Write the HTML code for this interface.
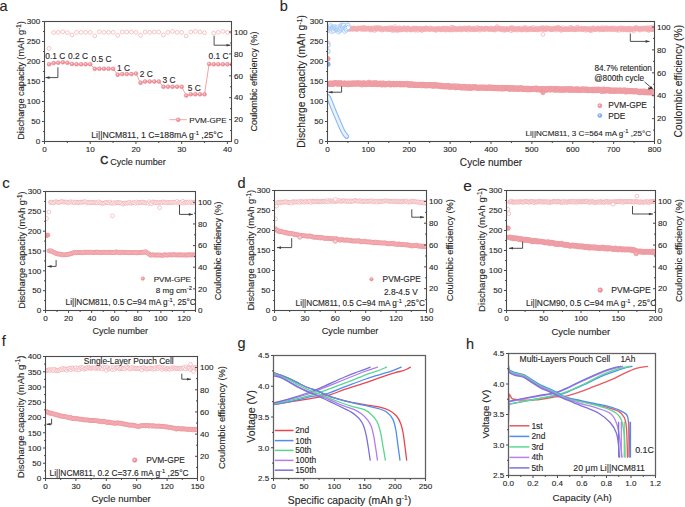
<!DOCTYPE html>
<html><head><meta charset="utf-8"><style>
html,body{margin:0;padding:0;background:#fff;width:685px;height:507px;overflow:hidden}
svg{display:block}
text{font-family:"Liberation Sans", sans-serif;fill:#262626;stroke:#262626;stroke-width:0.12px}
</style></head><body>
<svg width="685" height="507" viewBox="0 0 685 507">
<rect width="685" height="507" fill="#fff"/>
<text x="44.50" y="152.10" font-size="8.1" text-anchor="middle">0</text>
<text x="90.22" y="152.10" font-size="8.1" text-anchor="middle">10</text>
<text x="135.94" y="152.10" font-size="8.1" text-anchor="middle">20</text>
<text x="181.66" y="152.10" font-size="8.1" text-anchor="middle">30</text>
<text x="227.39" y="152.10" font-size="8.1" text-anchor="middle">40</text>
<text x="40.30" y="144.25" font-size="8.1" text-anchor="end">0</text>
<text x="40.30" y="124.25" font-size="8.1" text-anchor="end">50</text>
<text x="40.30" y="104.25" font-size="8.1" text-anchor="end">100</text>
<text x="40.30" y="84.25" font-size="8.1" text-anchor="end">150</text>
<text x="40.30" y="64.25" font-size="8.1" text-anchor="end">200</text>
<text x="40.30" y="44.25" font-size="8.1" text-anchor="end">250</text>
<text x="40.30" y="24.25" font-size="8.1" text-anchor="end">300</text>
<text x="234.00" y="144.25" font-size="8.1">0</text>
<text x="234.00" y="122.35" font-size="8.1">20</text>
<text x="234.00" y="100.45" font-size="8.1">40</text>
<text x="234.00" y="78.56" font-size="8.1">60</text>
<text x="234.00" y="56.66" font-size="8.1">80</text>
<text x="234.00" y="34.76" font-size="8.1">100</text>
<text x="-0.50" y="11.00" font-size="14.5" >a</text>
<text transform="translate(24.20,80.50) rotate(-90)" font-size="9.2" text-anchor="middle">Discharge capacity (mAh g<tspan dy="-0.471em" font-size="0.7em">-1</tspan><tspan dy="0.33em">)</tspan></text>
<text transform="translate(257.00,81.50) rotate(-90)" font-size="9.1" text-anchor="middle">Coulombic efficiency (%)</text>
<text x="100.30" y="164.30" font-size="11" style="stroke-width:0.45px">C</text>
<text x="110.20" y="165.00" font-size="9" >Cycle number</text>
<text x="327.50" y="152.10" font-size="8.1" text-anchor="middle">0</text>
<text x="368.38" y="152.10" font-size="8.1" text-anchor="middle">100</text>
<text x="409.25" y="152.10" font-size="8.1" text-anchor="middle">200</text>
<text x="450.12" y="152.10" font-size="8.1" text-anchor="middle">300</text>
<text x="491.00" y="152.10" font-size="8.1" text-anchor="middle">400</text>
<text x="531.88" y="152.10" font-size="8.1" text-anchor="middle">500</text>
<text x="572.75" y="152.10" font-size="8.1" text-anchor="middle">600</text>
<text x="613.62" y="152.10" font-size="8.1" text-anchor="middle">700</text>
<text x="654.50" y="152.10" font-size="8.1" text-anchor="middle">800</text>
<text x="323.30" y="144.25" font-size="8.1" text-anchor="end">0</text>
<text x="323.30" y="124.25" font-size="8.1" text-anchor="end">50</text>
<text x="323.30" y="104.25" font-size="8.1" text-anchor="end">100</text>
<text x="323.30" y="84.25" font-size="8.1" text-anchor="end">150</text>
<text x="323.30" y="64.25" font-size="8.1" text-anchor="end">200</text>
<text x="323.30" y="44.25" font-size="8.1" text-anchor="end">250</text>
<text x="323.30" y="24.25" font-size="8.1" text-anchor="end">300</text>
<text x="657.00" y="144.25" font-size="8.1">0</text>
<text x="657.00" y="121.35" font-size="8.1">20</text>
<text x="657.00" y="98.45" font-size="8.1">40</text>
<text x="657.00" y="75.55" font-size="8.1">60</text>
<text x="657.00" y="52.65" font-size="8.1">80</text>
<text x="657.00" y="29.75" font-size="8.1">100</text>
<text x="279.70" y="10.90" font-size="14.5" >b</text>
<text transform="translate(305.00,81.40) rotate(-90)" font-size="10.3" text-anchor="middle">Discharge capacity (mAh g<tspan dy="-0.471em" font-size="0.7em">-1</tspan><tspan dy="0.33em">)</tspan></text>
<text transform="translate(682.00,81.25) rotate(-90)" font-size="10.25" text-anchor="middle">Coulombic efficiency (%)</text>
<text x="491.00" y="166.00" font-size="10.1" text-anchor="middle" >Cycle number</text>
<text x="45.50" y="321.10" font-size="8.1" text-anchor="middle">0</text>
<text x="68.58" y="321.10" font-size="8.1" text-anchor="middle">20</text>
<text x="91.65" y="321.10" font-size="8.1" text-anchor="middle">40</text>
<text x="114.73" y="321.10" font-size="8.1" text-anchor="middle">60</text>
<text x="137.81" y="321.10" font-size="8.1" text-anchor="middle">80</text>
<text x="160.88" y="321.10" font-size="8.1" text-anchor="middle">100</text>
<text x="183.96" y="321.10" font-size="8.1" text-anchor="middle">120</text>
<text x="41.30" y="313.25" font-size="8.1" text-anchor="end">0</text>
<text x="41.30" y="293.42" font-size="8.1" text-anchor="end">50</text>
<text x="41.30" y="273.58" font-size="8.1" text-anchor="end">100</text>
<text x="41.30" y="253.75" font-size="8.1" text-anchor="end">150</text>
<text x="41.30" y="233.92" font-size="8.1" text-anchor="end">200</text>
<text x="41.30" y="214.08" font-size="8.1" text-anchor="end">250</text>
<text x="41.30" y="194.25" font-size="8.1" text-anchor="end">300</text>
<text x="198.00" y="313.25" font-size="8.1">0</text>
<text x="198.00" y="291.61" font-size="8.1">20</text>
<text x="198.00" y="269.98" font-size="8.1">40</text>
<text x="198.00" y="248.34" font-size="8.1">60</text>
<text x="198.00" y="226.70" font-size="8.1">80</text>
<text x="198.00" y="205.07" font-size="8.1">100</text>
<text x="2.30" y="188.00" font-size="15" >c</text>
<text transform="translate(25.00,250.20) rotate(-90)" font-size="9.1" text-anchor="middle">Discharge capacity (mAh g<tspan dy="-0.471em" font-size="0.7em">-1</tspan><tspan dy="0.33em">)</tspan></text>
<text transform="translate(221.30,250.90) rotate(-90)" font-size="9.0" text-anchor="middle">Coulombic efficiency (%)</text>
<text x="120.20" y="333.60" font-size="9" text-anchor="middle" >Cycle number</text>
<text x="274.50" y="321.10" font-size="8.1" text-anchor="middle">0</text>
<text x="304.90" y="321.10" font-size="8.1" text-anchor="middle">30</text>
<text x="335.30" y="321.10" font-size="8.1" text-anchor="middle">60</text>
<text x="365.70" y="321.10" font-size="8.1" text-anchor="middle">90</text>
<text x="396.10" y="321.10" font-size="8.1" text-anchor="middle">120</text>
<text x="426.50" y="321.10" font-size="8.1" text-anchor="middle">150</text>
<text x="270.30" y="313.25" font-size="8.1" text-anchor="end">0</text>
<text x="270.30" y="293.25" font-size="8.1" text-anchor="end">50</text>
<text x="270.30" y="273.25" font-size="8.1" text-anchor="end">100</text>
<text x="270.30" y="253.25" font-size="8.1" text-anchor="end">150</text>
<text x="270.30" y="233.25" font-size="8.1" text-anchor="end">200</text>
<text x="270.30" y="213.25" font-size="8.1" text-anchor="end">250</text>
<text x="270.30" y="193.25" font-size="8.1" text-anchor="end">300</text>
<text x="429.00" y="313.25" font-size="8.1">0</text>
<text x="429.00" y="291.43" font-size="8.1">20</text>
<text x="429.00" y="269.61" font-size="8.1">40</text>
<text x="429.00" y="247.80" font-size="8.1">60</text>
<text x="429.00" y="225.98" font-size="8.1">80</text>
<text x="429.00" y="204.16" font-size="8.1">100</text>
<text x="237.50" y="188.00" font-size="14.5" >d</text>
<text transform="translate(254.00,250.10) rotate(-90)" font-size="9.35" text-anchor="middle">Discharge capacity (mAh g<tspan dy="-0.471em" font-size="0.7em">-1</tspan><tspan dy="0.33em">)</tspan></text>
<text transform="translate(452.90,250.20) rotate(-90)" font-size="9.3" text-anchor="middle">Coulombic efficiency (%)</text>
<text x="350.00" y="334.00" font-size="9.2" text-anchor="middle" >Cycle number</text>
<text x="506.50" y="321.10" font-size="8.1" text-anchor="middle">0</text>
<text x="543.75" y="321.10" font-size="8.1" text-anchor="middle">50</text>
<text x="581.00" y="321.10" font-size="8.1" text-anchor="middle">100</text>
<text x="618.25" y="321.10" font-size="8.1" text-anchor="middle">150</text>
<text x="655.50" y="321.10" font-size="8.1" text-anchor="middle">200</text>
<text x="502.30" y="313.25" font-size="8.1" text-anchor="end">0</text>
<text x="502.30" y="293.25" font-size="8.1" text-anchor="end">50</text>
<text x="502.30" y="273.25" font-size="8.1" text-anchor="end">100</text>
<text x="502.30" y="253.25" font-size="8.1" text-anchor="end">150</text>
<text x="502.30" y="233.25" font-size="8.1" text-anchor="end">200</text>
<text x="502.30" y="213.25" font-size="8.1" text-anchor="end">250</text>
<text x="502.30" y="193.25" font-size="8.1" text-anchor="end">300</text>
<text x="658.00" y="313.25" font-size="8.1">0</text>
<text x="658.00" y="291.43" font-size="8.1">20</text>
<text x="658.00" y="269.61" font-size="8.1">40</text>
<text x="658.00" y="247.80" font-size="8.1">60</text>
<text x="658.00" y="225.98" font-size="8.1">80</text>
<text x="658.00" y="204.16" font-size="8.1">100</text>
<text x="463.20" y="191.00" font-size="15.5" >e</text>
<text transform="translate(485.30,250.00) rotate(-90)" font-size="9.6" text-anchor="middle">Discharge capacity (mAh g<tspan dy="-0.471em" font-size="0.7em">-1</tspan><tspan dy="0.33em">)</tspan></text>
<text transform="translate(682.00,250.50) rotate(-90)" font-size="9.4" text-anchor="middle">Coulombic efficiency (%)</text>
<text x="580.80" y="334.80" font-size="9.5" text-anchor="middle" >Cycle number</text>
<text x="45.50" y="489.10" font-size="8.1" text-anchor="middle">0</text>
<text x="75.90" y="489.10" font-size="8.1" text-anchor="middle">30</text>
<text x="106.30" y="489.10" font-size="8.1" text-anchor="middle">60</text>
<text x="136.70" y="489.10" font-size="8.1" text-anchor="middle">90</text>
<text x="167.10" y="489.10" font-size="8.1" text-anchor="middle">120</text>
<text x="197.50" y="489.10" font-size="8.1" text-anchor="middle">150</text>
<text x="41.30" y="481.25" font-size="8.1" text-anchor="end">0</text>
<text x="41.30" y="466.00" font-size="8.1" text-anchor="end">50</text>
<text x="41.30" y="450.75" font-size="8.1" text-anchor="end">100</text>
<text x="41.30" y="435.50" font-size="8.1" text-anchor="end">150</text>
<text x="41.30" y="420.25" font-size="8.1" text-anchor="end">200</text>
<text x="41.30" y="405.00" font-size="8.1" text-anchor="end">250</text>
<text x="41.30" y="389.75" font-size="8.1" text-anchor="end">300</text>
<text x="41.30" y="374.50" font-size="8.1" text-anchor="end">350</text>
<text x="41.30" y="359.25" font-size="8.1" text-anchor="end">400</text>
<text x="200.00" y="481.25" font-size="8.1">0</text>
<text x="200.00" y="459.07" font-size="8.1">20</text>
<text x="200.00" y="436.89" font-size="8.1">40</text>
<text x="200.00" y="414.70" font-size="8.1">60</text>
<text x="200.00" y="392.52" font-size="8.1">80</text>
<text x="200.00" y="370.34" font-size="8.1">100</text>
<text x="1.70" y="346.30" font-size="14.5" >f</text>
<text transform="translate(23.50,416.90) rotate(-90)" font-size="9.5" text-anchor="middle">Discharge capacity (mAh g<tspan dy="-0.471em" font-size="0.7em">-1</tspan><tspan dy="0.33em">)</tspan></text>
<text transform="translate(224.70,417.50) rotate(-90)" font-size="9.4" text-anchor="middle">Coulombic efficiency (%)</text>
<text x="121.20" y="502.10" font-size="9.6" text-anchor="middle" >Cycle number</text>
<text x="273.50" y="489.10" font-size="8.1" text-anchor="middle">0</text>
<text x="303.90" y="489.10" font-size="8.1" text-anchor="middle">50</text>
<text x="334.30" y="489.10" font-size="8.1" text-anchor="middle">100</text>
<text x="364.70" y="489.10" font-size="8.1" text-anchor="middle">150</text>
<text x="395.10" y="489.10" font-size="8.1" text-anchor="middle">200</text>
<text x="425.50" y="489.10" font-size="8.1" text-anchor="middle">250</text>
<text x="269.30" y="481.25" font-size="8.1" text-anchor="end">2.5</text>
<text x="269.30" y="450.50" font-size="8.1" text-anchor="end">3.0</text>
<text x="269.30" y="419.75" font-size="8.1" text-anchor="end">3.5</text>
<text x="269.30" y="389.00" font-size="8.1" text-anchor="end">4.0</text>
<text x="269.30" y="358.25" font-size="8.1" text-anchor="end">4.5</text>
<text x="237.50" y="348.30" font-size="14.5" >g</text>
<text transform="translate(255.30,416.50) rotate(-90)" font-size="10.6" text-anchor="middle">Voltage (V)</text>
<text x="349.50" y="503.60" font-size="10.4" text-anchor="middle" >Specific capacity (mAh g<tspan dy="-3.6" font-size="6.8">-1</tspan><tspan dy="3.6">)</tspan></text>
<text x="508.50" y="486.10" font-size="8.1" text-anchor="middle">0.0</text>
<text x="533.00" y="486.10" font-size="8.1" text-anchor="middle">0.2</text>
<text x="557.50" y="486.10" font-size="8.1" text-anchor="middle">0.4</text>
<text x="582.00" y="486.10" font-size="8.1" text-anchor="middle">0.6</text>
<text x="606.50" y="486.10" font-size="8.1" text-anchor="middle">0.8</text>
<text x="631.00" y="486.10" font-size="8.1" text-anchor="middle">1.0</text>
<text x="655.50" y="486.10" font-size="8.1" text-anchor="middle">1.2</text>
<text x="504.30" y="478.25" font-size="8.1" text-anchor="end">2.5</text>
<text x="504.30" y="447.75" font-size="8.1" text-anchor="end">3.0</text>
<text x="504.30" y="417.25" font-size="8.1" text-anchor="end">3.5</text>
<text x="504.30" y="386.75" font-size="8.1" text-anchor="end">4.0</text>
<text x="504.30" y="356.25" font-size="8.1" text-anchor="end">4.5</text>
<text x="465.90" y="348.80" font-size="14.5" >h</text>
<text transform="translate(489.00,414.10) rotate(-90)" font-size="9.9" text-anchor="middle">Voltage (V)</text>
<text x="582.20" y="500.70" font-size="9.8" text-anchor="middle" >Capacity (Ah)</text>
<defs><radialGradient id="pg" cx="0.42" cy="0.4" r="0.62"><stop offset="0" stop-color="#fbe4e7"/><stop offset="0.45" stop-color="#f09aa2"/><stop offset="1" stop-color="#e6808a"/></radialGradient><radialGradient id="bg" cx="0.42" cy="0.4" r="0.62"><stop offset="0" stop-color="#e4f0fd"/><stop offset="0.45" stop-color="#8db9ee"/><stop offset="1" stop-color="#6a9ee2"/></radialGradient></defs>
<clipPath id="ca"><rect x="44.5" y="21.5" width="187.0" height="120.0"/></clipPath>
<path d="M49.07,64.30L53.64,63.10L58.22,62.70L62.79,62.30L67.36,62.70L71.93,63.90L76.50,64.30L81.08,64.30L85.65,64.30L90.22,64.30L94.79,68.70L99.37,68.70L103.94,68.70L108.51,68.70L113.08,68.70L117.65,74.70L122.23,74.10L126.80,74.10L131.37,74.10L135.94,73.50L140.51,82.70L145.09,81.50L149.66,81.50L154.23,81.50L158.80,81.50L163.38,86.70L167.95,86.70L172.52,86.70L177.09,86.70L181.66,86.70L186.24,95.50L190.81,94.30L195.38,94.30L199.95,94.30L204.52,94.30L209.10,63.90L213.67,64.30L218.24,64.30L222.81,64.30L227.39,64.30L231.96,64.30" fill="none" stroke="#f08a90" stroke-width="0.8" stroke-linejoin="round" clip-path="url(#ca)"/>
<g fill="none" stroke="#f3acb0" stroke-width="0.7" clip-path="url(#ca)"><circle cx="49.07" cy="48.43" r="1.9"/><circle cx="53.64" cy="32.56" r="1.9"/><circle cx="58.22" cy="32.34" r="1.9"/><circle cx="62.79" cy="31.79" r="1.9"/><circle cx="67.36" cy="32.56" r="1.9"/><circle cx="71.93" cy="34.97" r="1.9"/><circle cx="76.50" cy="32.34" r="1.9"/><circle cx="81.08" cy="32.34" r="1.9"/><circle cx="85.65" cy="32.34" r="1.9"/><circle cx="90.22" cy="32.34" r="1.9"/><circle cx="94.79" cy="35.84" r="1.9"/><circle cx="99.37" cy="31.79" r="1.9"/><circle cx="103.94" cy="32.34" r="1.9"/><circle cx="108.51" cy="32.34" r="1.9"/><circle cx="113.08" cy="32.34" r="1.9"/><circle cx="117.65" cy="35.30" r="1.9"/><circle cx="122.23" cy="32.01" r="1.9"/><circle cx="126.80" cy="32.01" r="1.9"/><circle cx="131.37" cy="32.01" r="1.9"/><circle cx="135.94" cy="32.34" r="1.9"/><circle cx="140.51" cy="35.30" r="1.9"/><circle cx="145.09" cy="32.01" r="1.9"/><circle cx="149.66" cy="32.34" r="1.9"/><circle cx="154.23" cy="32.01" r="1.9"/><circle cx="158.80" cy="32.01" r="1.9"/><circle cx="163.38" cy="34.97" r="1.9"/><circle cx="167.95" cy="32.34" r="1.9"/><circle cx="172.52" cy="31.46" r="1.9"/><circle cx="177.09" cy="32.34" r="1.9"/><circle cx="181.66" cy="32.34" r="1.9"/><circle cx="186.24" cy="35.84" r="1.9"/><circle cx="190.81" cy="32.01" r="1.9"/><circle cx="195.38" cy="31.46" r="1.9"/><circle cx="199.95" cy="32.01" r="1.9"/><circle cx="204.52" cy="32.78" r="1.9"/><circle cx="213.67" cy="33.11" r="1.9"/><circle cx="218.24" cy="32.34" r="1.9"/><circle cx="222.81" cy="31.46" r="1.9"/><circle cx="227.39" cy="32.34" r="1.9"/><circle cx="231.96" cy="32.34" r="1.9"/></g>
<g fill="url(#pg)" stroke="#e8848d" stroke-width="0.4" clip-path="url(#ca)"><circle cx="49.07" cy="64.30" r="2.0"/><circle cx="53.64" cy="63.10" r="2.0"/><circle cx="58.22" cy="62.70" r="2.0"/><circle cx="62.79" cy="62.30" r="2.0"/><circle cx="67.36" cy="62.70" r="2.0"/><circle cx="71.93" cy="63.90" r="2.0"/><circle cx="76.50" cy="64.30" r="2.0"/><circle cx="81.08" cy="64.30" r="2.0"/><circle cx="85.65" cy="64.30" r="2.0"/><circle cx="90.22" cy="64.30" r="2.0"/><circle cx="94.79" cy="68.70" r="2.0"/><circle cx="99.37" cy="68.70" r="2.0"/><circle cx="103.94" cy="68.70" r="2.0"/><circle cx="108.51" cy="68.70" r="2.0"/><circle cx="113.08" cy="68.70" r="2.0"/><circle cx="117.65" cy="74.70" r="2.0"/><circle cx="122.23" cy="74.10" r="2.0"/><circle cx="126.80" cy="74.10" r="2.0"/><circle cx="131.37" cy="74.10" r="2.0"/><circle cx="135.94" cy="73.50" r="2.0"/><circle cx="140.51" cy="82.70" r="2.0"/><circle cx="145.09" cy="81.50" r="2.0"/><circle cx="149.66" cy="81.50" r="2.0"/><circle cx="154.23" cy="81.50" r="2.0"/><circle cx="158.80" cy="81.50" r="2.0"/><circle cx="163.38" cy="86.70" r="2.0"/><circle cx="167.95" cy="86.70" r="2.0"/><circle cx="172.52" cy="86.70" r="2.0"/><circle cx="177.09" cy="86.70" r="2.0"/><circle cx="181.66" cy="86.70" r="2.0"/><circle cx="186.24" cy="95.50" r="2.0"/><circle cx="190.81" cy="94.30" r="2.0"/><circle cx="195.38" cy="94.30" r="2.0"/><circle cx="199.95" cy="94.30" r="2.0"/><circle cx="204.52" cy="94.30" r="2.0"/><circle cx="209.10" cy="63.90" r="2.0"/><circle cx="213.67" cy="64.30" r="2.0"/><circle cx="218.24" cy="64.30" r="2.0"/><circle cx="222.81" cy="64.30" r="2.0"/><circle cx="227.39" cy="64.30" r="2.0"/><circle cx="231.96" cy="64.30" r="2.0"/></g>
<text x="45.30" y="58.60" font-size="8.4" >0.1 C</text>
<text x="68.10" y="58.60" font-size="8.4" >0.2 C</text>
<text x="91.50" y="62.30" font-size="8.4" >0.5 C</text>
<text x="117.00" y="70.50" font-size="8.4" >1 C</text>
<text x="139.70" y="76.80" font-size="8.4" >2 C</text>
<text x="162.40" y="82.60" font-size="8.4" >3 C</text>
<text x="187.70" y="90.70" font-size="8.4" >5 C</text>
<text x="208.60" y="59.40" font-size="8.4" >0.1 C</text>
<path d="M57.90,67.30L57.90,77.60L45.50,77.60" fill="none" stroke="#3a3a3a" stroke-width="0.9"/>
<path d="M45.50,77.60l4,-1.3v2.6z" fill="#3a3a3a"/>
<path d="M214.10,35.80L214.10,45.20L230.50,45.20" fill="none" stroke="#3a3a3a" stroke-width="0.9"/>
<path d="M230.50,45.20l-4,-1.3v2.6z" fill="#3a3a3a"/>
<path d="M169.40,119.70L186.90,119.70" fill="none" stroke="#f08a90" stroke-width="0.8" stroke-linejoin="round"/>
<g fill="url(#pg)" stroke="#e8848d" stroke-width="0.4"><circle cx="178.20" cy="119.70" r="2.0"/></g>
<text x="189.30" y="123.00" font-size="8.1" >PVM-GPE</text>
<text x="91.30" y="137.60" font-size="8.68" >Li||NCM811, 1 C=188mA g<tspan dy="-3" font-size="5.8">-1</tspan><tspan dy="3"> ,25°C</tspan></text>
<clipPath id="cb"><rect x="327.5" y="21.5" width="327.0" height="120.0"/></clipPath>
<g fill="none" stroke="#f3acb0" stroke-width="0.7" clip-path="url(#cb)"><circle cx="328.32" cy="29.78" r="1.9"/><circle cx="328.73" cy="28.68" r="1.9"/><circle cx="329.13" cy="28.26" r="1.9"/><circle cx="329.54" cy="29.30" r="1.9"/><circle cx="329.95" cy="29.86" r="1.9"/><circle cx="330.36" cy="28.99" r="1.9"/><circle cx="330.77" cy="28.61" r="1.9"/><circle cx="331.18" cy="28.19" r="1.9"/><circle cx="331.59" cy="29.78" r="1.9"/><circle cx="332.00" cy="29.83" r="1.9"/><circle cx="332.40" cy="28.46" r="1.9"/><circle cx="332.81" cy="28.62" r="1.9"/><circle cx="333.22" cy="27.89" r="1.9"/><circle cx="333.63" cy="28.27" r="1.9"/><circle cx="334.04" cy="29.01" r="1.9"/><circle cx="334.45" cy="29.13" r="1.9"/><circle cx="334.86" cy="27.18" r="1.9"/><circle cx="335.27" cy="29.14" r="1.9"/><circle cx="335.68" cy="29.48" r="1.9"/><circle cx="336.08" cy="29.72" r="1.9"/><circle cx="336.49" cy="28.88" r="1.9"/><circle cx="336.90" cy="28.84" r="1.9"/><circle cx="337.31" cy="29.18" r="1.9"/><circle cx="337.72" cy="28.99" r="1.9"/><circle cx="338.13" cy="28.76" r="1.9"/><circle cx="338.54" cy="28.47" r="1.9"/><circle cx="338.94" cy="28.19" r="1.9"/><circle cx="339.35" cy="28.80" r="1.9"/><circle cx="339.76" cy="30.17" r="1.9"/><circle cx="340.17" cy="28.46" r="1.9"/><circle cx="340.58" cy="29.92" r="1.9"/><circle cx="340.99" cy="29.06" r="1.9"/><circle cx="341.40" cy="29.96" r="1.9"/><circle cx="341.81" cy="28.94" r="1.9"/><circle cx="342.21" cy="29.48" r="1.9"/><circle cx="342.62" cy="28.80" r="1.9"/><circle cx="343.03" cy="26.68" r="1.9"/><circle cx="343.44" cy="28.98" r="1.9"/><circle cx="343.85" cy="28.36" r="1.9"/><circle cx="344.26" cy="29.85" r="1.9"/><circle cx="344.67" cy="29.14" r="1.9"/><circle cx="345.08" cy="28.49" r="1.9"/><circle cx="345.49" cy="29.01" r="1.9"/><circle cx="345.89" cy="28.69" r="1.9"/><circle cx="346.30" cy="28.87" r="1.9"/><circle cx="346.71" cy="29.63" r="1.9"/><circle cx="347.12" cy="28.56" r="1.9"/><circle cx="347.53" cy="29.50" r="1.9"/><circle cx="347.94" cy="27.66" r="1.9"/><circle cx="348.35" cy="29.29" r="1.9"/><circle cx="348.75" cy="28.47" r="1.9"/><circle cx="349.16" cy="28.94" r="1.9"/><circle cx="349.57" cy="28.29" r="1.9"/><circle cx="349.98" cy="29.36" r="1.9"/><circle cx="350.39" cy="28.26" r="1.9"/><circle cx="350.80" cy="29.03" r="1.9"/><circle cx="351.21" cy="28.07" r="1.9"/><circle cx="351.62" cy="28.51" r="1.9"/><circle cx="352.02" cy="28.85" r="1.9"/><circle cx="352.43" cy="29.48" r="1.9"/><circle cx="352.84" cy="28.42" r="1.9"/><circle cx="353.25" cy="28.62" r="1.9"/><circle cx="353.66" cy="27.81" r="1.9"/><circle cx="354.07" cy="29.20" r="1.9"/><circle cx="354.48" cy="28.56" r="1.9"/><circle cx="354.89" cy="28.59" r="1.9"/><circle cx="355.30" cy="28.75" r="1.9"/><circle cx="355.70" cy="28.80" r="1.9"/><circle cx="356.11" cy="28.82" r="1.9"/><circle cx="356.52" cy="29.35" r="1.9"/><circle cx="356.93" cy="29.64" r="1.9"/><circle cx="357.34" cy="29.22" r="1.9"/><circle cx="357.75" cy="28.54" r="1.9"/><circle cx="358.16" cy="27.90" r="1.9"/><circle cx="358.56" cy="28.27" r="1.9"/><circle cx="358.97" cy="28.22" r="1.9"/><circle cx="359.38" cy="28.41" r="1.9"/><circle cx="359.79" cy="28.46" r="1.9"/><circle cx="360.20" cy="28.82" r="1.9"/><circle cx="360.61" cy="28.41" r="1.9"/><circle cx="361.02" cy="27.72" r="1.9"/><circle cx="361.43" cy="29.17" r="1.9"/><circle cx="361.83" cy="29.42" r="1.9"/><circle cx="362.24" cy="27.60" r="1.9"/><circle cx="362.65" cy="28.77" r="1.9"/><circle cx="363.06" cy="28.28" r="1.9"/><circle cx="363.47" cy="28.34" r="1.9"/><circle cx="363.88" cy="29.72" r="1.9"/><circle cx="364.29" cy="27.27" r="1.9"/><circle cx="364.70" cy="27.72" r="1.9"/><circle cx="365.11" cy="28.82" r="1.9"/><circle cx="365.51" cy="28.43" r="1.9"/><circle cx="365.92" cy="28.86" r="1.9"/><circle cx="366.33" cy="29.55" r="1.9"/><circle cx="366.74" cy="29.02" r="1.9"/><circle cx="367.15" cy="28.69" r="1.9"/><circle cx="367.56" cy="28.18" r="1.9"/><circle cx="367.97" cy="28.46" r="1.9"/><circle cx="368.38" cy="28.90" r="1.9"/><circle cx="368.78" cy="28.01" r="1.9"/><circle cx="369.19" cy="29.47" r="1.9"/><circle cx="369.60" cy="28.40" r="1.9"/><circle cx="370.01" cy="28.18" r="1.9"/><circle cx="370.42" cy="29.14" r="1.9"/><circle cx="370.83" cy="30.17" r="1.9"/><circle cx="371.24" cy="29.57" r="1.9"/><circle cx="371.64" cy="28.78" r="1.9"/><circle cx="372.05" cy="28.58" r="1.9"/><circle cx="372.46" cy="27.88" r="1.9"/><circle cx="372.87" cy="29.63" r="1.9"/><circle cx="373.28" cy="28.94" r="1.9"/><circle cx="373.69" cy="28.50" r="1.9"/><circle cx="374.10" cy="29.05" r="1.9"/><circle cx="374.51" cy="30.57" r="1.9"/><circle cx="374.92" cy="28.39" r="1.9"/><circle cx="375.32" cy="27.35" r="1.9"/><circle cx="375.73" cy="28.25" r="1.9"/><circle cx="376.14" cy="29.57" r="1.9"/><circle cx="376.55" cy="29.23" r="1.9"/><circle cx="376.96" cy="28.79" r="1.9"/><circle cx="377.37" cy="27.23" r="1.9"/><circle cx="377.78" cy="28.52" r="1.9"/><circle cx="378.19" cy="28.86" r="1.9"/><circle cx="378.59" cy="27.87" r="1.9"/><circle cx="379.00" cy="29.00" r="1.9"/><circle cx="379.41" cy="27.66" r="1.9"/><circle cx="379.82" cy="29.41" r="1.9"/><circle cx="380.23" cy="29.27" r="1.9"/><circle cx="380.64" cy="28.45" r="1.9"/><circle cx="381.05" cy="27.96" r="1.9"/><circle cx="381.45" cy="28.49" r="1.9"/><circle cx="381.86" cy="28.74" r="1.9"/><circle cx="382.27" cy="30.19" r="1.9"/><circle cx="382.68" cy="29.43" r="1.9"/><circle cx="383.09" cy="29.36" r="1.9"/><circle cx="383.50" cy="29.31" r="1.9"/><circle cx="383.91" cy="28.54" r="1.9"/><circle cx="384.32" cy="29.17" r="1.9"/><circle cx="384.73" cy="28.40" r="1.9"/><circle cx="385.13" cy="28.89" r="1.9"/><circle cx="385.54" cy="29.17" r="1.9"/><circle cx="385.95" cy="28.86" r="1.9"/><circle cx="386.36" cy="28.65" r="1.9"/><circle cx="386.77" cy="28.35" r="1.9"/><circle cx="387.18" cy="29.27" r="1.9"/><circle cx="387.59" cy="29.10" r="1.9"/><circle cx="388.00" cy="29.88" r="1.9"/><circle cx="388.40" cy="27.84" r="1.9"/><circle cx="388.81" cy="27.95" r="1.9"/><circle cx="389.22" cy="29.07" r="1.9"/><circle cx="389.63" cy="29.27" r="1.9"/><circle cx="390.04" cy="29.79" r="1.9"/><circle cx="390.45" cy="28.83" r="1.9"/><circle cx="390.86" cy="28.80" r="1.9"/><circle cx="391.26" cy="27.44" r="1.9"/><circle cx="391.67" cy="28.77" r="1.9"/><circle cx="392.08" cy="29.48" r="1.9"/><circle cx="392.49" cy="30.62" r="1.9"/><circle cx="392.90" cy="27.97" r="1.9"/><circle cx="393.31" cy="28.81" r="1.9"/><circle cx="393.72" cy="30.05" r="1.9"/><circle cx="394.13" cy="28.82" r="1.9"/><circle cx="394.53" cy="30.05" r="1.9"/><circle cx="394.94" cy="26.55" r="1.9"/><circle cx="395.35" cy="28.17" r="1.9"/><circle cx="395.76" cy="28.55" r="1.9"/><circle cx="396.17" cy="29.06" r="1.9"/><circle cx="396.58" cy="30.41" r="1.9"/><circle cx="396.99" cy="29.03" r="1.9"/><circle cx="397.40" cy="30.01" r="1.9"/><circle cx="397.81" cy="28.53" r="1.9"/><circle cx="398.21" cy="30.41" r="1.9"/><circle cx="398.62" cy="29.57" r="1.9"/><circle cx="399.03" cy="28.10" r="1.9"/><circle cx="399.44" cy="27.81" r="1.9"/><circle cx="399.85" cy="29.75" r="1.9"/><circle cx="400.26" cy="30.00" r="1.9"/><circle cx="400.67" cy="28.34" r="1.9"/><circle cx="401.07" cy="28.36" r="1.9"/><circle cx="401.48" cy="29.62" r="1.9"/><circle cx="401.89" cy="29.42" r="1.9"/><circle cx="402.30" cy="29.42" r="1.9"/><circle cx="402.71" cy="29.76" r="1.9"/><circle cx="403.12" cy="29.41" r="1.9"/><circle cx="403.53" cy="28.08" r="1.9"/><circle cx="403.94" cy="28.47" r="1.9"/><circle cx="404.35" cy="27.53" r="1.9"/><circle cx="404.75" cy="29.00" r="1.9"/><circle cx="405.16" cy="29.04" r="1.9"/><circle cx="405.57" cy="29.62" r="1.9"/><circle cx="405.98" cy="29.03" r="1.9"/><circle cx="406.39" cy="29.84" r="1.9"/><circle cx="406.80" cy="30.16" r="1.9"/><circle cx="407.21" cy="28.46" r="1.9"/><circle cx="407.62" cy="27.95" r="1.9"/><circle cx="408.02" cy="28.37" r="1.9"/><circle cx="408.43" cy="28.03" r="1.9"/><circle cx="408.84" cy="28.77" r="1.9"/><circle cx="409.25" cy="29.44" r="1.9"/><circle cx="409.66" cy="28.88" r="1.9"/><circle cx="410.07" cy="29.20" r="1.9"/><circle cx="410.48" cy="29.71" r="1.9"/><circle cx="410.88" cy="30.11" r="1.9"/><circle cx="411.29" cy="29.96" r="1.9"/><circle cx="411.70" cy="28.95" r="1.9"/><circle cx="412.11" cy="28.84" r="1.9"/><circle cx="412.52" cy="29.27" r="1.9"/><circle cx="412.93" cy="27.96" r="1.9"/><circle cx="413.34" cy="28.82" r="1.9"/><circle cx="413.75" cy="28.54" r="1.9"/><circle cx="414.15" cy="28.11" r="1.9"/><circle cx="414.56" cy="29.51" r="1.9"/><circle cx="414.97" cy="30.30" r="1.9"/><circle cx="415.38" cy="28.43" r="1.9"/><circle cx="415.79" cy="29.42" r="1.9"/><circle cx="416.20" cy="28.04" r="1.9"/><circle cx="416.61" cy="28.71" r="1.9"/><circle cx="417.02" cy="28.25" r="1.9"/><circle cx="417.43" cy="28.42" r="1.9"/><circle cx="417.83" cy="30.37" r="1.9"/><circle cx="418.24" cy="28.45" r="1.9"/><circle cx="418.65" cy="29.41" r="1.9"/><circle cx="419.06" cy="29.46" r="1.9"/><circle cx="419.47" cy="29.24" r="1.9"/><circle cx="419.88" cy="28.42" r="1.9"/><circle cx="420.29" cy="28.34" r="1.9"/><circle cx="420.69" cy="28.25" r="1.9"/><circle cx="421.10" cy="30.08" r="1.9"/><circle cx="421.51" cy="29.35" r="1.9"/><circle cx="421.92" cy="30.57" r="1.9"/><circle cx="422.33" cy="29.01" r="1.9"/><circle cx="422.74" cy="28.53" r="1.9"/><circle cx="423.15" cy="29.47" r="1.9"/><circle cx="423.56" cy="28.77" r="1.9"/><circle cx="423.96" cy="28.78" r="1.9"/><circle cx="424.37" cy="28.25" r="1.9"/><circle cx="424.78" cy="29.51" r="1.9"/><circle cx="425.19" cy="29.51" r="1.9"/><circle cx="425.60" cy="29.47" r="1.9"/><circle cx="426.01" cy="27.74" r="1.9"/><circle cx="426.42" cy="28.19" r="1.9"/><circle cx="426.83" cy="29.03" r="1.9"/><circle cx="427.24" cy="28.79" r="1.9"/><circle cx="427.64" cy="28.86" r="1.9"/><circle cx="428.05" cy="28.80" r="1.9"/><circle cx="428.46" cy="29.09" r="1.9"/><circle cx="428.87" cy="29.17" r="1.9"/><circle cx="429.28" cy="29.81" r="1.9"/><circle cx="429.69" cy="29.38" r="1.9"/><circle cx="430.10" cy="27.81" r="1.9"/><circle cx="430.50" cy="28.57" r="1.9"/><circle cx="430.91" cy="28.90" r="1.9"/><circle cx="431.32" cy="29.09" r="1.9"/><circle cx="431.73" cy="28.90" r="1.9"/><circle cx="432.14" cy="28.70" r="1.9"/><circle cx="432.55" cy="29.39" r="1.9"/><circle cx="432.96" cy="28.81" r="1.9"/><circle cx="433.37" cy="28.78" r="1.9"/><circle cx="433.77" cy="29.46" r="1.9"/><circle cx="434.18" cy="29.48" r="1.9"/><circle cx="434.59" cy="29.63" r="1.9"/><circle cx="435.00" cy="29.67" r="1.9"/><circle cx="435.41" cy="28.33" r="1.9"/><circle cx="435.82" cy="30.56" r="1.9"/><circle cx="436.23" cy="29.13" r="1.9"/><circle cx="436.64" cy="29.36" r="1.9"/><circle cx="437.05" cy="29.37" r="1.9"/><circle cx="437.45" cy="28.88" r="1.9"/><circle cx="437.86" cy="28.17" r="1.9"/><circle cx="438.27" cy="28.89" r="1.9"/><circle cx="438.68" cy="29.04" r="1.9"/><circle cx="439.09" cy="29.36" r="1.9"/><circle cx="439.50" cy="29.03" r="1.9"/><circle cx="439.91" cy="28.32" r="1.9"/><circle cx="440.31" cy="29.21" r="1.9"/><circle cx="440.72" cy="29.73" r="1.9"/><circle cx="441.13" cy="29.81" r="1.9"/><circle cx="441.54" cy="29.70" r="1.9"/><circle cx="441.95" cy="29.90" r="1.9"/><circle cx="442.36" cy="28.19" r="1.9"/><circle cx="442.77" cy="28.70" r="1.9"/><circle cx="443.18" cy="29.11" r="1.9"/><circle cx="443.58" cy="27.94" r="1.9"/><circle cx="443.99" cy="29.39" r="1.9"/><circle cx="444.40" cy="28.43" r="1.9"/><circle cx="444.81" cy="28.39" r="1.9"/><circle cx="445.22" cy="30.01" r="1.9"/><circle cx="445.63" cy="30.01" r="1.9"/><circle cx="446.04" cy="29.58" r="1.9"/><circle cx="446.45" cy="28.32" r="1.9"/><circle cx="446.86" cy="28.05" r="1.9"/><circle cx="447.26" cy="29.79" r="1.9"/><circle cx="447.67" cy="28.22" r="1.9"/><circle cx="448.08" cy="29.21" r="1.9"/><circle cx="448.49" cy="29.21" r="1.9"/><circle cx="448.90" cy="29.32" r="1.9"/><circle cx="449.31" cy="29.17" r="1.9"/><circle cx="449.72" cy="30.19" r="1.9"/><circle cx="450.12" cy="29.63" r="1.9"/><circle cx="450.53" cy="29.79" r="1.9"/><circle cx="450.94" cy="28.61" r="1.9"/><circle cx="451.35" cy="27.51" r="1.9"/><circle cx="451.76" cy="27.07" r="1.9"/><circle cx="452.17" cy="29.17" r="1.9"/><circle cx="452.58" cy="30.13" r="1.9"/><circle cx="452.99" cy="29.22" r="1.9"/><circle cx="453.39" cy="29.59" r="1.9"/><circle cx="453.80" cy="27.58" r="1.9"/><circle cx="454.21" cy="28.55" r="1.9"/><circle cx="454.62" cy="29.44" r="1.9"/><circle cx="455.03" cy="28.30" r="1.9"/><circle cx="455.44" cy="28.57" r="1.9"/><circle cx="455.85" cy="30.06" r="1.9"/><circle cx="456.26" cy="29.31" r="1.9"/><circle cx="456.66" cy="29.11" r="1.9"/><circle cx="457.07" cy="28.93" r="1.9"/><circle cx="457.48" cy="28.85" r="1.9"/><circle cx="457.89" cy="29.18" r="1.9"/><circle cx="458.30" cy="28.81" r="1.9"/><circle cx="458.71" cy="29.35" r="1.9"/><circle cx="459.12" cy="29.56" r="1.9"/><circle cx="459.53" cy="27.90" r="1.9"/><circle cx="459.94" cy="28.70" r="1.9"/><circle cx="460.34" cy="28.64" r="1.9"/><circle cx="460.75" cy="30.04" r="1.9"/><circle cx="461.16" cy="29.06" r="1.9"/><circle cx="461.57" cy="28.38" r="1.9"/><circle cx="461.98" cy="29.83" r="1.9"/><circle cx="462.39" cy="28.19" r="1.9"/><circle cx="462.80" cy="29.21" r="1.9"/><circle cx="463.20" cy="28.67" r="1.9"/><circle cx="463.61" cy="29.03" r="1.9"/><circle cx="464.02" cy="28.79" r="1.9"/><circle cx="464.43" cy="28.12" r="1.9"/><circle cx="464.84" cy="29.22" r="1.9"/><circle cx="465.25" cy="27.87" r="1.9"/><circle cx="465.66" cy="29.48" r="1.9"/><circle cx="466.07" cy="29.58" r="1.9"/><circle cx="466.48" cy="28.45" r="1.9"/><circle cx="466.88" cy="29.68" r="1.9"/><circle cx="467.29" cy="29.20" r="1.9"/><circle cx="467.70" cy="28.32" r="1.9"/><circle cx="468.11" cy="28.11" r="1.9"/><circle cx="468.52" cy="30.16" r="1.9"/><circle cx="468.93" cy="28.60" r="1.9"/><circle cx="469.34" cy="27.65" r="1.9"/><circle cx="469.75" cy="28.12" r="1.9"/><circle cx="470.15" cy="29.11" r="1.9"/><circle cx="470.56" cy="29.36" r="1.9"/><circle cx="470.97" cy="29.15" r="1.9"/><circle cx="471.38" cy="29.73" r="1.9"/><circle cx="471.79" cy="29.12" r="1.9"/><circle cx="472.20" cy="29.07" r="1.9"/><circle cx="472.61" cy="29.04" r="1.9"/><circle cx="473.01" cy="28.13" r="1.9"/><circle cx="473.42" cy="29.10" r="1.9"/><circle cx="473.83" cy="29.94" r="1.9"/><circle cx="474.24" cy="28.22" r="1.9"/><circle cx="474.65" cy="29.68" r="1.9"/><circle cx="475.06" cy="29.25" r="1.9"/><circle cx="475.47" cy="29.03" r="1.9"/><circle cx="475.88" cy="29.18" r="1.9"/><circle cx="476.28" cy="29.63" r="1.9"/><circle cx="476.69" cy="29.11" r="1.9"/><circle cx="477.10" cy="27.44" r="1.9"/><circle cx="477.51" cy="29.36" r="1.9"/><circle cx="477.92" cy="29.04" r="1.9"/><circle cx="478.33" cy="28.17" r="1.9"/><circle cx="478.74" cy="28.43" r="1.9"/><circle cx="479.15" cy="28.42" r="1.9"/><circle cx="479.56" cy="28.35" r="1.9"/><circle cx="479.96" cy="30.29" r="1.9"/><circle cx="480.37" cy="29.54" r="1.9"/><circle cx="480.78" cy="28.85" r="1.9"/><circle cx="481.19" cy="28.60" r="1.9"/><circle cx="481.60" cy="28.05" r="1.9"/><circle cx="482.01" cy="28.62" r="1.9"/><circle cx="482.42" cy="29.11" r="1.9"/><circle cx="482.82" cy="28.92" r="1.9"/><circle cx="483.23" cy="29.09" r="1.9"/><circle cx="483.64" cy="28.77" r="1.9"/><circle cx="484.05" cy="28.48" r="1.9"/><circle cx="484.46" cy="29.18" r="1.9"/><circle cx="484.87" cy="29.50" r="1.9"/><circle cx="485.28" cy="29.53" r="1.9"/><circle cx="485.69" cy="28.19" r="1.9"/><circle cx="486.10" cy="28.06" r="1.9"/><circle cx="486.50" cy="28.26" r="1.9"/><circle cx="486.91" cy="28.35" r="1.9"/><circle cx="487.32" cy="28.37" r="1.9"/><circle cx="487.73" cy="28.94" r="1.9"/><circle cx="488.14" cy="28.49" r="1.9"/><circle cx="488.55" cy="29.67" r="1.9"/><circle cx="488.96" cy="29.08" r="1.9"/><circle cx="489.37" cy="29.45" r="1.9"/><circle cx="489.77" cy="28.44" r="1.9"/><circle cx="490.18" cy="29.34" r="1.9"/><circle cx="490.59" cy="29.02" r="1.9"/><circle cx="491.00" cy="28.67" r="1.9"/><circle cx="491.41" cy="28.01" r="1.9"/><circle cx="491.82" cy="29.49" r="1.9"/><circle cx="492.23" cy="29.59" r="1.9"/><circle cx="492.63" cy="28.38" r="1.9"/><circle cx="493.04" cy="29.70" r="1.9"/><circle cx="493.45" cy="28.63" r="1.9"/><circle cx="493.86" cy="29.33" r="1.9"/><circle cx="494.27" cy="29.02" r="1.9"/><circle cx="494.68" cy="30.19" r="1.9"/><circle cx="495.09" cy="28.45" r="1.9"/><circle cx="495.50" cy="29.29" r="1.9"/><circle cx="495.90" cy="29.56" r="1.9"/><circle cx="496.31" cy="27.52" r="1.9"/><circle cx="496.72" cy="28.45" r="1.9"/><circle cx="497.13" cy="26.53" r="1.9"/><circle cx="497.54" cy="28.66" r="1.9"/><circle cx="497.95" cy="29.18" r="1.9"/><circle cx="498.36" cy="28.87" r="1.9"/><circle cx="498.77" cy="27.84" r="1.9"/><circle cx="499.18" cy="28.96" r="1.9"/><circle cx="499.58" cy="28.63" r="1.9"/><circle cx="499.99" cy="28.59" r="1.9"/><circle cx="500.40" cy="29.57" r="1.9"/><circle cx="500.81" cy="28.85" r="1.9"/><circle cx="501.22" cy="29.29" r="1.9"/><circle cx="501.63" cy="29.80" r="1.9"/><circle cx="502.04" cy="28.34" r="1.9"/><circle cx="502.45" cy="28.49" r="1.9"/><circle cx="502.85" cy="28.89" r="1.9"/><circle cx="503.26" cy="29.57" r="1.9"/><circle cx="503.67" cy="30.32" r="1.9"/><circle cx="504.08" cy="28.61" r="1.9"/><circle cx="504.49" cy="29.01" r="1.9"/><circle cx="504.90" cy="30.10" r="1.9"/><circle cx="505.31" cy="28.98" r="1.9"/><circle cx="505.72" cy="29.99" r="1.9"/><circle cx="506.12" cy="28.96" r="1.9"/><circle cx="506.53" cy="28.84" r="1.9"/><circle cx="506.94" cy="28.70" r="1.9"/><circle cx="507.35" cy="28.79" r="1.9"/><circle cx="507.76" cy="28.83" r="1.9"/><circle cx="508.17" cy="29.73" r="1.9"/><circle cx="508.58" cy="29.21" r="1.9"/><circle cx="508.99" cy="29.29" r="1.9"/><circle cx="509.39" cy="29.10" r="1.9"/><circle cx="509.80" cy="28.76" r="1.9"/><circle cx="510.21" cy="28.52" r="1.9"/><circle cx="510.62" cy="27.82" r="1.9"/><circle cx="511.03" cy="30.71" r="1.9"/><circle cx="511.44" cy="28.67" r="1.9"/><circle cx="511.85" cy="29.08" r="1.9"/><circle cx="512.25" cy="27.38" r="1.9"/><circle cx="512.66" cy="28.30" r="1.9"/><circle cx="513.07" cy="30.08" r="1.9"/><circle cx="513.48" cy="28.67" r="1.9"/><circle cx="513.89" cy="29.30" r="1.9"/><circle cx="514.30" cy="28.26" r="1.9"/><circle cx="514.71" cy="29.67" r="1.9"/><circle cx="515.12" cy="29.01" r="1.9"/><circle cx="515.52" cy="29.03" r="1.9"/><circle cx="515.93" cy="29.01" r="1.9"/><circle cx="516.34" cy="29.34" r="1.9"/><circle cx="516.75" cy="30.21" r="1.9"/><circle cx="517.16" cy="28.63" r="1.9"/><circle cx="517.57" cy="28.26" r="1.9"/><circle cx="517.98" cy="28.99" r="1.9"/><circle cx="518.39" cy="29.64" r="1.9"/><circle cx="518.79" cy="28.80" r="1.9"/><circle cx="519.20" cy="28.55" r="1.9"/><circle cx="519.61" cy="29.06" r="1.9"/><circle cx="520.02" cy="28.95" r="1.9"/><circle cx="520.43" cy="27.97" r="1.9"/><circle cx="520.84" cy="29.71" r="1.9"/><circle cx="521.25" cy="29.33" r="1.9"/><circle cx="521.66" cy="30.25" r="1.9"/><circle cx="522.07" cy="29.42" r="1.9"/><circle cx="522.47" cy="29.45" r="1.9"/><circle cx="522.88" cy="29.60" r="1.9"/><circle cx="523.29" cy="29.42" r="1.9"/><circle cx="523.70" cy="27.71" r="1.9"/><circle cx="524.11" cy="29.08" r="1.9"/><circle cx="524.52" cy="29.02" r="1.9"/><circle cx="524.93" cy="27.43" r="1.9"/><circle cx="525.34" cy="28.98" r="1.9"/><circle cx="525.74" cy="30.13" r="1.9"/><circle cx="526.15" cy="28.67" r="1.9"/><circle cx="526.56" cy="29.59" r="1.9"/><circle cx="526.97" cy="27.82" r="1.9"/><circle cx="527.38" cy="29.80" r="1.9"/><circle cx="527.79" cy="29.34" r="1.9"/><circle cx="528.20" cy="30.05" r="1.9"/><circle cx="528.61" cy="28.88" r="1.9"/><circle cx="529.01" cy="29.64" r="1.9"/><circle cx="529.42" cy="28.99" r="1.9"/><circle cx="529.83" cy="29.20" r="1.9"/><circle cx="530.24" cy="29.36" r="1.9"/><circle cx="530.65" cy="28.29" r="1.9"/><circle cx="531.06" cy="28.30" r="1.9"/><circle cx="531.47" cy="28.90" r="1.9"/><circle cx="531.88" cy="29.56" r="1.9"/><circle cx="532.28" cy="29.68" r="1.9"/><circle cx="532.69" cy="28.76" r="1.9"/><circle cx="533.10" cy="27.30" r="1.9"/><circle cx="533.51" cy="29.26" r="1.9"/><circle cx="533.92" cy="29.48" r="1.9"/><circle cx="534.33" cy="29.42" r="1.9"/><circle cx="534.74" cy="29.70" r="1.9"/><circle cx="535.14" cy="29.61" r="1.9"/><circle cx="535.55" cy="29.08" r="1.9"/><circle cx="535.96" cy="27.96" r="1.9"/><circle cx="536.37" cy="28.94" r="1.9"/><circle cx="536.78" cy="29.29" r="1.9"/><circle cx="537.19" cy="30.05" r="1.9"/><circle cx="537.60" cy="28.80" r="1.9"/><circle cx="538.01" cy="28.96" r="1.9"/><circle cx="538.41" cy="29.79" r="1.9"/><circle cx="538.82" cy="29.69" r="1.9"/><circle cx="539.23" cy="28.97" r="1.9"/><circle cx="539.64" cy="28.25" r="1.9"/><circle cx="540.05" cy="28.51" r="1.9"/><circle cx="540.46" cy="28.80" r="1.9"/><circle cx="540.87" cy="29.16" r="1.9"/><circle cx="541.28" cy="28.72" r="1.9"/><circle cx="541.68" cy="28.95" r="1.9"/><circle cx="542.09" cy="27.45" r="1.9"/><circle cx="542.50" cy="29.72" r="1.9"/><circle cx="542.91" cy="29.20" r="1.9"/><circle cx="543.32" cy="28.07" r="1.9"/><circle cx="543.73" cy="29.13" r="1.9"/><circle cx="544.14" cy="27.96" r="1.9"/><circle cx="544.55" cy="28.97" r="1.9"/><circle cx="544.96" cy="28.84" r="1.9"/><circle cx="545.36" cy="29.20" r="1.9"/><circle cx="545.77" cy="29.89" r="1.9"/><circle cx="546.18" cy="29.61" r="1.9"/><circle cx="546.59" cy="27.42" r="1.9"/><circle cx="547.00" cy="28.50" r="1.9"/><circle cx="547.41" cy="28.53" r="1.9"/><circle cx="547.82" cy="28.29" r="1.9"/><circle cx="548.23" cy="28.55" r="1.9"/><circle cx="548.63" cy="28.24" r="1.9"/><circle cx="549.04" cy="29.13" r="1.9"/><circle cx="549.45" cy="29.10" r="1.9"/><circle cx="549.86" cy="28.27" r="1.9"/><circle cx="550.27" cy="29.18" r="1.9"/><circle cx="550.68" cy="29.86" r="1.9"/><circle cx="551.09" cy="29.10" r="1.9"/><circle cx="551.50" cy="29.32" r="1.9"/><circle cx="551.90" cy="28.52" r="1.9"/><circle cx="552.31" cy="29.44" r="1.9"/><circle cx="552.72" cy="29.67" r="1.9"/><circle cx="553.13" cy="29.17" r="1.9"/><circle cx="553.54" cy="27.88" r="1.9"/><circle cx="553.95" cy="28.98" r="1.9"/><circle cx="554.36" cy="28.83" r="1.9"/><circle cx="554.76" cy="28.94" r="1.9"/><circle cx="555.17" cy="28.74" r="1.9"/><circle cx="555.58" cy="28.30" r="1.9"/><circle cx="555.99" cy="27.98" r="1.9"/><circle cx="556.40" cy="30.07" r="1.9"/><circle cx="556.81" cy="28.01" r="1.9"/><circle cx="557.22" cy="28.95" r="1.9"/><circle cx="557.63" cy="29.16" r="1.9"/><circle cx="558.03" cy="27.29" r="1.9"/><circle cx="558.44" cy="29.06" r="1.9"/><circle cx="558.85" cy="27.61" r="1.9"/><circle cx="559.26" cy="28.28" r="1.9"/><circle cx="559.67" cy="29.65" r="1.9"/><circle cx="560.08" cy="28.61" r="1.9"/><circle cx="560.49" cy="28.44" r="1.9"/><circle cx="560.90" cy="29.03" r="1.9"/><circle cx="561.30" cy="30.54" r="1.9"/><circle cx="561.71" cy="29.18" r="1.9"/><circle cx="562.12" cy="29.07" r="1.9"/><circle cx="562.53" cy="29.70" r="1.9"/><circle cx="562.94" cy="27.69" r="1.9"/><circle cx="563.35" cy="29.11" r="1.9"/><circle cx="563.76" cy="29.21" r="1.9"/><circle cx="564.17" cy="29.15" r="1.9"/><circle cx="564.58" cy="29.48" r="1.9"/><circle cx="564.98" cy="29.48" r="1.9"/><circle cx="565.39" cy="28.88" r="1.9"/><circle cx="565.80" cy="28.73" r="1.9"/><circle cx="566.21" cy="29.29" r="1.9"/><circle cx="566.62" cy="29.00" r="1.9"/><circle cx="567.03" cy="29.90" r="1.9"/><circle cx="567.44" cy="28.58" r="1.9"/><circle cx="567.85" cy="29.46" r="1.9"/><circle cx="568.25" cy="28.80" r="1.9"/><circle cx="568.66" cy="29.57" r="1.9"/><circle cx="569.07" cy="29.30" r="1.9"/><circle cx="569.48" cy="28.80" r="1.9"/><circle cx="569.89" cy="29.77" r="1.9"/><circle cx="570.30" cy="27.25" r="1.9"/><circle cx="570.71" cy="28.97" r="1.9"/><circle cx="571.12" cy="28.99" r="1.9"/><circle cx="571.52" cy="29.45" r="1.9"/><circle cx="571.93" cy="27.85" r="1.9"/><circle cx="572.34" cy="27.99" r="1.9"/><circle cx="572.75" cy="28.74" r="1.9"/><circle cx="573.16" cy="29.88" r="1.9"/><circle cx="573.57" cy="29.29" r="1.9"/><circle cx="573.98" cy="28.52" r="1.9"/><circle cx="574.38" cy="29.29" r="1.9"/><circle cx="574.79" cy="29.76" r="1.9"/><circle cx="575.20" cy="29.76" r="1.9"/><circle cx="575.61" cy="29.47" r="1.9"/><circle cx="576.02" cy="28.93" r="1.9"/><circle cx="576.43" cy="29.39" r="1.9"/><circle cx="576.84" cy="28.93" r="1.9"/><circle cx="577.25" cy="27.02" r="1.9"/><circle cx="577.65" cy="27.72" r="1.9"/><circle cx="578.06" cy="29.66" r="1.9"/><circle cx="578.47" cy="28.71" r="1.9"/><circle cx="578.88" cy="28.88" r="1.9"/><circle cx="579.29" cy="29.04" r="1.9"/><circle cx="579.70" cy="28.23" r="1.9"/><circle cx="580.11" cy="29.17" r="1.9"/><circle cx="580.52" cy="29.17" r="1.9"/><circle cx="580.92" cy="29.20" r="1.9"/><circle cx="581.33" cy="29.01" r="1.9"/><circle cx="581.74" cy="28.06" r="1.9"/><circle cx="582.15" cy="28.41" r="1.9"/><circle cx="582.56" cy="29.86" r="1.9"/><circle cx="582.97" cy="29.25" r="1.9"/><circle cx="583.38" cy="29.49" r="1.9"/><circle cx="583.79" cy="28.38" r="1.9"/><circle cx="584.19" cy="28.79" r="1.9"/><circle cx="584.60" cy="28.33" r="1.9"/><circle cx="585.01" cy="28.99" r="1.9"/><circle cx="585.42" cy="30.25" r="1.9"/><circle cx="585.83" cy="28.63" r="1.9"/><circle cx="586.24" cy="28.79" r="1.9"/><circle cx="586.65" cy="28.59" r="1.9"/><circle cx="587.06" cy="29.84" r="1.9"/><circle cx="587.47" cy="28.89" r="1.9"/><circle cx="587.87" cy="29.42" r="1.9"/><circle cx="588.28" cy="29.41" r="1.9"/><circle cx="588.69" cy="28.70" r="1.9"/><circle cx="589.10" cy="28.70" r="1.9"/><circle cx="589.51" cy="29.56" r="1.9"/><circle cx="589.92" cy="30.12" r="1.9"/><circle cx="590.33" cy="30.64" r="1.9"/><circle cx="590.74" cy="29.34" r="1.9"/><circle cx="591.14" cy="28.17" r="1.9"/><circle cx="591.55" cy="28.98" r="1.9"/><circle cx="591.96" cy="30.49" r="1.9"/><circle cx="592.37" cy="29.54" r="1.9"/><circle cx="592.78" cy="28.65" r="1.9"/><circle cx="593.19" cy="27.79" r="1.9"/><circle cx="593.60" cy="28.14" r="1.9"/><circle cx="594.00" cy="28.69" r="1.9"/><circle cx="594.41" cy="28.81" r="1.9"/><circle cx="594.82" cy="29.67" r="1.9"/><circle cx="595.23" cy="29.25" r="1.9"/><circle cx="595.64" cy="29.17" r="1.9"/><circle cx="596.05" cy="29.47" r="1.9"/><circle cx="596.46" cy="28.90" r="1.9"/><circle cx="596.87" cy="29.21" r="1.9"/><circle cx="597.27" cy="28.71" r="1.9"/><circle cx="597.68" cy="27.96" r="1.9"/><circle cx="598.09" cy="28.43" r="1.9"/><circle cx="598.50" cy="28.66" r="1.9"/><circle cx="598.91" cy="29.11" r="1.9"/><circle cx="599.32" cy="29.99" r="1.9"/><circle cx="599.73" cy="29.02" r="1.9"/><circle cx="600.14" cy="28.57" r="1.9"/><circle cx="600.55" cy="29.64" r="1.9"/><circle cx="600.95" cy="28.08" r="1.9"/><circle cx="601.36" cy="29.17" r="1.9"/><circle cx="601.77" cy="28.69" r="1.9"/><circle cx="602.18" cy="29.17" r="1.9"/><circle cx="602.59" cy="29.81" r="1.9"/><circle cx="603.00" cy="27.52" r="1.9"/><circle cx="603.41" cy="29.74" r="1.9"/><circle cx="603.82" cy="28.31" r="1.9"/><circle cx="604.22" cy="29.32" r="1.9"/><circle cx="604.63" cy="28.75" r="1.9"/><circle cx="605.04" cy="29.50" r="1.9"/><circle cx="605.45" cy="29.23" r="1.9"/><circle cx="605.86" cy="28.31" r="1.9"/><circle cx="606.27" cy="27.61" r="1.9"/><circle cx="606.68" cy="29.52" r="1.9"/><circle cx="607.09" cy="28.94" r="1.9"/><circle cx="607.49" cy="28.29" r="1.9"/><circle cx="607.90" cy="29.38" r="1.9"/><circle cx="608.31" cy="28.45" r="1.9"/><circle cx="608.72" cy="29.48" r="1.9"/><circle cx="609.13" cy="28.53" r="1.9"/><circle cx="609.54" cy="28.64" r="1.9"/><circle cx="609.95" cy="28.11" r="1.9"/><circle cx="610.36" cy="28.69" r="1.9"/><circle cx="610.76" cy="29.76" r="1.9"/><circle cx="611.17" cy="28.49" r="1.9"/><circle cx="611.58" cy="29.70" r="1.9"/><circle cx="611.99" cy="28.43" r="1.9"/><circle cx="612.40" cy="27.90" r="1.9"/><circle cx="612.81" cy="28.53" r="1.9"/><circle cx="613.22" cy="29.32" r="1.9"/><circle cx="613.62" cy="28.12" r="1.9"/><circle cx="614.03" cy="28.83" r="1.9"/><circle cx="614.44" cy="29.80" r="1.9"/><circle cx="614.85" cy="29.19" r="1.9"/><circle cx="615.26" cy="27.97" r="1.9"/><circle cx="615.67" cy="29.15" r="1.9"/><circle cx="616.08" cy="28.86" r="1.9"/><circle cx="616.49" cy="29.18" r="1.9"/><circle cx="616.89" cy="30.10" r="1.9"/><circle cx="617.30" cy="29.29" r="1.9"/><circle cx="617.71" cy="28.70" r="1.9"/><circle cx="618.12" cy="28.80" r="1.9"/><circle cx="618.53" cy="29.06" r="1.9"/><circle cx="618.94" cy="30.41" r="1.9"/><circle cx="619.35" cy="28.10" r="1.9"/><circle cx="619.76" cy="28.45" r="1.9"/><circle cx="620.16" cy="28.24" r="1.9"/><circle cx="620.57" cy="28.05" r="1.9"/><circle cx="620.98" cy="29.25" r="1.9"/><circle cx="621.39" cy="29.36" r="1.9"/><circle cx="621.80" cy="28.73" r="1.9"/><circle cx="622.21" cy="27.79" r="1.9"/><circle cx="622.62" cy="30.10" r="1.9"/><circle cx="623.03" cy="29.10" r="1.9"/><circle cx="623.43" cy="29.43" r="1.9"/><circle cx="623.84" cy="28.56" r="1.9"/><circle cx="624.25" cy="27.94" r="1.9"/><circle cx="624.66" cy="29.15" r="1.9"/><circle cx="625.07" cy="29.80" r="1.9"/><circle cx="625.48" cy="28.91" r="1.9"/><circle cx="625.89" cy="29.14" r="1.9"/><circle cx="626.30" cy="30.00" r="1.9"/><circle cx="626.70" cy="28.33" r="1.9"/><circle cx="627.11" cy="29.30" r="1.9"/><circle cx="627.52" cy="28.47" r="1.9"/><circle cx="627.93" cy="29.85" r="1.9"/><circle cx="628.34" cy="28.19" r="1.9"/><circle cx="628.75" cy="29.93" r="1.9"/><circle cx="629.16" cy="28.22" r="1.9"/><circle cx="629.57" cy="30.19" r="1.9"/><circle cx="629.98" cy="27.99" r="1.9"/><circle cx="630.38" cy="29.20" r="1.9"/><circle cx="630.79" cy="30.01" r="1.9"/><circle cx="631.20" cy="29.10" r="1.9"/><circle cx="631.61" cy="28.71" r="1.9"/><circle cx="632.02" cy="29.62" r="1.9"/><circle cx="632.43" cy="29.28" r="1.9"/><circle cx="632.84" cy="28.76" r="1.9"/><circle cx="633.25" cy="29.06" r="1.9"/><circle cx="633.65" cy="31.05" r="1.9"/><circle cx="634.06" cy="29.24" r="1.9"/><circle cx="634.47" cy="28.65" r="1.9"/><circle cx="634.88" cy="28.74" r="1.9"/><circle cx="635.29" cy="28.25" r="1.9"/><circle cx="635.70" cy="29.42" r="1.9"/><circle cx="636.11" cy="27.19" r="1.9"/><circle cx="636.51" cy="28.39" r="1.9"/><circle cx="636.92" cy="28.73" r="1.9"/><circle cx="637.33" cy="28.20" r="1.9"/><circle cx="637.74" cy="28.29" r="1.9"/><circle cx="638.15" cy="28.87" r="1.9"/><circle cx="638.56" cy="29.37" r="1.9"/><circle cx="638.97" cy="28.24" r="1.9"/><circle cx="639.38" cy="28.65" r="1.9"/><circle cx="639.78" cy="30.24" r="1.9"/><circle cx="640.19" cy="29.70" r="1.9"/><circle cx="640.60" cy="28.62" r="1.9"/><circle cx="641.01" cy="28.87" r="1.9"/><circle cx="641.42" cy="28.75" r="1.9"/><circle cx="641.83" cy="28.50" r="1.9"/><circle cx="642.24" cy="28.84" r="1.9"/><circle cx="642.65" cy="27.86" r="1.9"/><circle cx="643.06" cy="29.35" r="1.9"/><circle cx="643.46" cy="29.22" r="1.9"/><circle cx="643.87" cy="28.72" r="1.9"/><circle cx="644.28" cy="28.43" r="1.9"/><circle cx="644.69" cy="28.40" r="1.9"/><circle cx="645.10" cy="27.92" r="1.9"/><circle cx="645.51" cy="29.27" r="1.9"/><circle cx="645.92" cy="28.14" r="1.9"/><circle cx="646.33" cy="28.62" r="1.9"/><circle cx="646.73" cy="29.66" r="1.9"/><circle cx="647.14" cy="29.04" r="1.9"/><circle cx="647.55" cy="27.51" r="1.9"/><circle cx="647.96" cy="28.40" r="1.9"/><circle cx="648.37" cy="29.27" r="1.9"/><circle cx="648.78" cy="30.59" r="1.9"/><circle cx="649.19" cy="29.45" r="1.9"/><circle cx="649.60" cy="29.43" r="1.9"/><circle cx="650.00" cy="28.89" r="1.9"/><circle cx="650.41" cy="27.36" r="1.9"/><circle cx="650.82" cy="28.43" r="1.9"/><circle cx="651.23" cy="28.73" r="1.9"/><circle cx="651.64" cy="29.59" r="1.9"/><circle cx="652.05" cy="29.76" r="1.9"/><circle cx="652.46" cy="29.09" r="1.9"/><circle cx="652.87" cy="29.26" r="1.9"/><circle cx="653.27" cy="26.88" r="1.9"/><circle cx="653.68" cy="29.22" r="1.9"/><circle cx="654.09" cy="29.37" r="1.9"/><circle cx="654.50" cy="28.17" r="1.9"/><circle cx="542.91" cy="34.44" r="1.9"/></g>
<g fill="#f4b4b9" stroke="#ec959c" stroke-width="0.6" clip-path="url(#cb)"><circle cx="328.73" cy="84.22" r="2.4"/><circle cx="329.13" cy="83.62" r="2.4"/><circle cx="329.54" cy="83.80" r="2.4"/><circle cx="329.95" cy="83.87" r="2.4"/><circle cx="330.36" cy="83.35" r="2.4"/><circle cx="330.77" cy="83.68" r="2.4"/><circle cx="331.18" cy="83.80" r="2.4"/><circle cx="331.59" cy="83.05" r="2.4"/><circle cx="332.00" cy="83.88" r="2.4"/><circle cx="332.40" cy="84.15" r="2.4"/><circle cx="332.81" cy="84.19" r="2.4"/><circle cx="333.22" cy="83.89" r="2.4"/><circle cx="333.63" cy="83.46" r="2.4"/><circle cx="334.04" cy="83.39" r="2.4"/><circle cx="334.45" cy="83.29" r="2.4"/><circle cx="334.86" cy="83.03" r="2.4"/><circle cx="335.27" cy="83.08" r="2.4"/><circle cx="335.68" cy="83.46" r="2.4"/><circle cx="336.08" cy="83.21" r="2.4"/><circle cx="336.49" cy="83.45" r="2.4"/><circle cx="336.90" cy="83.89" r="2.4"/><circle cx="337.31" cy="83.39" r="2.4"/><circle cx="337.72" cy="83.66" r="2.4"/><circle cx="338.13" cy="83.76" r="2.4"/><circle cx="338.54" cy="82.96" r="2.4"/><circle cx="338.94" cy="83.40" r="2.4"/><circle cx="339.35" cy="83.86" r="2.4"/><circle cx="339.76" cy="83.71" r="2.4"/><circle cx="340.17" cy="82.83" r="2.4"/><circle cx="340.58" cy="83.77" r="2.4"/><circle cx="340.99" cy="83.41" r="2.4"/><circle cx="341.40" cy="83.45" r="2.4"/><circle cx="341.81" cy="83.49" r="2.4"/><circle cx="342.21" cy="83.47" r="2.4"/><circle cx="342.62" cy="83.86" r="2.4"/><circle cx="343.03" cy="83.85" r="2.4"/><circle cx="343.44" cy="83.74" r="2.4"/><circle cx="343.85" cy="83.81" r="2.4"/><circle cx="344.26" cy="83.39" r="2.4"/><circle cx="344.67" cy="83.12" r="2.4"/><circle cx="345.08" cy="84.00" r="2.4"/><circle cx="345.49" cy="83.48" r="2.4"/><circle cx="345.89" cy="84.04" r="2.4"/><circle cx="346.30" cy="83.93" r="2.4"/><circle cx="346.71" cy="83.77" r="2.4"/><circle cx="347.12" cy="83.64" r="2.4"/><circle cx="347.53" cy="83.84" r="2.4"/><circle cx="347.94" cy="84.63" r="2.4"/><circle cx="348.35" cy="83.17" r="2.4"/><circle cx="348.75" cy="83.78" r="2.4"/><circle cx="349.16" cy="83.91" r="2.4"/><circle cx="349.57" cy="83.43" r="2.4"/><circle cx="349.98" cy="83.90" r="2.4"/><circle cx="350.39" cy="84.20" r="2.4"/><circle cx="350.80" cy="83.50" r="2.4"/><circle cx="351.21" cy="83.53" r="2.4"/><circle cx="351.62" cy="83.98" r="2.4"/><circle cx="352.02" cy="83.37" r="2.4"/><circle cx="352.43" cy="83.54" r="2.4"/><circle cx="352.84" cy="84.09" r="2.4"/><circle cx="353.25" cy="83.04" r="2.4"/><circle cx="353.66" cy="83.58" r="2.4"/><circle cx="354.07" cy="84.09" r="2.4"/><circle cx="354.48" cy="83.51" r="2.4"/><circle cx="354.89" cy="83.63" r="2.4"/><circle cx="355.30" cy="83.33" r="2.4"/><circle cx="355.70" cy="84.17" r="2.4"/><circle cx="356.11" cy="83.30" r="2.4"/><circle cx="356.52" cy="83.34" r="2.4"/><circle cx="356.93" cy="83.43" r="2.4"/><circle cx="357.34" cy="83.46" r="2.4"/><circle cx="357.75" cy="83.20" r="2.4"/><circle cx="358.16" cy="83.42" r="2.4"/><circle cx="358.56" cy="83.63" r="2.4"/><circle cx="358.97" cy="83.99" r="2.4"/><circle cx="359.38" cy="83.27" r="2.4"/><circle cx="359.79" cy="83.32" r="2.4"/><circle cx="360.20" cy="83.57" r="2.4"/><circle cx="360.61" cy="83.62" r="2.4"/><circle cx="361.02" cy="83.42" r="2.4"/><circle cx="361.43" cy="84.60" r="2.4"/><circle cx="361.83" cy="83.56" r="2.4"/><circle cx="362.24" cy="84.59" r="2.4"/><circle cx="362.65" cy="83.59" r="2.4"/><circle cx="363.06" cy="83.30" r="2.4"/><circle cx="363.47" cy="82.99" r="2.4"/><circle cx="363.88" cy="83.85" r="2.4"/><circle cx="364.29" cy="83.52" r="2.4"/><circle cx="364.70" cy="83.71" r="2.4"/><circle cx="365.11" cy="84.49" r="2.4"/><circle cx="365.51" cy="83.42" r="2.4"/><circle cx="365.92" cy="83.69" r="2.4"/><circle cx="366.33" cy="83.66" r="2.4"/><circle cx="366.74" cy="84.03" r="2.4"/><circle cx="367.15" cy="83.70" r="2.4"/><circle cx="367.56" cy="83.65" r="2.4"/><circle cx="367.97" cy="83.22" r="2.4"/><circle cx="368.38" cy="83.58" r="2.4"/><circle cx="368.78" cy="82.42" r="2.4"/><circle cx="369.19" cy="83.85" r="2.4"/><circle cx="369.60" cy="83.80" r="2.4"/><circle cx="370.01" cy="83.73" r="2.4"/><circle cx="370.42" cy="84.01" r="2.4"/><circle cx="370.83" cy="83.17" r="2.4"/><circle cx="371.24" cy="83.49" r="2.4"/><circle cx="371.64" cy="84.20" r="2.4"/><circle cx="372.05" cy="83.70" r="2.4"/><circle cx="372.46" cy="83.33" r="2.4"/><circle cx="372.87" cy="84.27" r="2.4"/><circle cx="373.28" cy="83.71" r="2.4"/><circle cx="373.69" cy="83.86" r="2.4"/><circle cx="374.10" cy="82.92" r="2.4"/><circle cx="374.51" cy="83.63" r="2.4"/><circle cx="374.92" cy="83.94" r="2.4"/><circle cx="375.32" cy="84.00" r="2.4"/><circle cx="375.73" cy="83.11" r="2.4"/><circle cx="376.14" cy="83.98" r="2.4"/><circle cx="376.55" cy="82.98" r="2.4"/><circle cx="376.96" cy="84.39" r="2.4"/><circle cx="377.37" cy="83.90" r="2.4"/><circle cx="377.78" cy="83.92" r="2.4"/><circle cx="378.19" cy="84.10" r="2.4"/><circle cx="378.59" cy="83.93" r="2.4"/><circle cx="379.00" cy="83.60" r="2.4"/><circle cx="379.41" cy="84.11" r="2.4"/><circle cx="379.82" cy="84.39" r="2.4"/><circle cx="380.23" cy="83.39" r="2.4"/><circle cx="380.64" cy="83.35" r="2.4"/><circle cx="381.05" cy="84.14" r="2.4"/><circle cx="381.45" cy="83.78" r="2.4"/><circle cx="381.86" cy="84.84" r="2.4"/><circle cx="382.27" cy="83.53" r="2.4"/><circle cx="382.68" cy="84.40" r="2.4"/><circle cx="383.09" cy="84.13" r="2.4"/><circle cx="383.50" cy="83.14" r="2.4"/><circle cx="383.91" cy="84.40" r="2.4"/><circle cx="384.32" cy="83.94" r="2.4"/><circle cx="384.73" cy="84.34" r="2.4"/><circle cx="385.13" cy="84.63" r="2.4"/><circle cx="385.54" cy="84.39" r="2.4"/><circle cx="385.95" cy="83.87" r="2.4"/><circle cx="386.36" cy="84.45" r="2.4"/><circle cx="386.77" cy="84.20" r="2.4"/><circle cx="387.18" cy="83.72" r="2.4"/><circle cx="387.59" cy="84.05" r="2.4"/><circle cx="388.00" cy="84.48" r="2.4"/><circle cx="388.40" cy="83.46" r="2.4"/><circle cx="388.81" cy="83.97" r="2.4"/><circle cx="389.22" cy="83.51" r="2.4"/><circle cx="389.63" cy="84.41" r="2.4"/><circle cx="390.04" cy="83.42" r="2.4"/><circle cx="390.45" cy="84.53" r="2.4"/><circle cx="390.86" cy="84.69" r="2.4"/><circle cx="391.26" cy="84.21" r="2.4"/><circle cx="391.67" cy="84.20" r="2.4"/><circle cx="392.08" cy="83.97" r="2.4"/><circle cx="392.49" cy="84.28" r="2.4"/><circle cx="392.90" cy="83.85" r="2.4"/><circle cx="393.31" cy="83.60" r="2.4"/><circle cx="393.72" cy="84.33" r="2.4"/><circle cx="394.13" cy="84.61" r="2.4"/><circle cx="394.53" cy="84.26" r="2.4"/><circle cx="394.94" cy="83.82" r="2.4"/><circle cx="395.35" cy="83.83" r="2.4"/><circle cx="395.76" cy="84.26" r="2.4"/><circle cx="396.17" cy="84.50" r="2.4"/><circle cx="396.58" cy="84.15" r="2.4"/><circle cx="396.99" cy="83.80" r="2.4"/><circle cx="397.40" cy="84.42" r="2.4"/><circle cx="397.81" cy="83.69" r="2.4"/><circle cx="398.21" cy="84.09" r="2.4"/><circle cx="398.62" cy="84.07" r="2.4"/><circle cx="399.03" cy="84.41" r="2.4"/><circle cx="399.44" cy="83.69" r="2.4"/><circle cx="399.85" cy="84.18" r="2.4"/><circle cx="400.26" cy="84.75" r="2.4"/><circle cx="400.67" cy="83.91" r="2.4"/><circle cx="401.07" cy="84.37" r="2.4"/><circle cx="401.48" cy="83.83" r="2.4"/><circle cx="401.89" cy="84.17" r="2.4"/><circle cx="402.30" cy="84.47" r="2.4"/><circle cx="402.71" cy="84.18" r="2.4"/><circle cx="403.12" cy="84.43" r="2.4"/><circle cx="403.53" cy="84.56" r="2.4"/><circle cx="403.94" cy="84.26" r="2.4"/><circle cx="404.35" cy="83.97" r="2.4"/><circle cx="404.75" cy="84.25" r="2.4"/><circle cx="405.16" cy="84.32" r="2.4"/><circle cx="405.57" cy="84.50" r="2.4"/><circle cx="405.98" cy="84.11" r="2.4"/><circle cx="406.39" cy="84.24" r="2.4"/><circle cx="406.80" cy="84.00" r="2.4"/><circle cx="407.21" cy="84.24" r="2.4"/><circle cx="407.62" cy="83.61" r="2.4"/><circle cx="408.02" cy="84.98" r="2.4"/><circle cx="408.43" cy="84.44" r="2.4"/><circle cx="408.84" cy="84.24" r="2.4"/><circle cx="409.25" cy="84.13" r="2.4"/><circle cx="409.66" cy="85.03" r="2.4"/><circle cx="410.07" cy="84.94" r="2.4"/><circle cx="410.48" cy="84.52" r="2.4"/><circle cx="410.88" cy="84.14" r="2.4"/><circle cx="411.29" cy="84.14" r="2.4"/><circle cx="411.70" cy="85.11" r="2.4"/><circle cx="412.11" cy="84.53" r="2.4"/><circle cx="412.52" cy="84.17" r="2.4"/><circle cx="412.93" cy="84.60" r="2.4"/><circle cx="413.34" cy="85.00" r="2.4"/><circle cx="413.75" cy="84.91" r="2.4"/><circle cx="414.15" cy="85.15" r="2.4"/><circle cx="414.56" cy="84.24" r="2.4"/><circle cx="414.97" cy="84.79" r="2.4"/><circle cx="415.38" cy="84.87" r="2.4"/><circle cx="415.79" cy="85.05" r="2.4"/><circle cx="416.20" cy="84.80" r="2.4"/><circle cx="416.61" cy="85.10" r="2.4"/><circle cx="417.02" cy="85.14" r="2.4"/><circle cx="417.43" cy="84.81" r="2.4"/><circle cx="417.83" cy="84.90" r="2.4"/><circle cx="418.24" cy="84.67" r="2.4"/><circle cx="418.65" cy="84.80" r="2.4"/><circle cx="419.06" cy="84.44" r="2.4"/><circle cx="419.47" cy="84.90" r="2.4"/><circle cx="419.88" cy="84.81" r="2.4"/><circle cx="420.29" cy="84.84" r="2.4"/><circle cx="420.69" cy="85.23" r="2.4"/><circle cx="421.10" cy="84.52" r="2.4"/><circle cx="421.51" cy="85.18" r="2.4"/><circle cx="421.92" cy="85.56" r="2.4"/><circle cx="422.33" cy="84.55" r="2.4"/><circle cx="422.74" cy="84.78" r="2.4"/><circle cx="423.15" cy="85.24" r="2.4"/><circle cx="423.56" cy="84.71" r="2.4"/><circle cx="423.96" cy="84.72" r="2.4"/><circle cx="424.37" cy="84.83" r="2.4"/><circle cx="424.78" cy="85.53" r="2.4"/><circle cx="425.19" cy="85.06" r="2.4"/><circle cx="425.60" cy="85.52" r="2.4"/><circle cx="426.01" cy="85.38" r="2.4"/><circle cx="426.42" cy="85.38" r="2.4"/><circle cx="426.83" cy="85.50" r="2.4"/><circle cx="427.24" cy="85.03" r="2.4"/><circle cx="427.64" cy="85.52" r="2.4"/><circle cx="428.05" cy="85.02" r="2.4"/><circle cx="428.46" cy="85.20" r="2.4"/><circle cx="428.87" cy="85.50" r="2.4"/><circle cx="429.28" cy="85.23" r="2.4"/><circle cx="429.69" cy="85.06" r="2.4"/><circle cx="430.10" cy="84.92" r="2.4"/><circle cx="430.50" cy="85.44" r="2.4"/><circle cx="430.91" cy="84.73" r="2.4"/><circle cx="431.32" cy="85.17" r="2.4"/><circle cx="431.73" cy="84.95" r="2.4"/><circle cx="432.14" cy="85.91" r="2.4"/><circle cx="432.55" cy="85.82" r="2.4"/><circle cx="432.96" cy="85.01" r="2.4"/><circle cx="433.37" cy="85.55" r="2.4"/><circle cx="433.77" cy="85.32" r="2.4"/><circle cx="434.18" cy="85.07" r="2.4"/><circle cx="434.59" cy="86.06" r="2.4"/><circle cx="435.00" cy="85.39" r="2.4"/><circle cx="435.41" cy="84.88" r="2.4"/><circle cx="435.82" cy="85.32" r="2.4"/><circle cx="436.23" cy="85.60" r="2.4"/><circle cx="436.64" cy="85.45" r="2.4"/><circle cx="437.05" cy="85.68" r="2.4"/><circle cx="437.45" cy="85.42" r="2.4"/><circle cx="437.86" cy="85.25" r="2.4"/><circle cx="438.27" cy="85.84" r="2.4"/><circle cx="438.68" cy="85.57" r="2.4"/><circle cx="439.09" cy="85.69" r="2.4"/><circle cx="439.50" cy="85.56" r="2.4"/><circle cx="439.91" cy="85.55" r="2.4"/><circle cx="440.31" cy="86.26" r="2.4"/><circle cx="440.72" cy="85.48" r="2.4"/><circle cx="441.13" cy="85.61" r="2.4"/><circle cx="441.54" cy="86.34" r="2.4"/><circle cx="441.95" cy="86.08" r="2.4"/><circle cx="442.36" cy="86.53" r="2.4"/><circle cx="442.77" cy="86.13" r="2.4"/><circle cx="443.18" cy="85.93" r="2.4"/><circle cx="443.58" cy="86.49" r="2.4"/><circle cx="443.99" cy="86.37" r="2.4"/><circle cx="444.40" cy="86.44" r="2.4"/><circle cx="444.81" cy="86.39" r="2.4"/><circle cx="445.22" cy="86.45" r="2.4"/><circle cx="445.63" cy="86.58" r="2.4"/><circle cx="446.04" cy="86.01" r="2.4"/><circle cx="446.45" cy="86.32" r="2.4"/><circle cx="446.86" cy="86.56" r="2.4"/><circle cx="447.26" cy="85.93" r="2.4"/><circle cx="447.67" cy="86.52" r="2.4"/><circle cx="448.08" cy="86.01" r="2.4"/><circle cx="448.49" cy="86.81" r="2.4"/><circle cx="448.90" cy="85.88" r="2.4"/><circle cx="449.31" cy="86.57" r="2.4"/><circle cx="449.72" cy="86.78" r="2.4"/><circle cx="450.12" cy="86.31" r="2.4"/><circle cx="450.53" cy="86.97" r="2.4"/><circle cx="450.94" cy="86.90" r="2.4"/><circle cx="451.35" cy="86.45" r="2.4"/><circle cx="451.76" cy="86.73" r="2.4"/><circle cx="452.17" cy="86.44" r="2.4"/><circle cx="452.58" cy="86.55" r="2.4"/><circle cx="452.99" cy="86.54" r="2.4"/><circle cx="453.39" cy="86.61" r="2.4"/><circle cx="453.80" cy="86.42" r="2.4"/><circle cx="454.21" cy="86.70" r="2.4"/><circle cx="454.62" cy="86.33" r="2.4"/><circle cx="455.03" cy="86.41" r="2.4"/><circle cx="455.44" cy="87.49" r="2.4"/><circle cx="455.85" cy="87.44" r="2.4"/><circle cx="456.26" cy="86.26" r="2.4"/><circle cx="456.66" cy="87.01" r="2.4"/><circle cx="457.07" cy="86.80" r="2.4"/><circle cx="457.48" cy="86.94" r="2.4"/><circle cx="457.89" cy="86.82" r="2.4"/><circle cx="458.30" cy="86.15" r="2.4"/><circle cx="458.71" cy="87.23" r="2.4"/><circle cx="459.12" cy="86.97" r="2.4"/><circle cx="459.53" cy="87.02" r="2.4"/><circle cx="459.94" cy="87.43" r="2.4"/><circle cx="460.34" cy="87.38" r="2.4"/><circle cx="460.75" cy="87.19" r="2.4"/><circle cx="461.16" cy="87.12" r="2.4"/><circle cx="461.57" cy="87.00" r="2.4"/><circle cx="461.98" cy="87.87" r="2.4"/><circle cx="462.39" cy="87.76" r="2.4"/><circle cx="462.80" cy="86.62" r="2.4"/><circle cx="463.20" cy="87.30" r="2.4"/><circle cx="463.61" cy="86.96" r="2.4"/><circle cx="464.02" cy="87.44" r="2.4"/><circle cx="464.43" cy="87.55" r="2.4"/><circle cx="464.84" cy="86.54" r="2.4"/><circle cx="465.25" cy="87.76" r="2.4"/><circle cx="465.66" cy="87.65" r="2.4"/><circle cx="466.07" cy="87.09" r="2.4"/><circle cx="466.48" cy="87.33" r="2.4"/><circle cx="466.88" cy="87.94" r="2.4"/><circle cx="467.29" cy="87.31" r="2.4"/><circle cx="467.70" cy="87.10" r="2.4"/><circle cx="468.11" cy="87.93" r="2.4"/><circle cx="468.52" cy="87.59" r="2.4"/><circle cx="468.93" cy="87.11" r="2.4"/><circle cx="469.34" cy="86.71" r="2.4"/><circle cx="469.75" cy="88.25" r="2.4"/><circle cx="470.15" cy="87.67" r="2.4"/><circle cx="470.56" cy="87.42" r="2.4"/><circle cx="470.97" cy="87.77" r="2.4"/><circle cx="471.38" cy="87.78" r="2.4"/><circle cx="471.79" cy="87.64" r="2.4"/><circle cx="472.20" cy="87.28" r="2.4"/><circle cx="472.61" cy="87.86" r="2.4"/><circle cx="473.01" cy="87.17" r="2.4"/><circle cx="473.42" cy="87.20" r="2.4"/><circle cx="473.83" cy="87.20" r="2.4"/><circle cx="474.24" cy="86.96" r="2.4"/><circle cx="474.65" cy="87.71" r="2.4"/><circle cx="475.06" cy="87.55" r="2.4"/><circle cx="475.47" cy="87.18" r="2.4"/><circle cx="475.88" cy="87.09" r="2.4"/><circle cx="476.28" cy="87.22" r="2.4"/><circle cx="476.69" cy="87.73" r="2.4"/><circle cx="477.10" cy="87.75" r="2.4"/><circle cx="477.51" cy="88.06" r="2.4"/><circle cx="477.92" cy="87.75" r="2.4"/><circle cx="478.33" cy="87.93" r="2.4"/><circle cx="478.74" cy="87.79" r="2.4"/><circle cx="479.15" cy="87.76" r="2.4"/><circle cx="479.56" cy="87.33" r="2.4"/><circle cx="479.96" cy="87.33" r="2.4"/><circle cx="480.37" cy="87.67" r="2.4"/><circle cx="480.78" cy="88.07" r="2.4"/><circle cx="481.19" cy="87.69" r="2.4"/><circle cx="481.60" cy="87.52" r="2.4"/><circle cx="482.01" cy="87.38" r="2.4"/><circle cx="482.42" cy="87.62" r="2.4"/><circle cx="482.82" cy="87.41" r="2.4"/><circle cx="483.23" cy="87.95" r="2.4"/><circle cx="483.64" cy="87.49" r="2.4"/><circle cx="484.05" cy="87.47" r="2.4"/><circle cx="484.46" cy="87.87" r="2.4"/><circle cx="484.87" cy="88.02" r="2.4"/><circle cx="485.28" cy="87.31" r="2.4"/><circle cx="485.69" cy="88.13" r="2.4"/><circle cx="486.10" cy="87.53" r="2.4"/><circle cx="486.50" cy="87.88" r="2.4"/><circle cx="486.91" cy="87.92" r="2.4"/><circle cx="487.32" cy="87.90" r="2.4"/><circle cx="487.73" cy="87.97" r="2.4"/><circle cx="488.14" cy="87.84" r="2.4"/><circle cx="488.55" cy="87.19" r="2.4"/><circle cx="488.96" cy="87.32" r="2.4"/><circle cx="489.37" cy="87.90" r="2.4"/><circle cx="489.77" cy="87.69" r="2.4"/><circle cx="490.18" cy="87.54" r="2.4"/><circle cx="490.59" cy="88.03" r="2.4"/><circle cx="491.00" cy="87.22" r="2.4"/><circle cx="491.41" cy="87.88" r="2.4"/><circle cx="491.82" cy="87.68" r="2.4"/><circle cx="492.23" cy="88.26" r="2.4"/><circle cx="492.63" cy="88.33" r="2.4"/><circle cx="493.04" cy="88.30" r="2.4"/><circle cx="493.45" cy="88.18" r="2.4"/><circle cx="493.86" cy="87.58" r="2.4"/><circle cx="494.27" cy="88.08" r="2.4"/><circle cx="494.68" cy="87.66" r="2.4"/><circle cx="495.09" cy="88.14" r="2.4"/><circle cx="495.50" cy="88.34" r="2.4"/><circle cx="495.90" cy="87.95" r="2.4"/><circle cx="496.31" cy="88.16" r="2.4"/><circle cx="496.72" cy="88.63" r="2.4"/><circle cx="497.13" cy="88.02" r="2.4"/><circle cx="497.54" cy="87.62" r="2.4"/><circle cx="497.95" cy="88.13" r="2.4"/><circle cx="498.36" cy="88.50" r="2.4"/><circle cx="498.77" cy="88.35" r="2.4"/><circle cx="499.18" cy="88.52" r="2.4"/><circle cx="499.58" cy="88.18" r="2.4"/><circle cx="499.99" cy="88.45" r="2.4"/><circle cx="500.40" cy="88.16" r="2.4"/><circle cx="500.81" cy="88.06" r="2.4"/><circle cx="501.22" cy="87.66" r="2.4"/><circle cx="501.63" cy="88.56" r="2.4"/><circle cx="502.04" cy="88.90" r="2.4"/><circle cx="502.45" cy="87.58" r="2.4"/><circle cx="502.85" cy="88.02" r="2.4"/><circle cx="503.26" cy="88.32" r="2.4"/><circle cx="503.67" cy="88.02" r="2.4"/><circle cx="504.08" cy="88.54" r="2.4"/><circle cx="504.49" cy="88.34" r="2.4"/><circle cx="504.90" cy="87.98" r="2.4"/><circle cx="505.31" cy="88.35" r="2.4"/><circle cx="505.72" cy="88.20" r="2.4"/><circle cx="506.12" cy="88.10" r="2.4"/><circle cx="506.53" cy="88.22" r="2.4"/><circle cx="506.94" cy="88.36" r="2.4"/><circle cx="507.35" cy="88.10" r="2.4"/><circle cx="507.76" cy="87.82" r="2.4"/><circle cx="508.17" cy="87.85" r="2.4"/><circle cx="508.58" cy="88.63" r="2.4"/><circle cx="508.99" cy="88.05" r="2.4"/><circle cx="509.39" cy="89.02" r="2.4"/><circle cx="509.80" cy="88.86" r="2.4"/><circle cx="510.21" cy="88.21" r="2.4"/><circle cx="510.62" cy="88.17" r="2.4"/><circle cx="511.03" cy="87.89" r="2.4"/><circle cx="511.44" cy="89.01" r="2.4"/><circle cx="511.85" cy="88.01" r="2.4"/><circle cx="512.25" cy="88.60" r="2.4"/><circle cx="512.66" cy="88.59" r="2.4"/><circle cx="513.07" cy="88.27" r="2.4"/><circle cx="513.48" cy="87.93" r="2.4"/><circle cx="513.89" cy="88.79" r="2.4"/><circle cx="514.30" cy="89.07" r="2.4"/><circle cx="514.71" cy="88.68" r="2.4"/><circle cx="515.12" cy="88.52" r="2.4"/><circle cx="515.52" cy="88.06" r="2.4"/><circle cx="515.93" cy="88.37" r="2.4"/><circle cx="516.34" cy="88.62" r="2.4"/><circle cx="516.75" cy="88.70" r="2.4"/><circle cx="517.16" cy="88.69" r="2.4"/><circle cx="517.57" cy="88.19" r="2.4"/><circle cx="517.98" cy="89.15" r="2.4"/><circle cx="518.39" cy="88.81" r="2.4"/><circle cx="518.79" cy="88.88" r="2.4"/><circle cx="519.20" cy="88.17" r="2.4"/><circle cx="519.61" cy="88.54" r="2.4"/><circle cx="520.02" cy="88.84" r="2.4"/><circle cx="520.43" cy="88.34" r="2.4"/><circle cx="520.84" cy="87.91" r="2.4"/><circle cx="521.25" cy="88.26" r="2.4"/><circle cx="521.66" cy="89.11" r="2.4"/><circle cx="522.07" cy="88.72" r="2.4"/><circle cx="522.47" cy="88.25" r="2.4"/><circle cx="522.88" cy="89.32" r="2.4"/><circle cx="523.29" cy="89.12" r="2.4"/><circle cx="523.70" cy="88.84" r="2.4"/><circle cx="524.11" cy="88.51" r="2.4"/><circle cx="524.52" cy="89.00" r="2.4"/><circle cx="524.93" cy="88.67" r="2.4"/><circle cx="525.34" cy="88.79" r="2.4"/><circle cx="525.74" cy="88.62" r="2.4"/><circle cx="526.15" cy="89.18" r="2.4"/><circle cx="526.56" cy="89.56" r="2.4"/><circle cx="526.97" cy="89.54" r="2.4"/><circle cx="527.38" cy="88.72" r="2.4"/><circle cx="527.79" cy="88.44" r="2.4"/><circle cx="528.20" cy="88.63" r="2.4"/><circle cx="528.61" cy="89.39" r="2.4"/><circle cx="529.01" cy="89.45" r="2.4"/><circle cx="529.42" cy="88.93" r="2.4"/><circle cx="529.83" cy="89.17" r="2.4"/><circle cx="530.24" cy="89.51" r="2.4"/><circle cx="530.65" cy="89.07" r="2.4"/><circle cx="531.06" cy="89.16" r="2.4"/><circle cx="531.47" cy="88.92" r="2.4"/><circle cx="531.88" cy="88.75" r="2.4"/><circle cx="532.28" cy="88.83" r="2.4"/><circle cx="532.69" cy="88.85" r="2.4"/><circle cx="533.10" cy="88.73" r="2.4"/><circle cx="533.51" cy="88.97" r="2.4"/><circle cx="533.92" cy="89.10" r="2.4"/><circle cx="534.33" cy="89.08" r="2.4"/><circle cx="534.74" cy="88.54" r="2.4"/><circle cx="535.14" cy="89.07" r="2.4"/><circle cx="535.55" cy="88.69" r="2.4"/><circle cx="535.96" cy="88.40" r="2.4"/><circle cx="536.37" cy="88.38" r="2.4"/><circle cx="536.78" cy="89.79" r="2.4"/><circle cx="537.19" cy="88.97" r="2.4"/><circle cx="537.60" cy="88.68" r="2.4"/><circle cx="538.01" cy="89.21" r="2.4"/><circle cx="538.41" cy="89.31" r="2.4"/><circle cx="538.82" cy="89.58" r="2.4"/><circle cx="539.23" cy="89.32" r="2.4"/><circle cx="539.64" cy="89.08" r="2.4"/><circle cx="540.05" cy="89.77" r="2.4"/><circle cx="540.46" cy="89.10" r="2.4"/><circle cx="540.87" cy="89.41" r="2.4"/><circle cx="541.28" cy="89.11" r="2.4"/><circle cx="541.68" cy="89.51" r="2.4"/><circle cx="542.09" cy="89.10" r="2.4"/><circle cx="542.50" cy="89.08" r="2.4"/><circle cx="542.91" cy="89.39" r="2.4"/><circle cx="543.32" cy="89.39" r="2.4"/><circle cx="543.73" cy="88.81" r="2.4"/><circle cx="544.14" cy="88.93" r="2.4"/><circle cx="544.55" cy="89.45" r="2.4"/><circle cx="544.96" cy="89.02" r="2.4"/><circle cx="545.36" cy="89.60" r="2.4"/><circle cx="545.77" cy="89.37" r="2.4"/><circle cx="546.18" cy="90.24" r="2.4"/><circle cx="546.59" cy="89.40" r="2.4"/><circle cx="547.00" cy="88.96" r="2.4"/><circle cx="547.41" cy="89.39" r="2.4"/><circle cx="547.82" cy="89.01" r="2.4"/><circle cx="548.23" cy="89.46" r="2.4"/><circle cx="548.63" cy="89.13" r="2.4"/><circle cx="549.04" cy="89.29" r="2.4"/><circle cx="549.45" cy="89.60" r="2.4"/><circle cx="549.86" cy="88.50" r="2.4"/><circle cx="550.27" cy="89.56" r="2.4"/><circle cx="550.68" cy="89.75" r="2.4"/><circle cx="551.09" cy="89.23" r="2.4"/><circle cx="551.50" cy="89.11" r="2.4"/><circle cx="551.90" cy="89.16" r="2.4"/><circle cx="552.31" cy="89.33" r="2.4"/><circle cx="552.72" cy="89.13" r="2.4"/><circle cx="553.13" cy="88.97" r="2.4"/><circle cx="553.54" cy="89.09" r="2.4"/><circle cx="553.95" cy="89.82" r="2.4"/><circle cx="554.36" cy="88.71" r="2.4"/><circle cx="554.76" cy="89.35" r="2.4"/><circle cx="555.17" cy="90.08" r="2.4"/><circle cx="555.58" cy="89.05" r="2.4"/><circle cx="555.99" cy="89.41" r="2.4"/><circle cx="556.40" cy="89.26" r="2.4"/><circle cx="556.81" cy="88.65" r="2.4"/><circle cx="557.22" cy="89.57" r="2.4"/><circle cx="557.63" cy="89.61" r="2.4"/><circle cx="558.03" cy="89.74" r="2.4"/><circle cx="558.44" cy="89.33" r="2.4"/><circle cx="558.85" cy="89.16" r="2.4"/><circle cx="559.26" cy="89.27" r="2.4"/><circle cx="559.67" cy="89.35" r="2.4"/><circle cx="560.08" cy="90.19" r="2.4"/><circle cx="560.49" cy="89.33" r="2.4"/><circle cx="560.90" cy="89.05" r="2.4"/><circle cx="561.30" cy="89.63" r="2.4"/><circle cx="561.71" cy="89.64" r="2.4"/><circle cx="562.12" cy="89.82" r="2.4"/><circle cx="562.53" cy="89.37" r="2.4"/><circle cx="562.94" cy="90.03" r="2.4"/><circle cx="563.35" cy="88.79" r="2.4"/><circle cx="563.76" cy="89.55" r="2.4"/><circle cx="564.17" cy="89.70" r="2.4"/><circle cx="564.58" cy="89.93" r="2.4"/><circle cx="564.98" cy="89.31" r="2.4"/><circle cx="565.39" cy="89.16" r="2.4"/><circle cx="565.80" cy="89.72" r="2.4"/><circle cx="566.21" cy="89.46" r="2.4"/><circle cx="566.62" cy="89.42" r="2.4"/><circle cx="567.03" cy="89.19" r="2.4"/><circle cx="567.44" cy="89.32" r="2.4"/><circle cx="567.85" cy="89.10" r="2.4"/><circle cx="568.25" cy="90.06" r="2.4"/><circle cx="568.66" cy="88.62" r="2.4"/><circle cx="569.07" cy="89.75" r="2.4"/><circle cx="569.48" cy="89.98" r="2.4"/><circle cx="569.89" cy="89.92" r="2.4"/><circle cx="570.30" cy="89.45" r="2.4"/><circle cx="570.71" cy="89.32" r="2.4"/><circle cx="571.12" cy="88.73" r="2.4"/><circle cx="571.52" cy="89.17" r="2.4"/><circle cx="571.93" cy="89.89" r="2.4"/><circle cx="572.34" cy="89.74" r="2.4"/><circle cx="572.75" cy="89.80" r="2.4"/><circle cx="573.16" cy="89.85" r="2.4"/><circle cx="573.57" cy="89.70" r="2.4"/><circle cx="573.98" cy="89.87" r="2.4"/><circle cx="574.38" cy="89.23" r="2.4"/><circle cx="574.79" cy="89.54" r="2.4"/><circle cx="575.20" cy="89.44" r="2.4"/><circle cx="575.61" cy="89.73" r="2.4"/><circle cx="576.02" cy="90.10" r="2.4"/><circle cx="576.43" cy="89.53" r="2.4"/><circle cx="576.84" cy="89.84" r="2.4"/><circle cx="577.25" cy="88.98" r="2.4"/><circle cx="577.65" cy="89.26" r="2.4"/><circle cx="578.06" cy="90.15" r="2.4"/><circle cx="578.47" cy="90.08" r="2.4"/><circle cx="578.88" cy="89.92" r="2.4"/><circle cx="579.29" cy="89.81" r="2.4"/><circle cx="579.70" cy="89.33" r="2.4"/><circle cx="580.11" cy="89.81" r="2.4"/><circle cx="580.52" cy="89.59" r="2.4"/><circle cx="580.92" cy="89.88" r="2.4"/><circle cx="581.33" cy="89.85" r="2.4"/><circle cx="581.74" cy="89.33" r="2.4"/><circle cx="582.15" cy="89.78" r="2.4"/><circle cx="582.56" cy="89.08" r="2.4"/><circle cx="582.97" cy="89.81" r="2.4"/><circle cx="583.38" cy="89.66" r="2.4"/><circle cx="583.79" cy="89.66" r="2.4"/><circle cx="584.19" cy="89.58" r="2.4"/><circle cx="584.60" cy="89.13" r="2.4"/><circle cx="585.01" cy="90.07" r="2.4"/><circle cx="585.42" cy="90.02" r="2.4"/><circle cx="585.83" cy="90.18" r="2.4"/><circle cx="586.24" cy="89.20" r="2.4"/><circle cx="586.65" cy="89.69" r="2.4"/><circle cx="587.06" cy="89.70" r="2.4"/><circle cx="587.47" cy="89.70" r="2.4"/><circle cx="587.87" cy="90.54" r="2.4"/><circle cx="588.28" cy="89.60" r="2.4"/><circle cx="588.69" cy="89.84" r="2.4"/><circle cx="589.10" cy="89.78" r="2.4"/><circle cx="589.51" cy="89.87" r="2.4"/><circle cx="589.92" cy="89.95" r="2.4"/><circle cx="590.33" cy="89.95" r="2.4"/><circle cx="590.74" cy="90.14" r="2.4"/><circle cx="591.14" cy="90.02" r="2.4"/><circle cx="591.55" cy="89.73" r="2.4"/><circle cx="591.96" cy="90.72" r="2.4"/><circle cx="592.37" cy="89.68" r="2.4"/><circle cx="592.78" cy="89.75" r="2.4"/><circle cx="593.19" cy="90.38" r="2.4"/><circle cx="593.60" cy="89.82" r="2.4"/><circle cx="594.00" cy="89.90" r="2.4"/><circle cx="594.41" cy="90.21" r="2.4"/><circle cx="594.82" cy="89.43" r="2.4"/><circle cx="595.23" cy="89.98" r="2.4"/><circle cx="595.64" cy="90.10" r="2.4"/><circle cx="596.05" cy="90.53" r="2.4"/><circle cx="596.46" cy="89.29" r="2.4"/><circle cx="596.87" cy="90.00" r="2.4"/><circle cx="597.27" cy="89.98" r="2.4"/><circle cx="597.68" cy="90.19" r="2.4"/><circle cx="598.09" cy="89.37" r="2.4"/><circle cx="598.50" cy="90.18" r="2.4"/><circle cx="598.91" cy="89.57" r="2.4"/><circle cx="599.32" cy="89.76" r="2.4"/><circle cx="599.73" cy="89.80" r="2.4"/><circle cx="600.14" cy="89.93" r="2.4"/><circle cx="600.55" cy="89.76" r="2.4"/><circle cx="600.95" cy="90.22" r="2.4"/><circle cx="601.36" cy="90.94" r="2.4"/><circle cx="601.77" cy="91.17" r="2.4"/><circle cx="602.18" cy="89.81" r="2.4"/><circle cx="602.59" cy="90.96" r="2.4"/><circle cx="603.00" cy="89.75" r="2.4"/><circle cx="603.41" cy="89.13" r="2.4"/><circle cx="603.82" cy="90.93" r="2.4"/><circle cx="604.22" cy="90.04" r="2.4"/><circle cx="604.63" cy="90.10" r="2.4"/><circle cx="605.04" cy="90.54" r="2.4"/><circle cx="605.45" cy="91.01" r="2.4"/><circle cx="605.86" cy="90.34" r="2.4"/><circle cx="606.27" cy="89.70" r="2.4"/><circle cx="606.68" cy="90.36" r="2.4"/><circle cx="607.09" cy="90.34" r="2.4"/><circle cx="607.49" cy="90.31" r="2.4"/><circle cx="607.90" cy="90.34" r="2.4"/><circle cx="608.31" cy="90.26" r="2.4"/><circle cx="608.72" cy="89.55" r="2.4"/><circle cx="609.13" cy="90.70" r="2.4"/><circle cx="609.54" cy="91.05" r="2.4"/><circle cx="609.95" cy="90.10" r="2.4"/><circle cx="610.36" cy="90.60" r="2.4"/><circle cx="610.76" cy="90.60" r="2.4"/><circle cx="611.17" cy="90.94" r="2.4"/><circle cx="611.58" cy="90.51" r="2.4"/><circle cx="611.99" cy="90.61" r="2.4"/><circle cx="612.40" cy="90.31" r="2.4"/><circle cx="612.81" cy="90.62" r="2.4"/><circle cx="613.22" cy="91.01" r="2.4"/><circle cx="613.62" cy="90.32" r="2.4"/><circle cx="614.03" cy="90.53" r="2.4"/><circle cx="614.44" cy="91.19" r="2.4"/><circle cx="614.85" cy="90.65" r="2.4"/><circle cx="615.26" cy="90.26" r="2.4"/><circle cx="615.67" cy="90.57" r="2.4"/><circle cx="616.08" cy="90.67" r="2.4"/><circle cx="616.49" cy="90.35" r="2.4"/><circle cx="616.89" cy="90.80" r="2.4"/><circle cx="617.30" cy="90.83" r="2.4"/><circle cx="617.71" cy="90.40" r="2.4"/><circle cx="618.12" cy="90.66" r="2.4"/><circle cx="618.53" cy="90.84" r="2.4"/><circle cx="618.94" cy="90.54" r="2.4"/><circle cx="619.35" cy="90.54" r="2.4"/><circle cx="619.76" cy="90.31" r="2.4"/><circle cx="620.16" cy="90.29" r="2.4"/><circle cx="620.57" cy="90.63" r="2.4"/><circle cx="620.98" cy="90.68" r="2.4"/><circle cx="621.39" cy="91.02" r="2.4"/><circle cx="621.80" cy="90.62" r="2.4"/><circle cx="622.21" cy="90.84" r="2.4"/><circle cx="622.62" cy="90.44" r="2.4"/><circle cx="623.03" cy="90.47" r="2.4"/><circle cx="623.43" cy="90.55" r="2.4"/><circle cx="623.84" cy="90.82" r="2.4"/><circle cx="624.25" cy="90.71" r="2.4"/><circle cx="624.66" cy="90.31" r="2.4"/><circle cx="625.07" cy="90.26" r="2.4"/><circle cx="625.48" cy="91.10" r="2.4"/><circle cx="625.89" cy="91.93" r="2.4"/><circle cx="626.30" cy="90.71" r="2.4"/><circle cx="626.70" cy="91.51" r="2.4"/><circle cx="627.11" cy="90.96" r="2.4"/><circle cx="627.52" cy="90.84" r="2.4"/><circle cx="627.93" cy="90.49" r="2.4"/><circle cx="628.34" cy="91.11" r="2.4"/><circle cx="628.75" cy="91.11" r="2.4"/><circle cx="629.16" cy="91.30" r="2.4"/><circle cx="629.57" cy="91.01" r="2.4"/><circle cx="629.98" cy="91.57" r="2.4"/><circle cx="630.38" cy="90.96" r="2.4"/><circle cx="630.79" cy="91.06" r="2.4"/><circle cx="631.20" cy="90.72" r="2.4"/><circle cx="631.61" cy="91.33" r="2.4"/><circle cx="632.02" cy="91.13" r="2.4"/><circle cx="632.43" cy="91.20" r="2.4"/><circle cx="632.84" cy="91.30" r="2.4"/><circle cx="633.25" cy="91.66" r="2.4"/><circle cx="633.65" cy="91.54" r="2.4"/><circle cx="634.06" cy="91.34" r="2.4"/><circle cx="634.47" cy="91.20" r="2.4"/><circle cx="634.88" cy="91.03" r="2.4"/><circle cx="635.29" cy="91.64" r="2.4"/><circle cx="635.70" cy="91.35" r="2.4"/><circle cx="636.11" cy="91.25" r="2.4"/><circle cx="636.51" cy="91.18" r="2.4"/><circle cx="636.92" cy="91.42" r="2.4"/><circle cx="637.33" cy="91.46" r="2.4"/><circle cx="637.74" cy="91.68" r="2.4"/><circle cx="638.15" cy="91.57" r="2.4"/><circle cx="638.56" cy="91.67" r="2.4"/><circle cx="638.97" cy="92.25" r="2.4"/><circle cx="639.38" cy="91.90" r="2.4"/><circle cx="639.78" cy="92.53" r="2.4"/><circle cx="640.19" cy="91.51" r="2.4"/><circle cx="640.60" cy="91.40" r="2.4"/><circle cx="641.01" cy="91.86" r="2.4"/><circle cx="641.42" cy="91.70" r="2.4"/><circle cx="641.83" cy="91.72" r="2.4"/><circle cx="642.24" cy="91.89" r="2.4"/><circle cx="642.65" cy="91.30" r="2.4"/><circle cx="643.06" cy="91.91" r="2.4"/><circle cx="643.46" cy="91.75" r="2.4"/><circle cx="643.87" cy="91.91" r="2.4"/><circle cx="644.28" cy="91.19" r="2.4"/><circle cx="644.69" cy="92.52" r="2.4"/><circle cx="645.10" cy="91.88" r="2.4"/><circle cx="645.51" cy="92.46" r="2.4"/><circle cx="645.92" cy="92.26" r="2.4"/><circle cx="646.33" cy="92.36" r="2.4"/><circle cx="646.73" cy="91.77" r="2.4"/><circle cx="647.14" cy="92.45" r="2.4"/><circle cx="647.55" cy="92.45" r="2.4"/><circle cx="647.96" cy="92.23" r="2.4"/><circle cx="648.37" cy="92.48" r="2.4"/><circle cx="648.78" cy="92.51" r="2.4"/><circle cx="649.19" cy="91.61" r="2.4"/><circle cx="649.60" cy="92.44" r="2.4"/><circle cx="650.00" cy="92.51" r="2.4"/><circle cx="650.41" cy="91.75" r="2.4"/><circle cx="650.82" cy="92.24" r="2.4"/><circle cx="651.23" cy="91.89" r="2.4"/><circle cx="651.64" cy="92.90" r="2.4"/><circle cx="652.05" cy="92.44" r="2.4"/><circle cx="652.46" cy="92.19" r="2.4"/><circle cx="652.87" cy="92.31" r="2.4"/><circle cx="653.27" cy="92.22" r="2.4"/><circle cx="653.68" cy="91.99" r="2.4"/><circle cx="654.09" cy="92.25" r="2.4"/><circle cx="654.50" cy="92.10" r="2.4"/></g>
<g fill="#f0a0a6" stroke="#e8878f" stroke-width="0.5" clip-path="url(#cb)"><circle cx="542.91" cy="92.70" r="2.1"/></g>
<g fill="none" stroke="#f3acb0" stroke-width="0.7" clip-path="url(#cb)"><circle cx="327.91" cy="44.17" r="1.9"/></g>
<g fill="#f0a0a6" stroke="#e8878f" stroke-width="0.5" clip-path="url(#cb)"><circle cx="327.91" cy="58.70" r="2.1"/></g>
<g fill="#f6faff" stroke="#98c2f2" stroke-width="0.7" clip-path="url(#cb)"><circle cx="328.25" cy="28.60" r="2.2"/><circle cx="328.81" cy="30.01" r="2.2"/><circle cx="329.15" cy="27.87" r="2.2"/><circle cx="329.57" cy="28.00" r="2.2"/><circle cx="329.95" cy="27.86" r="2.2"/><circle cx="330.45" cy="27.53" r="2.2"/><circle cx="330.69" cy="25.83" r="2.2"/><circle cx="331.26" cy="28.38" r="2.2"/><circle cx="331.51" cy="31.33" r="2.2"/><circle cx="331.95" cy="29.05" r="2.2"/><circle cx="332.41" cy="27.08" r="2.2"/><circle cx="332.74" cy="27.80" r="2.2"/><circle cx="333.15" cy="28.76" r="2.2"/><circle cx="333.65" cy="28.46" r="2.2"/><circle cx="333.94" cy="30.76" r="2.2"/><circle cx="334.53" cy="28.19" r="2.2"/><circle cx="334.92" cy="26.89" r="2.2"/><circle cx="335.35" cy="29.17" r="2.2"/><circle cx="335.57" cy="27.78" r="2.2"/><circle cx="336.15" cy="28.16" r="2.2"/><circle cx="336.48" cy="29.52" r="2.2"/><circle cx="336.97" cy="29.08" r="2.2"/><circle cx="337.42" cy="29.55" r="2.2"/><circle cx="337.61" cy="29.15" r="2.2"/><circle cx="338.19" cy="27.06" r="2.2"/><circle cx="338.65" cy="31.78" r="2.2"/><circle cx="338.94" cy="29.81" r="2.2"/><circle cx="339.41" cy="29.11" r="2.2"/><circle cx="339.87" cy="27.93" r="2.2"/><circle cx="340.06" cy="29.93" r="2.2"/><circle cx="340.55" cy="28.66" r="2.2"/><circle cx="341.11" cy="28.13" r="2.2"/><circle cx="341.50" cy="25.28" r="2.2"/><circle cx="341.85" cy="25.28" r="2.2"/><circle cx="342.26" cy="26.20" r="2.2"/><circle cx="342.52" cy="27.43" r="2.2"/><circle cx="343.12" cy="28.38" r="2.2"/><circle cx="343.54" cy="27.37" r="2.2"/><circle cx="343.87" cy="25.43" r="2.2"/><circle cx="344.15" cy="29.55" r="2.2"/><circle cx="344.73" cy="31.22" r="2.2"/><circle cx="344.96" cy="27.78" r="2.2"/><circle cx="345.59" cy="27.36" r="2.2"/><circle cx="345.80" cy="28.10" r="2.2"/><circle cx="346.40" cy="29.75" r="2.2"/><circle cx="346.62" cy="26.82" r="2.2"/><circle cx="347.02" cy="28.37" r="2.2"/><circle cx="347.45" cy="25.28" r="2.2"/><circle cx="347.87" cy="25.28" r="2.2"/><circle cx="348.35" cy="27.42" r="2.2"/></g>
<g fill="#fff" stroke="#f3acb0" stroke-width="0.8" clip-path="url(#cb)"><circle cx="327.91" cy="43.26" r="2.2"/></g>
<g fill="#fff" stroke="#8cbcf0" stroke-width="0.8" clip-path="url(#cb)"><circle cx="327.99" cy="45.09" r="2.2"/><circle cx="327.91" cy="51.16" r="2.2"/></g>
<g fill="#f0a0a6" stroke="#e8878f" stroke-width="0.5" clip-path="url(#cb)"><circle cx="327.91" cy="58.90" r="2.3"/></g>
<g fill="#7fb0ea" stroke="#5d95dc" stroke-width="0.5" clip-path="url(#cb)"><circle cx="327.91" cy="64.30" r="2.3"/></g>
<g clip-path="url(#cb)"><path d="M327.91,96.70C327.98,96.80 328.18,97.09 328.32,97.28C328.45,97.48 328.59,97.64 328.73,97.87C328.86,98.10 329.00,98.38 329.13,98.67C329.27,98.96 329.41,99.30 329.54,99.61C329.68,99.93 329.82,100.24 329.95,100.56C330.09,100.87 330.22,101.16 330.36,101.50C330.50,101.84 330.63,102.21 330.77,102.57C330.91,102.92 331.04,103.28 331.18,103.63C331.31,103.99 331.45,104.34 331.59,104.70C331.72,105.06 331.86,105.42 332.00,105.77C332.13,106.12 332.27,106.46 332.40,106.79C332.54,107.13 332.68,107.45 332.81,107.78C332.95,108.11 333.09,108.44 333.22,108.77C333.36,109.09 333.50,109.42 333.63,109.75C333.77,110.08 333.90,110.41 334.04,110.74C334.18,111.07 334.31,111.40 334.45,111.72C334.59,112.05 334.72,112.38 334.86,112.71C334.99,113.04 335.13,113.37 335.27,113.69C335.40,114.01 335.54,114.32 335.68,114.64C335.81,114.95 335.95,115.27 336.08,115.58C336.22,115.90 336.36,116.22 336.49,116.53C336.63,116.85 336.76,117.16 336.90,117.48C337.04,117.79 337.17,118.11 337.31,118.43C337.45,118.74 337.58,119.06 337.72,119.37C337.86,119.69 337.99,120.01 338.13,120.32C338.26,120.64 338.40,120.95 338.54,121.27C338.67,121.58 338.81,121.90 338.94,122.22C339.08,122.53 339.22,122.85 339.35,123.16C339.49,123.48 339.63,123.79 339.76,124.11C339.90,124.43 340.03,124.74 340.17,125.06C340.31,125.37 340.44,125.69 340.58,126.01C340.72,126.32 340.85,126.64 340.99,126.95C341.12,127.27 341.26,127.61 341.40,127.90C341.53,128.19 341.67,128.44 341.81,128.71C341.94,128.98 342.08,129.25 342.21,129.53C342.35,129.80 342.49,130.07 342.62,130.34C342.76,130.61 342.90,130.88 343.03,131.15C343.17,131.42 343.31,131.69 343.44,131.96C343.58,132.23 343.71,132.53 343.85,132.78C343.99,133.02 344.12,133.23 344.26,133.43C344.40,133.64 344.53,133.80 344.67,133.99C344.80,134.17 344.94,134.36 345.08,134.54C345.21,134.73 345.35,134.94 345.49,135.10C345.62,135.26 345.76,135.39 345.89,135.53C346.03,135.68 346.17,135.82 346.30,135.96C346.44,136.11 346.64,136.33 346.71,136.40" fill="none" stroke="#8ab9ef" stroke-width="4.9" stroke-linecap="round" stroke-linejoin="round"/><path d="M327.91,96.70C327.98,96.80 328.18,97.09 328.32,97.28C328.45,97.48 328.59,97.64 328.73,97.87C328.86,98.10 329.00,98.38 329.13,98.67C329.27,98.96 329.41,99.30 329.54,99.61C329.68,99.93 329.82,100.24 329.95,100.56C330.09,100.87 330.22,101.16 330.36,101.50C330.50,101.84 330.63,102.21 330.77,102.57C330.91,102.92 331.04,103.28 331.18,103.63C331.31,103.99 331.45,104.34 331.59,104.70C331.72,105.06 331.86,105.42 332.00,105.77C332.13,106.12 332.27,106.46 332.40,106.79C332.54,107.13 332.68,107.45 332.81,107.78C332.95,108.11 333.09,108.44 333.22,108.77C333.36,109.09 333.50,109.42 333.63,109.75C333.77,110.08 333.90,110.41 334.04,110.74C334.18,111.07 334.31,111.40 334.45,111.72C334.59,112.05 334.72,112.38 334.86,112.71C334.99,113.04 335.13,113.37 335.27,113.69C335.40,114.01 335.54,114.32 335.68,114.64C335.81,114.95 335.95,115.27 336.08,115.58C336.22,115.90 336.36,116.22 336.49,116.53C336.63,116.85 336.76,117.16 336.90,117.48C337.04,117.79 337.17,118.11 337.31,118.43C337.45,118.74 337.58,119.06 337.72,119.37C337.86,119.69 337.99,120.01 338.13,120.32C338.26,120.64 338.40,120.95 338.54,121.27C338.67,121.58 338.81,121.90 338.94,122.22C339.08,122.53 339.22,122.85 339.35,123.16C339.49,123.48 339.63,123.79 339.76,124.11C339.90,124.43 340.03,124.74 340.17,125.06C340.31,125.37 340.44,125.69 340.58,126.01C340.72,126.32 340.85,126.64 340.99,126.95C341.12,127.27 341.26,127.61 341.40,127.90C341.53,128.19 341.67,128.44 341.81,128.71C341.94,128.98 342.08,129.25 342.21,129.53C342.35,129.80 342.49,130.07 342.62,130.34C342.76,130.61 342.90,130.88 343.03,131.15C343.17,131.42 343.31,131.69 343.44,131.96C343.58,132.23 343.71,132.53 343.85,132.78C343.99,133.02 344.12,133.23 344.26,133.43C344.40,133.64 344.53,133.80 344.67,133.99C344.80,134.17 344.94,134.36 345.08,134.54C345.21,134.73 345.35,134.94 345.49,135.10C345.62,135.26 345.76,135.39 345.89,135.53C346.03,135.68 346.17,135.82 346.30,135.96C346.44,136.11 346.64,136.33 346.71,136.40" fill="none" stroke="#eaf3fd" stroke-width="2.7" stroke-linecap="round" stroke-linejoin="round"/></g>
<path d="M341.60,86.30L341.60,92.20L328.50,92.20" fill="none" stroke="#3a3a3a" stroke-width="0.9"/>
<path d="M328.50,92.20l4,-1.3v2.6z" fill="#3a3a3a"/>
<path d="M630.30,33.50L630.30,41.40L649.60,41.40" fill="none" stroke="#3a3a3a" stroke-width="0.9"/>
<path d="M649.60,41.40l-4,-1.3v2.6z" fill="#3a3a3a"/>
<text x="594.50" y="70.90" font-size="8.2" >84.7% retention</text>
<text x="594.30" y="81.10" font-size="8.2" >@800th cycle</text>
<path d="M644.50,81.90L652.30,88.50" fill="none" stroke="#3a3a3a" stroke-width="0.9"/>
<path d="M652.30,88.50l-4,-1.3v2.6z" fill="#3a3a3a"/>
<path d="M653.2,89.3l-3.6,-1.2l1.6,-1.8z" fill="#222"/>
<g fill="url(#pg)" stroke="#e8848d" stroke-width="0.4"><circle cx="599.80" cy="105.70" r="2.1"/></g>
<text x="608.20" y="108.40" font-size="8.4" >PVM-GPE</text>
<g fill="url(#bg)" stroke="#6a9ee2" stroke-width="0.4"><circle cx="599.80" cy="115.50" r="2.1"/></g>
<text x="608.20" y="118.60" font-size="8.4" >PDE</text>
<text x="525.50" y="136.00" font-size="8.1" >Li||NCM811, 3 C=564 mA g<tspan dy="-3" font-size="5.8">-1</tspan><tspan dy="3"> ,25°C</tspan></text>
<clipPath id="cc"><rect x="45.5" y="191.5" width="150.0" height="119.0"/></clipPath>
<g fill="#fff" stroke="#f0a2a8" stroke-width="0.6" clip-path="url(#cc)"><circle cx="50.12" cy="202.36" r="1.9"/><circle cx="51.27" cy="202.04" r="1.9"/><circle cx="52.42" cy="202.85" r="1.9"/><circle cx="53.58" cy="202.81" r="1.9"/><circle cx="54.73" cy="202.20" r="1.9"/><circle cx="55.88" cy="201.53" r="1.9"/><circle cx="57.04" cy="202.01" r="1.9"/><circle cx="58.19" cy="202.59" r="1.9"/><circle cx="59.35" cy="202.34" r="1.9"/><circle cx="60.50" cy="201.95" r="1.9"/><circle cx="61.65" cy="201.44" r="1.9"/><circle cx="62.81" cy="201.77" r="1.9"/><circle cx="63.96" cy="202.03" r="1.9"/><circle cx="65.12" cy="202.08" r="1.9"/><circle cx="66.27" cy="202.02" r="1.9"/><circle cx="67.42" cy="202.51" r="1.9"/><circle cx="68.58" cy="202.30" r="1.9"/><circle cx="69.73" cy="202.21" r="1.9"/><circle cx="70.88" cy="201.64" r="1.9"/><circle cx="72.04" cy="202.37" r="1.9"/><circle cx="73.19" cy="201.95" r="1.9"/><circle cx="74.35" cy="202.81" r="1.9"/><circle cx="75.50" cy="202.02" r="1.9"/><circle cx="76.65" cy="202.33" r="1.9"/><circle cx="77.81" cy="202.64" r="1.9"/><circle cx="78.96" cy="202.44" r="1.9"/><circle cx="80.12" cy="202.06" r="1.9"/><circle cx="81.27" cy="202.59" r="1.9"/><circle cx="82.42" cy="202.03" r="1.9"/><circle cx="83.58" cy="201.83" r="1.9"/><circle cx="84.73" cy="201.81" r="1.9"/><circle cx="85.88" cy="201.82" r="1.9"/><circle cx="87.04" cy="203.06" r="1.9"/><circle cx="88.19" cy="202.39" r="1.9"/><circle cx="89.35" cy="202.84" r="1.9"/><circle cx="90.50" cy="202.16" r="1.9"/><circle cx="91.65" cy="202.54" r="1.9"/><circle cx="92.81" cy="202.49" r="1.9"/><circle cx="93.96" cy="202.40" r="1.9"/><circle cx="95.12" cy="202.87" r="1.9"/><circle cx="96.27" cy="202.59" r="1.9"/><circle cx="97.42" cy="202.95" r="1.9"/><circle cx="98.58" cy="201.77" r="1.9"/><circle cx="99.73" cy="202.86" r="1.9"/><circle cx="100.88" cy="202.67" r="1.9"/><circle cx="102.04" cy="203.44" r="1.9"/><circle cx="103.19" cy="203.34" r="1.9"/><circle cx="104.35" cy="203.08" r="1.9"/><circle cx="105.50" cy="202.40" r="1.9"/><circle cx="106.65" cy="202.42" r="1.9"/><circle cx="107.81" cy="202.64" r="1.9"/><circle cx="108.96" cy="203.05" r="1.9"/><circle cx="110.12" cy="202.00" r="1.9"/><circle cx="111.27" cy="203.24" r="1.9"/><circle cx="112.42" cy="203.18" r="1.9"/><circle cx="113.58" cy="202.62" r="1.9"/><circle cx="114.73" cy="203.27" r="1.9"/><circle cx="115.88" cy="202.72" r="1.9"/><circle cx="117.04" cy="202.42" r="1.9"/><circle cx="118.19" cy="202.85" r="1.9"/><circle cx="119.35" cy="202.64" r="1.9"/><circle cx="120.50" cy="202.79" r="1.9"/><circle cx="121.65" cy="203.08" r="1.9"/><circle cx="122.81" cy="204.14" r="1.9"/><circle cx="123.96" cy="203.30" r="1.9"/><circle cx="125.12" cy="202.78" r="1.9"/><circle cx="126.27" cy="203.46" r="1.9"/><circle cx="127.42" cy="203.00" r="1.9"/><circle cx="128.58" cy="202.66" r="1.9"/><circle cx="129.73" cy="202.17" r="1.9"/><circle cx="130.88" cy="203.32" r="1.9"/><circle cx="132.04" cy="202.95" r="1.9"/><circle cx="133.19" cy="202.62" r="1.9"/><circle cx="134.35" cy="202.49" r="1.9"/><circle cx="135.50" cy="203.29" r="1.9"/><circle cx="136.65" cy="201.90" r="1.9"/><circle cx="137.81" cy="203.04" r="1.9"/><circle cx="138.96" cy="202.22" r="1.9"/><circle cx="140.12" cy="202.76" r="1.9"/><circle cx="141.27" cy="202.49" r="1.9"/><circle cx="142.42" cy="201.95" r="1.9"/><circle cx="143.58" cy="202.35" r="1.9"/><circle cx="144.73" cy="202.59" r="1.9"/><circle cx="145.88" cy="203.06" r="1.9"/><circle cx="147.04" cy="202.91" r="1.9"/><circle cx="148.19" cy="203.23" r="1.9"/><circle cx="149.35" cy="201.75" r="1.9"/><circle cx="150.50" cy="203.27" r="1.9"/><circle cx="151.65" cy="203.70" r="1.9"/><circle cx="152.81" cy="201.89" r="1.9"/><circle cx="153.96" cy="202.04" r="1.9"/><circle cx="155.12" cy="202.73" r="1.9"/><circle cx="156.27" cy="202.21" r="1.9"/><circle cx="157.42" cy="202.91" r="1.9"/><circle cx="158.58" cy="202.80" r="1.9"/><circle cx="159.73" cy="202.33" r="1.9"/><circle cx="160.88" cy="202.37" r="1.9"/><circle cx="162.04" cy="202.72" r="1.9"/><circle cx="163.19" cy="201.82" r="1.9"/><circle cx="164.35" cy="202.20" r="1.9"/><circle cx="165.50" cy="202.44" r="1.9"/><circle cx="166.65" cy="203.00" r="1.9"/><circle cx="167.81" cy="202.43" r="1.9"/><circle cx="168.96" cy="202.62" r="1.9"/><circle cx="170.12" cy="202.51" r="1.9"/><circle cx="171.27" cy="202.12" r="1.9"/><circle cx="172.42" cy="202.70" r="1.9"/><circle cx="173.58" cy="202.34" r="1.9"/><circle cx="174.73" cy="202.10" r="1.9"/><circle cx="175.88" cy="202.28" r="1.9"/><circle cx="177.04" cy="201.44" r="1.9"/><circle cx="178.19" cy="203.17" r="1.9"/><circle cx="179.35" cy="202.44" r="1.9"/><circle cx="180.50" cy="202.91" r="1.9"/><circle cx="181.65" cy="202.43" r="1.9"/><circle cx="182.81" cy="201.31" r="1.9"/><circle cx="183.96" cy="203.09" r="1.9"/><circle cx="185.12" cy="202.50" r="1.9"/><circle cx="186.27" cy="202.09" r="1.9"/><circle cx="187.42" cy="202.32" r="1.9"/><circle cx="188.58" cy="201.96" r="1.9"/><circle cx="189.73" cy="203.01" r="1.9"/><circle cx="190.88" cy="201.92" r="1.9"/><circle cx="192.04" cy="202.74" r="1.9"/><circle cx="193.19" cy="202.84" r="1.9"/><circle cx="194.35" cy="202.07" r="1.9"/><circle cx="195.50" cy="202.10" r="1.9"/><circle cx="46.65" cy="218.55" r="1.9"/><circle cx="48.96" cy="212.05" r="1.9"/><circle cx="112.42" cy="215.84" r="1.9"/><circle cx="159.73" cy="207.73" r="1.9"/></g>
<g fill="#f0a0a6" stroke="#e8878f" stroke-width="0.5" clip-path="url(#cc)"><circle cx="46.65" cy="235.53" r="2.1"/><circle cx="47.81" cy="235.13" r="2.1"/></g>
<g fill="#f8ccd0" stroke="#ec8f97" stroke-width="0.7" clip-path="url(#cc)"><circle cx="48.96" cy="250.70" r="2.0"/><circle cx="50.12" cy="251.16" r="2.0"/><circle cx="51.27" cy="250.75" r="2.0"/><circle cx="52.42" cy="251.69" r="2.0"/><circle cx="53.58" cy="252.25" r="2.0"/><circle cx="54.73" cy="252.69" r="2.0"/><circle cx="55.88" cy="253.39" r="2.0"/><circle cx="57.04" cy="253.93" r="2.0"/><circle cx="58.19" cy="253.86" r="2.0"/><circle cx="59.35" cy="254.27" r="2.0"/><circle cx="60.50" cy="254.20" r="2.0"/><circle cx="61.65" cy="254.61" r="2.0"/><circle cx="62.81" cy="254.91" r="2.0"/><circle cx="63.96" cy="254.78" r="2.0"/><circle cx="65.12" cy="254.65" r="2.0"/><circle cx="66.27" cy="254.85" r="2.0"/><circle cx="67.42" cy="254.42" r="2.0"/><circle cx="68.58" cy="254.43" r="2.0"/><circle cx="69.73" cy="253.82" r="2.0"/><circle cx="70.88" cy="253.84" r="2.0"/><circle cx="72.04" cy="253.35" r="2.0"/><circle cx="73.19" cy="252.82" r="2.0"/><circle cx="74.35" cy="252.43" r="2.0"/><circle cx="75.50" cy="252.79" r="2.0"/><circle cx="76.65" cy="252.26" r="2.0"/><circle cx="77.81" cy="252.70" r="2.0"/><circle cx="78.96" cy="252.31" r="2.0"/><circle cx="80.12" cy="252.62" r="2.0"/><circle cx="81.27" cy="252.64" r="2.0"/><circle cx="82.42" cy="252.80" r="2.0"/><circle cx="83.58" cy="252.56" r="2.0"/><circle cx="84.73" cy="252.03" r="2.0"/><circle cx="85.88" cy="252.65" r="2.0"/><circle cx="87.04" cy="252.20" r="2.0"/><circle cx="88.19" cy="252.23" r="2.0"/><circle cx="89.35" cy="252.58" r="2.0"/><circle cx="90.50" cy="252.26" r="2.0"/><circle cx="91.65" cy="252.20" r="2.0"/><circle cx="92.81" cy="252.55" r="2.0"/><circle cx="93.96" cy="252.59" r="2.0"/><circle cx="95.12" cy="252.24" r="2.0"/><circle cx="96.27" cy="252.39" r="2.0"/><circle cx="97.42" cy="252.02" r="2.0"/><circle cx="98.58" cy="252.36" r="2.0"/><circle cx="99.73" cy="252.69" r="2.0"/><circle cx="100.88" cy="252.45" r="2.0"/><circle cx="102.04" cy="252.68" r="2.0"/><circle cx="103.19" cy="252.27" r="2.0"/><circle cx="104.35" cy="252.27" r="2.0"/><circle cx="105.50" cy="252.50" r="2.0"/><circle cx="106.65" cy="252.59" r="2.0"/><circle cx="107.81" cy="252.21" r="2.0"/><circle cx="108.96" cy="252.47" r="2.0"/><circle cx="110.12" cy="252.13" r="2.0"/><circle cx="111.27" cy="252.60" r="2.0"/><circle cx="112.42" cy="252.46" r="2.0"/><circle cx="113.58" cy="252.53" r="2.0"/><circle cx="114.73" cy="252.64" r="2.0"/><circle cx="115.88" cy="251.86" r="2.0"/><circle cx="117.04" cy="252.09" r="2.0"/><circle cx="118.19" cy="252.58" r="2.0"/><circle cx="119.35" cy="252.29" r="2.0"/><circle cx="120.50" cy="252.84" r="2.0"/><circle cx="121.65" cy="252.21" r="2.0"/><circle cx="122.81" cy="252.25" r="2.0"/><circle cx="123.96" cy="252.56" r="2.0"/><circle cx="125.12" cy="252.57" r="2.0"/><circle cx="126.27" cy="252.45" r="2.0"/><circle cx="127.42" cy="252.42" r="2.0"/><circle cx="128.58" cy="252.59" r="2.0"/><circle cx="129.73" cy="252.70" r="2.0"/><circle cx="130.88" cy="252.59" r="2.0"/><circle cx="132.04" cy="252.63" r="2.0"/><circle cx="133.19" cy="252.39" r="2.0"/><circle cx="134.35" cy="252.54" r="2.0"/><circle cx="135.50" cy="252.52" r="2.0"/><circle cx="136.65" cy="252.92" r="2.0"/><circle cx="137.81" cy="252.66" r="2.0"/><circle cx="138.96" cy="252.58" r="2.0"/><circle cx="140.12" cy="252.52" r="2.0"/><circle cx="141.27" cy="252.35" r="2.0"/><circle cx="142.42" cy="252.31" r="2.0"/><circle cx="143.58" cy="252.48" r="2.0"/><circle cx="144.73" cy="251.88" r="2.0"/><circle cx="145.88" cy="251.80" r="2.0"/><circle cx="147.04" cy="252.84" r="2.0"/><circle cx="148.19" cy="253.35" r="2.0"/><circle cx="149.35" cy="254.41" r="2.0"/><circle cx="150.50" cy="255.23" r="2.0"/><circle cx="151.65" cy="255.01" r="2.0"/><circle cx="152.81" cy="254.64" r="2.0"/><circle cx="153.96" cy="254.98" r="2.0"/><circle cx="155.12" cy="255.28" r="2.0"/><circle cx="156.27" cy="254.91" r="2.0"/><circle cx="157.42" cy="255.08" r="2.0"/><circle cx="158.58" cy="255.11" r="2.0"/><circle cx="159.73" cy="254.89" r="2.0"/><circle cx="160.88" cy="255.33" r="2.0"/><circle cx="162.04" cy="255.34" r="2.0"/><circle cx="163.19" cy="255.27" r="2.0"/><circle cx="164.35" cy="254.73" r="2.0"/><circle cx="165.50" cy="254.94" r="2.0"/><circle cx="166.65" cy="255.09" r="2.0"/><circle cx="167.81" cy="255.10" r="2.0"/><circle cx="168.96" cy="254.82" r="2.0"/><circle cx="170.12" cy="254.70" r="2.0"/><circle cx="171.27" cy="255.11" r="2.0"/><circle cx="172.42" cy="254.90" r="2.0"/><circle cx="173.58" cy="254.47" r="2.0"/><circle cx="174.73" cy="254.83" r="2.0"/><circle cx="175.88" cy="255.03" r="2.0"/><circle cx="177.04" cy="254.89" r="2.0"/><circle cx="178.19" cy="254.93" r="2.0"/><circle cx="179.35" cy="254.82" r="2.0"/><circle cx="180.50" cy="254.88" r="2.0"/><circle cx="181.65" cy="255.06" r="2.0"/><circle cx="182.81" cy="254.98" r="2.0"/><circle cx="183.96" cy="254.88" r="2.0"/><circle cx="185.12" cy="255.10" r="2.0"/><circle cx="186.27" cy="254.94" r="2.0"/><circle cx="187.42" cy="255.15" r="2.0"/><circle cx="188.58" cy="254.70" r="2.0"/><circle cx="189.73" cy="254.63" r="2.0"/><circle cx="190.88" cy="255.14" r="2.0"/><circle cx="192.04" cy="254.78" r="2.0"/><circle cx="193.19" cy="254.92" r="2.0"/><circle cx="194.35" cy="254.94" r="2.0"/><circle cx="195.50" cy="255.01" r="2.0"/></g>
<path d="M56.10,260.00L56.10,266.40L47.50,266.40" fill="none" stroke="#3a3a3a" stroke-width="0.9"/>
<path d="M47.50,266.40l4,-1.3v2.6z" fill="#3a3a3a"/>
<path d="M179.50,205.00L179.50,214.40L192.80,214.40" fill="none" stroke="#3a3a3a" stroke-width="0.9"/>
<path d="M192.80,214.40l-4,-1.3v2.6z" fill="#3a3a3a"/>
<g fill="url(#pg)" stroke="#e8848d" stroke-width="0.4"><circle cx="142.80" cy="278.60" r="1.8"/></g>
<text x="153.70" y="281.90" font-size="8.1" >PVM-GPE</text>
<text x="155.80" y="293.30" font-size="8.1" >8 mg cm<tspan dy="-3" font-size="5.8">-2</tspan></text>
<text x="65.60" y="305.30" font-size="8.26" >Li||NCM811, 0.5 C=94 mA g<tspan dy="-3" font-size="5.8">-1</tspan><tspan dy="3">, 25°C</tspan></text>
<clipPath id="cd"><rect x="274.5" y="190.5" width="152.0" height="120.0"/></clipPath>
<g fill="#fff" stroke="#f0a2a8" stroke-width="0.6" clip-path="url(#cd)"><circle cx="277.54" cy="202.34" r="1.9"/><circle cx="278.55" cy="202.46" r="1.9"/><circle cx="279.57" cy="202.84" r="1.9"/><circle cx="280.58" cy="202.12" r="1.9"/><circle cx="281.59" cy="202.30" r="1.9"/><circle cx="282.61" cy="202.25" r="1.9"/><circle cx="283.62" cy="202.29" r="1.9"/><circle cx="284.63" cy="201.78" r="1.9"/><circle cx="285.65" cy="201.98" r="1.9"/><circle cx="286.66" cy="201.85" r="1.9"/><circle cx="287.67" cy="202.34" r="1.9"/><circle cx="288.69" cy="202.38" r="1.9"/><circle cx="289.70" cy="202.55" r="1.9"/><circle cx="290.71" cy="202.26" r="1.9"/><circle cx="291.73" cy="203.09" r="1.9"/><circle cx="292.74" cy="201.55" r="1.9"/><circle cx="293.75" cy="202.05" r="1.9"/><circle cx="294.77" cy="202.04" r="1.9"/><circle cx="295.78" cy="201.74" r="1.9"/><circle cx="296.79" cy="202.15" r="1.9"/><circle cx="297.81" cy="201.91" r="1.9"/><circle cx="298.82" cy="201.70" r="1.9"/><circle cx="299.83" cy="202.49" r="1.9"/><circle cx="300.85" cy="201.32" r="1.9"/><circle cx="301.86" cy="201.85" r="1.9"/><circle cx="302.87" cy="201.66" r="1.9"/><circle cx="303.89" cy="202.21" r="1.9"/><circle cx="304.90" cy="202.04" r="1.9"/><circle cx="305.91" cy="201.20" r="1.9"/><circle cx="306.93" cy="201.96" r="1.9"/><circle cx="307.94" cy="201.89" r="1.9"/><circle cx="308.95" cy="201.55" r="1.9"/><circle cx="309.97" cy="201.20" r="1.9"/><circle cx="310.98" cy="202.52" r="1.9"/><circle cx="311.99" cy="201.13" r="1.9"/><circle cx="313.01" cy="201.53" r="1.9"/><circle cx="314.02" cy="201.28" r="1.9"/><circle cx="315.03" cy="201.93" r="1.9"/><circle cx="316.05" cy="201.44" r="1.9"/><circle cx="317.06" cy="200.96" r="1.9"/><circle cx="318.07" cy="201.53" r="1.9"/><circle cx="319.09" cy="201.69" r="1.9"/><circle cx="320.10" cy="201.60" r="1.9"/><circle cx="321.11" cy="201.61" r="1.9"/><circle cx="322.13" cy="201.12" r="1.9"/><circle cx="323.14" cy="201.30" r="1.9"/><circle cx="324.15" cy="201.52" r="1.9"/><circle cx="325.17" cy="201.05" r="1.9"/><circle cx="326.18" cy="201.68" r="1.9"/><circle cx="327.19" cy="201.78" r="1.9"/><circle cx="328.21" cy="200.39" r="1.9"/><circle cx="329.22" cy="201.45" r="1.9"/><circle cx="330.23" cy="200.63" r="1.9"/><circle cx="331.25" cy="201.20" r="1.9"/><circle cx="332.26" cy="201.23" r="1.9"/><circle cx="333.27" cy="200.94" r="1.9"/><circle cx="334.29" cy="201.40" r="1.9"/><circle cx="335.30" cy="201.37" r="1.9"/><circle cx="336.31" cy="201.15" r="1.9"/><circle cx="337.33" cy="201.22" r="1.9"/><circle cx="338.34" cy="200.84" r="1.9"/><circle cx="339.35" cy="200.41" r="1.9"/><circle cx="340.37" cy="201.51" r="1.9"/><circle cx="341.38" cy="201.41" r="1.9"/><circle cx="342.39" cy="200.84" r="1.9"/><circle cx="343.41" cy="200.93" r="1.9"/><circle cx="344.42" cy="200.72" r="1.9"/><circle cx="345.43" cy="201.38" r="1.9"/><circle cx="346.45" cy="200.92" r="1.9"/><circle cx="347.46" cy="201.15" r="1.9"/><circle cx="348.47" cy="201.71" r="1.9"/><circle cx="349.49" cy="200.98" r="1.9"/><circle cx="350.50" cy="201.69" r="1.9"/><circle cx="351.51" cy="200.96" r="1.9"/><circle cx="352.53" cy="201.31" r="1.9"/><circle cx="353.54" cy="201.23" r="1.9"/><circle cx="354.55" cy="200.41" r="1.9"/><circle cx="355.57" cy="200.63" r="1.9"/><circle cx="356.58" cy="201.02" r="1.9"/><circle cx="357.59" cy="201.04" r="1.9"/><circle cx="358.61" cy="201.45" r="1.9"/><circle cx="359.62" cy="200.75" r="1.9"/><circle cx="360.63" cy="200.97" r="1.9"/><circle cx="361.65" cy="201.50" r="1.9"/><circle cx="362.66" cy="201.78" r="1.9"/><circle cx="363.67" cy="201.21" r="1.9"/><circle cx="364.69" cy="201.27" r="1.9"/><circle cx="365.70" cy="200.91" r="1.9"/><circle cx="366.71" cy="201.58" r="1.9"/><circle cx="367.73" cy="201.53" r="1.9"/><circle cx="368.74" cy="201.08" r="1.9"/><circle cx="369.75" cy="201.20" r="1.9"/><circle cx="370.77" cy="200.90" r="1.9"/><circle cx="371.78" cy="200.85" r="1.9"/><circle cx="372.79" cy="201.56" r="1.9"/><circle cx="373.81" cy="202.08" r="1.9"/><circle cx="374.82" cy="201.24" r="1.9"/><circle cx="375.83" cy="201.52" r="1.9"/><circle cx="376.85" cy="201.18" r="1.9"/><circle cx="377.86" cy="202.22" r="1.9"/><circle cx="378.87" cy="201.31" r="1.9"/><circle cx="379.89" cy="201.25" r="1.9"/><circle cx="380.90" cy="201.48" r="1.9"/><circle cx="381.91" cy="201.11" r="1.9"/><circle cx="382.93" cy="201.26" r="1.9"/><circle cx="383.94" cy="201.22" r="1.9"/><circle cx="384.95" cy="200.85" r="1.9"/><circle cx="385.97" cy="200.85" r="1.9"/><circle cx="386.98" cy="200.89" r="1.9"/><circle cx="387.99" cy="201.19" r="1.9"/><circle cx="389.01" cy="201.27" r="1.9"/><circle cx="390.02" cy="201.13" r="1.9"/><circle cx="391.03" cy="201.22" r="1.9"/><circle cx="392.05" cy="201.59" r="1.9"/><circle cx="393.06" cy="201.20" r="1.9"/><circle cx="394.07" cy="201.02" r="1.9"/><circle cx="395.09" cy="201.49" r="1.9"/><circle cx="396.10" cy="201.74" r="1.9"/><circle cx="397.11" cy="201.16" r="1.9"/><circle cx="398.13" cy="201.63" r="1.9"/><circle cx="399.14" cy="201.89" r="1.9"/><circle cx="400.15" cy="201.46" r="1.9"/><circle cx="401.17" cy="201.89" r="1.9"/><circle cx="402.18" cy="201.27" r="1.9"/><circle cx="403.19" cy="201.57" r="1.9"/><circle cx="404.21" cy="201.36" r="1.9"/><circle cx="405.22" cy="201.00" r="1.9"/><circle cx="406.23" cy="201.01" r="1.9"/><circle cx="407.25" cy="201.49" r="1.9"/><circle cx="408.26" cy="202.30" r="1.9"/><circle cx="409.27" cy="201.73" r="1.9"/><circle cx="410.29" cy="202.03" r="1.9"/><circle cx="411.30" cy="201.36" r="1.9"/><circle cx="412.31" cy="201.18" r="1.9"/><circle cx="413.33" cy="201.54" r="1.9"/><circle cx="414.34" cy="201.61" r="1.9"/><circle cx="415.35" cy="201.70" r="1.9"/><circle cx="416.37" cy="201.71" r="1.9"/><circle cx="417.38" cy="202.18" r="1.9"/><circle cx="418.39" cy="201.85" r="1.9"/><circle cx="419.41" cy="202.38" r="1.9"/><circle cx="420.42" cy="202.79" r="1.9"/><circle cx="421.43" cy="202.47" r="1.9"/><circle cx="422.45" cy="202.04" r="1.9"/><circle cx="423.46" cy="202.78" r="1.9"/><circle cx="424.47" cy="203.44" r="1.9"/><circle cx="425.49" cy="202.49" r="1.9"/><circle cx="426.50" cy="202.95" r="1.9"/><circle cx="275.51" cy="218.86" r="1.9"/><circle cx="276.53" cy="206.10" r="1.9"/><circle cx="335.30" cy="199.45" r="1.9"/></g>
<g fill="#f8ccd0" stroke="#ec8f97" stroke-width="0.7" clip-path="url(#cd)"><circle cx="275.51" cy="228.75" r="2.0"/><circle cx="276.53" cy="229.82" r="2.0"/><circle cx="277.54" cy="231.07" r="2.0"/><circle cx="278.55" cy="230.64" r="2.0"/><circle cx="279.57" cy="231.74" r="2.0"/><circle cx="280.58" cy="231.58" r="2.0"/><circle cx="281.59" cy="231.58" r="2.0"/><circle cx="282.61" cy="231.87" r="2.0"/><circle cx="283.62" cy="232.11" r="2.0"/><circle cx="284.63" cy="232.74" r="2.0"/><circle cx="285.65" cy="232.22" r="2.0"/><circle cx="286.66" cy="233.04" r="2.0"/><circle cx="287.67" cy="233.07" r="2.0"/><circle cx="288.69" cy="233.24" r="2.0"/><circle cx="289.70" cy="233.43" r="2.0"/><circle cx="290.71" cy="233.74" r="2.0"/><circle cx="291.73" cy="233.42" r="2.0"/><circle cx="292.74" cy="233.97" r="2.0"/><circle cx="293.75" cy="233.93" r="2.0"/><circle cx="294.77" cy="234.75" r="2.0"/><circle cx="295.78" cy="234.40" r="2.0"/><circle cx="296.79" cy="234.79" r="2.0"/><circle cx="297.81" cy="234.82" r="2.0"/><circle cx="298.82" cy="235.05" r="2.0"/><circle cx="299.83" cy="235.18" r="2.0"/><circle cx="300.85" cy="235.43" r="2.0"/><circle cx="301.86" cy="235.50" r="2.0"/><circle cx="302.87" cy="235.60" r="2.0"/><circle cx="303.89" cy="235.68" r="2.0"/><circle cx="304.90" cy="235.84" r="2.0"/><circle cx="305.91" cy="236.06" r="2.0"/><circle cx="306.93" cy="235.97" r="2.0"/><circle cx="307.94" cy="236.40" r="2.0"/><circle cx="308.95" cy="235.79" r="2.0"/><circle cx="309.97" cy="236.20" r="2.0"/><circle cx="310.98" cy="236.15" r="2.0"/><circle cx="311.99" cy="236.67" r="2.0"/><circle cx="313.01" cy="237.07" r="2.0"/><circle cx="314.02" cy="237.23" r="2.0"/><circle cx="315.03" cy="237.17" r="2.0"/><circle cx="316.05" cy="237.24" r="2.0"/><circle cx="317.06" cy="237.29" r="2.0"/><circle cx="318.07" cy="237.40" r="2.0"/><circle cx="319.09" cy="237.27" r="2.0"/><circle cx="320.10" cy="238.12" r="2.0"/><circle cx="321.11" cy="237.24" r="2.0"/><circle cx="322.13" cy="237.85" r="2.0"/><circle cx="323.14" cy="237.84" r="2.0"/><circle cx="324.15" cy="238.42" r="2.0"/><circle cx="325.17" cy="238.04" r="2.0"/><circle cx="326.18" cy="238.55" r="2.0"/><circle cx="327.19" cy="238.17" r="2.0"/><circle cx="328.21" cy="238.32" r="2.0"/><circle cx="329.22" cy="238.44" r="2.0"/><circle cx="330.23" cy="238.62" r="2.0"/><circle cx="331.25" cy="238.74" r="2.0"/><circle cx="332.26" cy="238.85" r="2.0"/><circle cx="333.27" cy="238.64" r="2.0"/><circle cx="334.29" cy="238.94" r="2.0"/><circle cx="335.30" cy="239.00" r="2.0"/><circle cx="336.31" cy="238.57" r="2.0"/><circle cx="337.33" cy="239.23" r="2.0"/><circle cx="338.34" cy="239.57" r="2.0"/><circle cx="339.35" cy="239.99" r="2.0"/><circle cx="340.37" cy="240.14" r="2.0"/><circle cx="341.38" cy="239.60" r="2.0"/><circle cx="342.39" cy="239.52" r="2.0"/><circle cx="343.41" cy="240.08" r="2.0"/><circle cx="344.42" cy="240.21" r="2.0"/><circle cx="345.43" cy="240.07" r="2.0"/><circle cx="346.45" cy="240.08" r="2.0"/><circle cx="347.46" cy="239.98" r="2.0"/><circle cx="348.47" cy="240.33" r="2.0"/><circle cx="349.49" cy="240.56" r="2.0"/><circle cx="350.50" cy="240.33" r="2.0"/><circle cx="351.51" cy="240.81" r="2.0"/><circle cx="352.53" cy="241.01" r="2.0"/><circle cx="353.54" cy="241.01" r="2.0"/><circle cx="354.55" cy="240.90" r="2.0"/><circle cx="355.57" cy="241.00" r="2.0"/><circle cx="356.58" cy="240.98" r="2.0"/><circle cx="357.59" cy="241.05" r="2.0"/><circle cx="358.61" cy="240.56" r="2.0"/><circle cx="359.62" cy="241.12" r="2.0"/><circle cx="360.63" cy="241.83" r="2.0"/><circle cx="361.65" cy="241.73" r="2.0"/><circle cx="362.66" cy="241.42" r="2.0"/><circle cx="363.67" cy="241.75" r="2.0"/><circle cx="364.69" cy="241.09" r="2.0"/><circle cx="365.70" cy="241.81" r="2.0"/><circle cx="366.71" cy="241.88" r="2.0"/><circle cx="367.73" cy="241.83" r="2.0"/><circle cx="368.74" cy="242.00" r="2.0"/><circle cx="369.75" cy="241.89" r="2.0"/><circle cx="370.77" cy="242.17" r="2.0"/><circle cx="371.78" cy="242.11" r="2.0"/><circle cx="372.79" cy="242.41" r="2.0"/><circle cx="373.81" cy="242.99" r="2.0"/><circle cx="374.82" cy="242.32" r="2.0"/><circle cx="375.83" cy="242.09" r="2.0"/><circle cx="376.85" cy="242.82" r="2.0"/><circle cx="377.86" cy="242.80" r="2.0"/><circle cx="378.87" cy="242.54" r="2.0"/><circle cx="379.89" cy="242.95" r="2.0"/><circle cx="380.90" cy="242.87" r="2.0"/><circle cx="381.91" cy="243.04" r="2.0"/><circle cx="382.93" cy="242.91" r="2.0"/><circle cx="383.94" cy="243.17" r="2.0"/><circle cx="384.95" cy="242.72" r="2.0"/><circle cx="385.97" cy="243.29" r="2.0"/><circle cx="386.98" cy="243.44" r="2.0"/><circle cx="387.99" cy="243.81" r="2.0"/><circle cx="389.01" cy="243.52" r="2.0"/><circle cx="390.02" cy="243.85" r="2.0"/><circle cx="391.03" cy="243.54" r="2.0"/><circle cx="392.05" cy="243.64" r="2.0"/><circle cx="393.06" cy="243.21" r="2.0"/><circle cx="394.07" cy="244.13" r="2.0"/><circle cx="395.09" cy="243.99" r="2.0"/><circle cx="396.10" cy="243.84" r="2.0"/><circle cx="397.11" cy="244.67" r="2.0"/><circle cx="398.13" cy="244.10" r="2.0"/><circle cx="399.14" cy="243.89" r="2.0"/><circle cx="400.15" cy="244.40" r="2.0"/><circle cx="401.17" cy="244.51" r="2.0"/><circle cx="402.18" cy="244.29" r="2.0"/><circle cx="403.19" cy="244.61" r="2.0"/><circle cx="404.21" cy="244.69" r="2.0"/><circle cx="405.22" cy="244.64" r="2.0"/><circle cx="406.23" cy="245.13" r="2.0"/><circle cx="407.25" cy="244.56" r="2.0"/><circle cx="408.26" cy="245.20" r="2.0"/><circle cx="409.27" cy="245.20" r="2.0"/><circle cx="410.29" cy="245.39" r="2.0"/><circle cx="411.30" cy="246.01" r="2.0"/><circle cx="412.31" cy="245.87" r="2.0"/><circle cx="413.33" cy="245.64" r="2.0"/><circle cx="414.34" cy="245.65" r="2.0"/><circle cx="415.35" cy="245.45" r="2.0"/><circle cx="416.37" cy="245.17" r="2.0"/><circle cx="417.38" cy="245.73" r="2.0"/><circle cx="418.39" cy="246.02" r="2.0"/><circle cx="419.41" cy="246.24" r="2.0"/><circle cx="420.42" cy="245.83" r="2.0"/><circle cx="421.43" cy="246.41" r="2.0"/><circle cx="422.45" cy="246.36" r="2.0"/><circle cx="423.46" cy="246.10" r="2.0"/><circle cx="424.47" cy="246.56" r="2.0"/><circle cx="425.49" cy="246.65" r="2.0"/><circle cx="426.50" cy="246.66" r="2.0"/><circle cx="299.83" cy="237.30" r="2.0"/><circle cx="335.30" cy="241.30" r="2.0"/></g>
<path d="M291.70,238.20L291.70,247.60L277.00,247.60" fill="none" stroke="#3a3a3a" stroke-width="0.9"/>
<path d="M277.00,247.60l4,-1.3v2.6z" fill="#3a3a3a"/>
<path d="M411.80,209.30L411.80,217.20L424.10,217.20" fill="none" stroke="#3a3a3a" stroke-width="0.9"/>
<path d="M424.10,217.20l-4,-1.3v2.6z" fill="#3a3a3a"/>
<g fill="url(#pg)" stroke="#e8848d" stroke-width="0.4"><circle cx="371.40" cy="279.20" r="1.8"/></g>
<text x="382.60" y="282.30" font-size="8.3" >PVM-GPE</text>
<text x="384.00" y="294.60" font-size="8.3" >2.8-4.5 V</text>
<text x="295.60" y="306.30" font-size="8.2" >Li||NCM811, 0.5 C=94 mA g<tspan dy="-3" font-size="5.8">-1</tspan><tspan dy="3"> ,25°C</tspan></text>
<clipPath id="ce"><rect x="506.5" y="190.5" width="149.0" height="120.0"/></clipPath>
<g fill="#fff" stroke="#f0a2a8" stroke-width="0.6" clip-path="url(#ce)"><circle cx="509.48" cy="202.02" r="1.9"/><circle cx="510.23" cy="201.68" r="1.9"/><circle cx="510.97" cy="201.48" r="1.9"/><circle cx="511.71" cy="201.22" r="1.9"/><circle cx="512.46" cy="202.29" r="1.9"/><circle cx="513.21" cy="202.08" r="1.9"/><circle cx="513.95" cy="202.15" r="1.9"/><circle cx="514.70" cy="201.95" r="1.9"/><circle cx="515.44" cy="201.89" r="1.9"/><circle cx="516.18" cy="202.27" r="1.9"/><circle cx="516.93" cy="201.75" r="1.9"/><circle cx="517.67" cy="202.32" r="1.9"/><circle cx="518.42" cy="201.66" r="1.9"/><circle cx="519.16" cy="202.14" r="1.9"/><circle cx="519.91" cy="201.74" r="1.9"/><circle cx="520.65" cy="201.69" r="1.9"/><circle cx="521.40" cy="201.88" r="1.9"/><circle cx="522.14" cy="202.04" r="1.9"/><circle cx="522.89" cy="202.10" r="1.9"/><circle cx="523.63" cy="202.22" r="1.9"/><circle cx="524.38" cy="201.31" r="1.9"/><circle cx="525.12" cy="201.64" r="1.9"/><circle cx="525.87" cy="201.20" r="1.9"/><circle cx="526.62" cy="201.71" r="1.9"/><circle cx="527.36" cy="201.72" r="1.9"/><circle cx="528.11" cy="202.04" r="1.9"/><circle cx="528.85" cy="201.92" r="1.9"/><circle cx="529.60" cy="202.37" r="1.9"/><circle cx="530.34" cy="201.50" r="1.9"/><circle cx="531.09" cy="201.50" r="1.9"/><circle cx="531.83" cy="201.33" r="1.9"/><circle cx="532.58" cy="201.34" r="1.9"/><circle cx="533.32" cy="202.19" r="1.9"/><circle cx="534.07" cy="202.69" r="1.9"/><circle cx="534.81" cy="201.58" r="1.9"/><circle cx="535.55" cy="201.75" r="1.9"/><circle cx="536.30" cy="202.17" r="1.9"/><circle cx="537.04" cy="202.15" r="1.9"/><circle cx="537.79" cy="201.56" r="1.9"/><circle cx="538.53" cy="201.22" r="1.9"/><circle cx="539.28" cy="201.69" r="1.9"/><circle cx="540.02" cy="202.07" r="1.9"/><circle cx="540.77" cy="201.55" r="1.9"/><circle cx="541.51" cy="201.46" r="1.9"/><circle cx="542.26" cy="202.25" r="1.9"/><circle cx="543.00" cy="201.58" r="1.9"/><circle cx="543.75" cy="202.17" r="1.9"/><circle cx="544.50" cy="201.83" r="1.9"/><circle cx="545.24" cy="201.67" r="1.9"/><circle cx="545.99" cy="201.82" r="1.9"/><circle cx="546.73" cy="202.36" r="1.9"/><circle cx="547.48" cy="201.71" r="1.9"/><circle cx="548.22" cy="202.33" r="1.9"/><circle cx="548.97" cy="201.60" r="1.9"/><circle cx="549.71" cy="202.50" r="1.9"/><circle cx="550.46" cy="202.01" r="1.9"/><circle cx="551.20" cy="202.01" r="1.9"/><circle cx="551.95" cy="202.08" r="1.9"/><circle cx="552.69" cy="201.77" r="1.9"/><circle cx="553.43" cy="201.75" r="1.9"/><circle cx="554.18" cy="201.21" r="1.9"/><circle cx="554.92" cy="201.68" r="1.9"/><circle cx="555.67" cy="201.46" r="1.9"/><circle cx="556.41" cy="202.23" r="1.9"/><circle cx="557.16" cy="201.47" r="1.9"/><circle cx="557.90" cy="201.54" r="1.9"/><circle cx="558.65" cy="201.37" r="1.9"/><circle cx="559.39" cy="201.35" r="1.9"/><circle cx="560.14" cy="202.15" r="1.9"/><circle cx="560.88" cy="202.30" r="1.9"/><circle cx="561.63" cy="202.11" r="1.9"/><circle cx="562.38" cy="202.06" r="1.9"/><circle cx="563.12" cy="201.36" r="1.9"/><circle cx="563.87" cy="202.53" r="1.9"/><circle cx="564.61" cy="201.83" r="1.9"/><circle cx="565.36" cy="201.49" r="1.9"/><circle cx="566.10" cy="201.90" r="1.9"/><circle cx="566.85" cy="202.34" r="1.9"/><circle cx="567.59" cy="202.15" r="1.9"/><circle cx="568.34" cy="201.65" r="1.9"/><circle cx="569.08" cy="201.59" r="1.9"/><circle cx="569.83" cy="201.90" r="1.9"/><circle cx="570.57" cy="201.73" r="1.9"/><circle cx="571.32" cy="201.36" r="1.9"/><circle cx="572.06" cy="201.96" r="1.9"/><circle cx="572.81" cy="201.16" r="1.9"/><circle cx="573.55" cy="202.19" r="1.9"/><circle cx="574.29" cy="201.18" r="1.9"/><circle cx="575.04" cy="202.34" r="1.9"/><circle cx="575.78" cy="201.38" r="1.9"/><circle cx="576.53" cy="201.84" r="1.9"/><circle cx="577.27" cy="202.38" r="1.9"/><circle cx="578.02" cy="201.80" r="1.9"/><circle cx="578.76" cy="201.65" r="1.9"/><circle cx="579.51" cy="201.64" r="1.9"/><circle cx="580.25" cy="201.81" r="1.9"/><circle cx="581.00" cy="201.91" r="1.9"/><circle cx="581.75" cy="201.95" r="1.9"/><circle cx="582.49" cy="201.81" r="1.9"/><circle cx="583.24" cy="201.42" r="1.9"/><circle cx="583.98" cy="201.68" r="1.9"/><circle cx="584.73" cy="201.60" r="1.9"/><circle cx="585.47" cy="201.78" r="1.9"/><circle cx="586.22" cy="201.36" r="1.9"/><circle cx="586.96" cy="201.01" r="1.9"/><circle cx="587.71" cy="201.08" r="1.9"/><circle cx="588.45" cy="202.27" r="1.9"/><circle cx="589.20" cy="202.15" r="1.9"/><circle cx="589.94" cy="202.21" r="1.9"/><circle cx="590.68" cy="201.97" r="1.9"/><circle cx="591.43" cy="201.16" r="1.9"/><circle cx="592.17" cy="201.97" r="1.9"/><circle cx="592.92" cy="201.81" r="1.9"/><circle cx="593.66" cy="201.92" r="1.9"/><circle cx="594.41" cy="202.51" r="1.9"/><circle cx="595.15" cy="202.26" r="1.9"/><circle cx="595.90" cy="202.10" r="1.9"/><circle cx="596.64" cy="202.15" r="1.9"/><circle cx="597.39" cy="201.97" r="1.9"/><circle cx="598.13" cy="202.01" r="1.9"/><circle cx="598.88" cy="201.93" r="1.9"/><circle cx="599.62" cy="202.41" r="1.9"/><circle cx="600.37" cy="201.49" r="1.9"/><circle cx="601.12" cy="201.68" r="1.9"/><circle cx="601.86" cy="202.10" r="1.9"/><circle cx="602.61" cy="202.02" r="1.9"/><circle cx="603.35" cy="202.15" r="1.9"/><circle cx="604.10" cy="202.52" r="1.9"/><circle cx="604.84" cy="201.61" r="1.9"/><circle cx="605.59" cy="202.00" r="1.9"/><circle cx="606.33" cy="201.47" r="1.9"/><circle cx="607.08" cy="201.32" r="1.9"/><circle cx="607.82" cy="202.31" r="1.9"/><circle cx="608.57" cy="202.24" r="1.9"/><circle cx="609.31" cy="201.67" r="1.9"/><circle cx="610.05" cy="202.04" r="1.9"/><circle cx="610.80" cy="202.08" r="1.9"/><circle cx="611.54" cy="201.99" r="1.9"/><circle cx="612.29" cy="201.70" r="1.9"/><circle cx="613.03" cy="202.33" r="1.9"/><circle cx="613.78" cy="201.82" r="1.9"/><circle cx="614.52" cy="201.46" r="1.9"/><circle cx="615.27" cy="202.04" r="1.9"/><circle cx="616.01" cy="201.98" r="1.9"/><circle cx="616.76" cy="201.69" r="1.9"/><circle cx="617.50" cy="201.51" r="1.9"/><circle cx="618.25" cy="201.50" r="1.9"/><circle cx="619.00" cy="201.68" r="1.9"/><circle cx="619.74" cy="201.28" r="1.9"/><circle cx="620.49" cy="202.07" r="1.9"/><circle cx="621.23" cy="201.27" r="1.9"/><circle cx="621.98" cy="201.64" r="1.9"/><circle cx="622.72" cy="201.95" r="1.9"/><circle cx="623.47" cy="202.35" r="1.9"/><circle cx="624.21" cy="201.30" r="1.9"/><circle cx="624.96" cy="201.75" r="1.9"/><circle cx="625.70" cy="201.65" r="1.9"/><circle cx="626.45" cy="201.29" r="1.9"/><circle cx="627.19" cy="201.98" r="1.9"/><circle cx="627.93" cy="201.56" r="1.9"/><circle cx="628.68" cy="201.54" r="1.9"/><circle cx="629.42" cy="201.26" r="1.9"/><circle cx="630.17" cy="201.73" r="1.9"/><circle cx="630.91" cy="201.19" r="1.9"/><circle cx="631.66" cy="202.03" r="1.9"/><circle cx="632.40" cy="201.86" r="1.9"/><circle cx="633.15" cy="202.07" r="1.9"/><circle cx="633.89" cy="202.18" r="1.9"/><circle cx="634.64" cy="201.24" r="1.9"/><circle cx="635.38" cy="201.74" r="1.9"/><circle cx="636.13" cy="201.85" r="1.9"/><circle cx="636.88" cy="201.77" r="1.9"/><circle cx="637.62" cy="201.79" r="1.9"/><circle cx="638.37" cy="202.37" r="1.9"/><circle cx="639.11" cy="202.00" r="1.9"/><circle cx="639.86" cy="201.71" r="1.9"/><circle cx="640.60" cy="202.27" r="1.9"/><circle cx="641.35" cy="201.92" r="1.9"/><circle cx="642.09" cy="201.99" r="1.9"/><circle cx="642.84" cy="202.20" r="1.9"/><circle cx="643.58" cy="202.32" r="1.9"/><circle cx="644.33" cy="202.06" r="1.9"/><circle cx="645.07" cy="201.77" r="1.9"/><circle cx="645.82" cy="201.65" r="1.9"/><circle cx="646.56" cy="202.39" r="1.9"/><circle cx="647.31" cy="201.79" r="1.9"/><circle cx="648.05" cy="201.64" r="1.9"/><circle cx="648.79" cy="202.45" r="1.9"/><circle cx="649.54" cy="202.33" r="1.9"/><circle cx="650.28" cy="201.65" r="1.9"/><circle cx="651.03" cy="201.59" r="1.9"/><circle cx="651.77" cy="201.64" r="1.9"/><circle cx="652.52" cy="201.28" r="1.9"/><circle cx="653.26" cy="201.59" r="1.9"/><circle cx="654.01" cy="201.36" r="1.9"/><circle cx="654.75" cy="201.85" r="1.9"/><circle cx="655.50" cy="201.84" r="1.9"/><circle cx="507.99" cy="209.26" r="1.9"/><circle cx="508.74" cy="213.63" r="1.9"/><circle cx="613.03" cy="204.14" r="1.9"/><circle cx="636.88" cy="196.17" r="1.9"/></g>
<g fill="#f0a0a6" stroke="#e8878f" stroke-width="0.5" clip-path="url(#ce)"><circle cx="507.99" cy="228.22" r="2.4"/></g>
<g fill="#f2a9ae" stroke="#ea959c" stroke-width="0.5" clip-path="url(#ce)"><circle cx="508.74" cy="237.35" r="2.4"/><circle cx="509.48" cy="237.48" r="2.4"/><circle cx="510.23" cy="237.58" r="2.4"/><circle cx="510.97" cy="237.40" r="2.4"/><circle cx="511.71" cy="237.82" r="2.4"/><circle cx="512.46" cy="238.43" r="2.4"/><circle cx="513.21" cy="237.89" r="2.4"/><circle cx="513.95" cy="238.22" r="2.4"/><circle cx="514.70" cy="238.32" r="2.4"/><circle cx="515.44" cy="238.32" r="2.4"/><circle cx="516.18" cy="238.39" r="2.4"/><circle cx="516.93" cy="238.18" r="2.4"/><circle cx="517.67" cy="238.48" r="2.4"/><circle cx="518.42" cy="238.79" r="2.4"/><circle cx="519.16" cy="239.21" r="2.4"/><circle cx="519.91" cy="239.43" r="2.4"/><circle cx="520.65" cy="239.09" r="2.4"/><circle cx="521.40" cy="238.83" r="2.4"/><circle cx="522.14" cy="239.38" r="2.4"/><circle cx="522.89" cy="239.52" r="2.4"/><circle cx="523.63" cy="239.39" r="2.4"/><circle cx="524.38" cy="240.20" r="2.4"/><circle cx="525.12" cy="239.88" r="2.4"/><circle cx="525.87" cy="239.68" r="2.4"/><circle cx="526.62" cy="239.64" r="2.4"/><circle cx="527.36" cy="240.13" r="2.4"/><circle cx="528.11" cy="240.00" r="2.4"/><circle cx="528.85" cy="240.14" r="2.4"/><circle cx="529.60" cy="240.05" r="2.4"/><circle cx="530.34" cy="240.82" r="2.4"/><circle cx="531.09" cy="240.31" r="2.4"/><circle cx="531.83" cy="241.15" r="2.4"/><circle cx="532.58" cy="241.64" r="2.4"/><circle cx="533.32" cy="241.01" r="2.4"/><circle cx="534.07" cy="241.22" r="2.4"/><circle cx="534.81" cy="240.66" r="2.4"/><circle cx="535.55" cy="240.83" r="2.4"/><circle cx="536.30" cy="241.61" r="2.4"/><circle cx="537.04" cy="240.95" r="2.4"/><circle cx="537.79" cy="241.71" r="2.4"/><circle cx="538.53" cy="241.48" r="2.4"/><circle cx="539.28" cy="241.65" r="2.4"/><circle cx="540.02" cy="241.59" r="2.4"/><circle cx="540.77" cy="241.43" r="2.4"/><circle cx="541.51" cy="241.59" r="2.4"/><circle cx="542.26" cy="241.79" r="2.4"/><circle cx="543.00" cy="241.77" r="2.4"/><circle cx="543.75" cy="241.93" r="2.4"/><circle cx="544.50" cy="242.42" r="2.4"/><circle cx="545.24" cy="242.54" r="2.4"/><circle cx="545.99" cy="242.55" r="2.4"/><circle cx="546.73" cy="242.29" r="2.4"/><circle cx="547.48" cy="242.65" r="2.4"/><circle cx="548.22" cy="241.81" r="2.4"/><circle cx="548.97" cy="243.04" r="2.4"/><circle cx="549.71" cy="243.23" r="2.4"/><circle cx="550.46" cy="242.65" r="2.4"/><circle cx="551.20" cy="242.51" r="2.4"/><circle cx="551.95" cy="242.93" r="2.4"/><circle cx="552.69" cy="242.90" r="2.4"/><circle cx="553.43" cy="242.78" r="2.4"/><circle cx="554.18" cy="243.42" r="2.4"/><circle cx="554.92" cy="243.99" r="2.4"/><circle cx="555.67" cy="243.76" r="2.4"/><circle cx="556.41" cy="243.32" r="2.4"/><circle cx="557.16" cy="244.28" r="2.4"/><circle cx="557.90" cy="243.84" r="2.4"/><circle cx="558.65" cy="243.85" r="2.4"/><circle cx="559.39" cy="244.15" r="2.4"/><circle cx="560.14" cy="243.86" r="2.4"/><circle cx="560.88" cy="244.01" r="2.4"/><circle cx="561.63" cy="243.47" r="2.4"/><circle cx="562.38" cy="244.18" r="2.4"/><circle cx="563.12" cy="244.71" r="2.4"/><circle cx="563.87" cy="244.79" r="2.4"/><circle cx="564.61" cy="244.98" r="2.4"/><circle cx="565.36" cy="244.43" r="2.4"/><circle cx="566.10" cy="245.06" r="2.4"/><circle cx="566.85" cy="244.98" r="2.4"/><circle cx="567.59" cy="244.77" r="2.4"/><circle cx="568.34" cy="245.40" r="2.4"/><circle cx="569.08" cy="245.33" r="2.4"/><circle cx="569.83" cy="245.98" r="2.4"/><circle cx="570.57" cy="245.80" r="2.4"/><circle cx="571.32" cy="245.71" r="2.4"/><circle cx="572.06" cy="245.45" r="2.4"/><circle cx="572.81" cy="245.26" r="2.4"/><circle cx="573.55" cy="245.79" r="2.4"/><circle cx="574.29" cy="245.78" r="2.4"/><circle cx="575.04" cy="245.90" r="2.4"/><circle cx="575.78" cy="245.67" r="2.4"/><circle cx="576.53" cy="245.83" r="2.4"/><circle cx="577.27" cy="246.14" r="2.4"/><circle cx="578.02" cy="246.70" r="2.4"/><circle cx="578.76" cy="246.10" r="2.4"/><circle cx="579.51" cy="246.38" r="2.4"/><circle cx="580.25" cy="246.17" r="2.4"/><circle cx="581.00" cy="246.71" r="2.4"/><circle cx="581.75" cy="246.05" r="2.4"/><circle cx="582.49" cy="246.93" r="2.4"/><circle cx="583.24" cy="246.27" r="2.4"/><circle cx="583.98" cy="246.85" r="2.4"/><circle cx="584.73" cy="247.13" r="2.4"/><circle cx="585.47" cy="247.40" r="2.4"/><circle cx="586.22" cy="247.10" r="2.4"/><circle cx="586.96" cy="246.58" r="2.4"/><circle cx="587.71" cy="246.85" r="2.4"/><circle cx="588.45" cy="246.94" r="2.4"/><circle cx="589.20" cy="248.09" r="2.4"/><circle cx="589.94" cy="247.03" r="2.4"/><circle cx="590.68" cy="247.13" r="2.4"/><circle cx="591.43" cy="247.58" r="2.4"/><circle cx="592.17" cy="247.66" r="2.4"/><circle cx="592.92" cy="247.48" r="2.4"/><circle cx="593.66" cy="246.91" r="2.4"/><circle cx="594.41" cy="247.96" r="2.4"/><circle cx="595.15" cy="247.78" r="2.4"/><circle cx="595.90" cy="247.19" r="2.4"/><circle cx="596.64" cy="247.89" r="2.4"/><circle cx="597.39" cy="247.90" r="2.4"/><circle cx="598.13" cy="247.79" r="2.4"/><circle cx="598.88" cy="248.32" r="2.4"/><circle cx="599.62" cy="247.84" r="2.4"/><circle cx="600.37" cy="248.40" r="2.4"/><circle cx="601.12" cy="247.70" r="2.4"/><circle cx="601.86" cy="248.06" r="2.4"/><circle cx="602.61" cy="247.29" r="2.4"/><circle cx="603.35" cy="248.06" r="2.4"/><circle cx="604.10" cy="247.72" r="2.4"/><circle cx="604.84" cy="248.73" r="2.4"/><circle cx="605.59" cy="248.35" r="2.4"/><circle cx="606.33" cy="248.24" r="2.4"/><circle cx="607.08" cy="247.78" r="2.4"/><circle cx="607.82" cy="249.06" r="2.4"/><circle cx="608.57" cy="248.15" r="2.4"/><circle cx="609.31" cy="248.34" r="2.4"/><circle cx="610.05" cy="248.05" r="2.4"/><circle cx="610.80" cy="248.39" r="2.4"/><circle cx="611.54" cy="248.68" r="2.4"/><circle cx="612.29" cy="248.94" r="2.4"/><circle cx="613.03" cy="249.25" r="2.4"/><circle cx="613.78" cy="248.77" r="2.4"/><circle cx="614.52" cy="248.96" r="2.4"/><circle cx="615.27" cy="248.21" r="2.4"/><circle cx="616.01" cy="249.21" r="2.4"/><circle cx="616.76" cy="248.92" r="2.4"/><circle cx="617.50" cy="249.65" r="2.4"/><circle cx="618.25" cy="249.28" r="2.4"/><circle cx="619.00" cy="249.09" r="2.4"/><circle cx="619.74" cy="248.93" r="2.4"/><circle cx="620.49" cy="248.76" r="2.4"/><circle cx="621.23" cy="249.34" r="2.4"/><circle cx="621.98" cy="249.78" r="2.4"/><circle cx="622.72" cy="249.26" r="2.4"/><circle cx="623.47" cy="249.29" r="2.4"/><circle cx="624.21" cy="249.34" r="2.4"/><circle cx="624.96" cy="249.82" r="2.4"/><circle cx="625.70" cy="249.21" r="2.4"/><circle cx="626.45" cy="249.63" r="2.4"/><circle cx="627.19" cy="249.46" r="2.4"/><circle cx="627.93" cy="249.30" r="2.4"/><circle cx="628.68" cy="249.59" r="2.4"/><circle cx="629.42" cy="249.76" r="2.4"/><circle cx="630.17" cy="249.13" r="2.4"/><circle cx="630.91" cy="249.87" r="2.4"/><circle cx="631.66" cy="250.11" r="2.4"/><circle cx="632.40" cy="250.01" r="2.4"/><circle cx="633.15" cy="249.57" r="2.4"/><circle cx="633.89" cy="250.29" r="2.4"/><circle cx="634.64" cy="250.38" r="2.4"/><circle cx="635.38" cy="250.37" r="2.4"/><circle cx="636.13" cy="251.22" r="2.4"/><circle cx="636.88" cy="251.89" r="2.4"/><circle cx="637.62" cy="251.39" r="2.4"/><circle cx="638.37" cy="251.44" r="2.4"/><circle cx="639.11" cy="251.77" r="2.4"/><circle cx="639.86" cy="251.26" r="2.4"/><circle cx="640.60" cy="251.38" r="2.4"/><circle cx="641.35" cy="251.98" r="2.4"/><circle cx="642.09" cy="251.46" r="2.4"/><circle cx="642.84" cy="251.75" r="2.4"/><circle cx="643.58" cy="252.23" r="2.4"/><circle cx="644.33" cy="251.56" r="2.4"/><circle cx="645.07" cy="251.77" r="2.4"/><circle cx="645.82" cy="252.04" r="2.4"/><circle cx="646.56" cy="251.61" r="2.4"/><circle cx="647.31" cy="251.65" r="2.4"/><circle cx="648.05" cy="252.06" r="2.4"/><circle cx="648.79" cy="251.73" r="2.4"/><circle cx="649.54" cy="251.53" r="2.4"/><circle cx="650.28" cy="252.18" r="2.4"/><circle cx="651.03" cy="251.81" r="2.4"/><circle cx="651.77" cy="251.97" r="2.4"/><circle cx="652.52" cy="251.18" r="2.4"/><circle cx="653.26" cy="252.70" r="2.4"/><circle cx="654.01" cy="251.80" r="2.4"/><circle cx="654.75" cy="252.19" r="2.4"/><circle cx="655.50" cy="252.14" r="2.4"/><circle cx="636.13" cy="253.50" r="2.4"/></g>
<path d="M522.60,241.60L522.60,248.30L509.00,248.30" fill="none" stroke="#3a3a3a" stroke-width="0.9"/>
<path d="M509.00,248.30l4,-1.3v2.6z" fill="#3a3a3a"/>
<path d="M632.50,206.10L632.50,214.00L652.90,214.00" fill="none" stroke="#3a3a3a" stroke-width="0.9"/>
<path d="M652.90,214.00l-4,-1.3v2.6z" fill="#3a3a3a"/>
<g fill="url(#pg)" stroke="#e8848d" stroke-width="0.4"><circle cx="600.20" cy="290.10" r="2.4"/></g>
<text x="611.20" y="293.00" font-size="8.6" >PVM-GPE</text>
<text x="526.00" y="306.00" font-size="8.37" >Li||NCM90, 0.5 C=94 mA g<tspan dy="-3" font-size="5.8">-1</tspan><tspan dy="3"> , 25°C</tspan></text>
<clipPath id="cf"><rect x="45.5" y="356.5" width="152.0" height="122.0"/></clipPath>
<g fill="#fff" stroke="#f0a2a8" stroke-width="0.6" clip-path="url(#cf)"><circle cx="46.51" cy="370.89" r="1.9"/><circle cx="47.53" cy="370.05" r="1.9"/><circle cx="48.54" cy="370.09" r="1.9"/><circle cx="49.55" cy="369.60" r="1.9"/><circle cx="50.57" cy="370.47" r="1.9"/><circle cx="51.58" cy="369.64" r="1.9"/><circle cx="52.59" cy="369.79" r="1.9"/><circle cx="53.61" cy="370.60" r="1.9"/><circle cx="54.62" cy="369.16" r="1.9"/><circle cx="55.63" cy="370.35" r="1.9"/><circle cx="56.65" cy="370.94" r="1.9"/><circle cx="57.66" cy="370.23" r="1.9"/><circle cx="58.67" cy="370.41" r="1.9"/><circle cx="59.69" cy="370.10" r="1.9"/><circle cx="60.70" cy="369.02" r="1.9"/><circle cx="61.71" cy="369.62" r="1.9"/><circle cx="62.73" cy="368.22" r="1.9"/><circle cx="63.74" cy="369.56" r="1.9"/><circle cx="64.75" cy="368.84" r="1.9"/><circle cx="65.77" cy="369.16" r="1.9"/><circle cx="66.78" cy="370.41" r="1.9"/><circle cx="67.79" cy="368.97" r="1.9"/><circle cx="68.81" cy="368.68" r="1.9"/><circle cx="69.82" cy="368.21" r="1.9"/><circle cx="70.83" cy="369.76" r="1.9"/><circle cx="71.85" cy="368.06" r="1.9"/><circle cx="72.86" cy="367.86" r="1.9"/><circle cx="73.87" cy="369.31" r="1.9"/><circle cx="74.89" cy="368.36" r="1.9"/><circle cx="75.90" cy="367.65" r="1.9"/><circle cx="76.91" cy="369.82" r="1.9"/><circle cx="77.93" cy="368.11" r="1.9"/><circle cx="78.94" cy="369.96" r="1.9"/><circle cx="79.95" cy="368.21" r="1.9"/><circle cx="80.97" cy="367.19" r="1.9"/><circle cx="81.98" cy="368.47" r="1.9"/><circle cx="82.99" cy="367.75" r="1.9"/><circle cx="84.01" cy="369.35" r="1.9"/><circle cx="85.02" cy="368.55" r="1.9"/><circle cx="86.03" cy="368.37" r="1.9"/><circle cx="87.05" cy="367.41" r="1.9"/><circle cx="88.06" cy="368.21" r="1.9"/><circle cx="89.07" cy="367.44" r="1.9"/><circle cx="90.09" cy="368.08" r="1.9"/><circle cx="91.10" cy="368.54" r="1.9"/><circle cx="92.11" cy="367.93" r="1.9"/><circle cx="93.13" cy="367.84" r="1.9"/><circle cx="94.14" cy="368.24" r="1.9"/><circle cx="95.15" cy="367.47" r="1.9"/><circle cx="96.17" cy="368.64" r="1.9"/><circle cx="97.18" cy="367.89" r="1.9"/><circle cx="98.19" cy="367.60" r="1.9"/><circle cx="99.21" cy="368.49" r="1.9"/><circle cx="100.22" cy="368.07" r="1.9"/><circle cx="101.23" cy="368.09" r="1.9"/><circle cx="102.25" cy="369.14" r="1.9"/><circle cx="103.26" cy="366.93" r="1.9"/><circle cx="104.27" cy="368.32" r="1.9"/><circle cx="105.29" cy="367.67" r="1.9"/><circle cx="106.30" cy="370.39" r="1.9"/><circle cx="107.31" cy="367.31" r="1.9"/><circle cx="108.33" cy="368.58" r="1.9"/><circle cx="109.34" cy="368.97" r="1.9"/><circle cx="110.35" cy="368.39" r="1.9"/><circle cx="111.37" cy="367.60" r="1.9"/><circle cx="112.38" cy="369.59" r="1.9"/><circle cx="113.39" cy="367.58" r="1.9"/><circle cx="114.41" cy="369.31" r="1.9"/><circle cx="115.42" cy="367.51" r="1.9"/><circle cx="116.43" cy="368.08" r="1.9"/><circle cx="117.45" cy="367.45" r="1.9"/><circle cx="118.46" cy="367.74" r="1.9"/><circle cx="119.47" cy="368.95" r="1.9"/><circle cx="120.49" cy="368.62" r="1.9"/><circle cx="121.50" cy="367.91" r="1.9"/><circle cx="122.51" cy="368.58" r="1.9"/><circle cx="123.53" cy="368.33" r="1.9"/><circle cx="124.54" cy="369.09" r="1.9"/><circle cx="125.55" cy="367.79" r="1.9"/><circle cx="126.57" cy="366.42" r="1.9"/><circle cx="127.58" cy="367.52" r="1.9"/><circle cx="128.59" cy="367.98" r="1.9"/><circle cx="129.61" cy="369.10" r="1.9"/><circle cx="130.62" cy="368.43" r="1.9"/><circle cx="131.63" cy="367.39" r="1.9"/><circle cx="132.65" cy="368.33" r="1.9"/><circle cx="133.66" cy="367.81" r="1.9"/><circle cx="134.67" cy="368.60" r="1.9"/><circle cx="135.69" cy="368.61" r="1.9"/><circle cx="136.70" cy="368.19" r="1.9"/><circle cx="137.71" cy="368.69" r="1.9"/><circle cx="138.73" cy="368.78" r="1.9"/><circle cx="139.74" cy="368.17" r="1.9"/><circle cx="140.75" cy="368.56" r="1.9"/><circle cx="141.77" cy="369.89" r="1.9"/><circle cx="142.78" cy="367.88" r="1.9"/><circle cx="143.79" cy="367.28" r="1.9"/><circle cx="144.81" cy="368.18" r="1.9"/><circle cx="145.82" cy="368.73" r="1.9"/><circle cx="146.83" cy="369.22" r="1.9"/><circle cx="147.85" cy="368.99" r="1.9"/><circle cx="148.86" cy="368.54" r="1.9"/><circle cx="149.87" cy="367.74" r="1.9"/><circle cx="150.89" cy="368.41" r="1.9"/><circle cx="151.90" cy="368.56" r="1.9"/><circle cx="152.91" cy="369.23" r="1.9"/><circle cx="153.93" cy="368.39" r="1.9"/><circle cx="154.94" cy="369.04" r="1.9"/><circle cx="155.95" cy="367.15" r="1.9"/><circle cx="156.97" cy="368.18" r="1.9"/><circle cx="157.98" cy="368.52" r="1.9"/><circle cx="158.99" cy="367.17" r="1.9"/><circle cx="160.01" cy="367.17" r="1.9"/><circle cx="161.02" cy="368.41" r="1.9"/><circle cx="162.03" cy="369.40" r="1.9"/><circle cx="163.05" cy="367.58" r="1.9"/><circle cx="164.06" cy="368.77" r="1.9"/><circle cx="165.07" cy="367.95" r="1.9"/><circle cx="166.09" cy="369.21" r="1.9"/><circle cx="167.10" cy="368.76" r="1.9"/><circle cx="168.11" cy="368.68" r="1.9"/><circle cx="169.13" cy="369.13" r="1.9"/><circle cx="170.14" cy="369.28" r="1.9"/><circle cx="171.15" cy="367.77" r="1.9"/><circle cx="172.17" cy="368.78" r="1.9"/><circle cx="173.18" cy="367.56" r="1.9"/><circle cx="174.19" cy="368.02" r="1.9"/><circle cx="175.21" cy="368.37" r="1.9"/><circle cx="176.22" cy="368.07" r="1.9"/><circle cx="177.23" cy="368.73" r="1.9"/><circle cx="178.25" cy="368.58" r="1.9"/><circle cx="179.26" cy="368.28" r="1.9"/><circle cx="180.27" cy="368.35" r="1.9"/><circle cx="181.29" cy="369.00" r="1.9"/><circle cx="182.30" cy="367.90" r="1.9"/><circle cx="183.31" cy="368.26" r="1.9"/><circle cx="184.33" cy="367.41" r="1.9"/><circle cx="185.34" cy="368.90" r="1.9"/><circle cx="186.35" cy="366.78" r="1.9"/><circle cx="187.37" cy="368.40" r="1.9"/><circle cx="188.38" cy="367.75" r="1.9"/><circle cx="189.39" cy="368.11" r="1.9"/><circle cx="190.41" cy="369.58" r="1.9"/><circle cx="191.42" cy="368.70" r="1.9"/><circle cx="192.43" cy="367.67" r="1.9"/><circle cx="193.45" cy="367.50" r="1.9"/><circle cx="194.46" cy="368.63" r="1.9"/><circle cx="195.47" cy="367.39" r="1.9"/><circle cx="196.49" cy="367.68" r="1.9"/><circle cx="197.50" cy="368.87" r="1.9"/><circle cx="190.41" cy="364.26" r="1.9"/><circle cx="193.45" cy="371.47" r="1.9"/></g>
<g fill="#f8ccd0" stroke="#ec8f97" stroke-width="0.7" clip-path="url(#cf)"><circle cx="46.51" cy="411.62" r="2.0"/><circle cx="47.53" cy="412.10" r="2.0"/><circle cx="48.54" cy="412.51" r="2.0"/><circle cx="49.55" cy="413.13" r="2.0"/><circle cx="50.57" cy="413.00" r="2.0"/><circle cx="51.58" cy="413.59" r="2.0"/><circle cx="52.59" cy="413.65" r="2.0"/><circle cx="53.61" cy="414.12" r="2.0"/><circle cx="54.62" cy="414.08" r="2.0"/><circle cx="55.63" cy="414.61" r="2.0"/><circle cx="56.65" cy="414.79" r="2.0"/><circle cx="57.66" cy="414.95" r="2.0"/><circle cx="58.67" cy="415.47" r="2.0"/><circle cx="59.69" cy="415.75" r="2.0"/><circle cx="60.70" cy="416.00" r="2.0"/><circle cx="61.71" cy="416.13" r="2.0"/><circle cx="62.73" cy="416.21" r="2.0"/><circle cx="63.74" cy="416.46" r="2.0"/><circle cx="64.75" cy="416.68" r="2.0"/><circle cx="65.77" cy="416.70" r="2.0"/><circle cx="66.78" cy="417.03" r="2.0"/><circle cx="67.79" cy="417.51" r="2.0"/><circle cx="68.81" cy="417.11" r="2.0"/><circle cx="69.82" cy="418.03" r="2.0"/><circle cx="70.83" cy="417.34" r="2.0"/><circle cx="71.85" cy="418.35" r="2.0"/><circle cx="72.86" cy="418.49" r="2.0"/><circle cx="73.87" cy="418.52" r="2.0"/><circle cx="74.89" cy="418.31" r="2.0"/><circle cx="75.90" cy="418.93" r="2.0"/><circle cx="76.91" cy="418.64" r="2.0"/><circle cx="77.93" cy="418.70" r="2.0"/><circle cx="78.94" cy="419.19" r="2.0"/><circle cx="79.95" cy="419.18" r="2.0"/><circle cx="80.97" cy="419.12" r="2.0"/><circle cx="81.98" cy="419.27" r="2.0"/><circle cx="82.99" cy="419.61" r="2.0"/><circle cx="84.01" cy="420.00" r="2.0"/><circle cx="85.02" cy="419.82" r="2.0"/><circle cx="86.03" cy="420.00" r="2.0"/><circle cx="87.05" cy="419.87" r="2.0"/><circle cx="88.06" cy="420.00" r="2.0"/><circle cx="89.07" cy="420.28" r="2.0"/><circle cx="90.09" cy="420.46" r="2.0"/><circle cx="91.10" cy="420.47" r="2.0"/><circle cx="92.11" cy="420.39" r="2.0"/><circle cx="93.13" cy="420.42" r="2.0"/><circle cx="94.14" cy="420.53" r="2.0"/><circle cx="95.15" cy="420.52" r="2.0"/><circle cx="96.17" cy="420.62" r="2.0"/><circle cx="97.18" cy="421.07" r="2.0"/><circle cx="98.19" cy="420.78" r="2.0"/><circle cx="99.21" cy="421.46" r="2.0"/><circle cx="100.22" cy="421.16" r="2.0"/><circle cx="101.23" cy="421.42" r="2.0"/><circle cx="102.25" cy="421.94" r="2.0"/><circle cx="103.26" cy="421.26" r="2.0"/><circle cx="104.27" cy="421.23" r="2.0"/><circle cx="105.29" cy="421.57" r="2.0"/><circle cx="106.30" cy="422.31" r="2.0"/><circle cx="107.31" cy="422.64" r="2.0"/><circle cx="108.33" cy="422.00" r="2.0"/><circle cx="109.34" cy="422.21" r="2.0"/><circle cx="110.35" cy="422.56" r="2.0"/><circle cx="111.37" cy="422.69" r="2.0"/><circle cx="112.38" cy="423.05" r="2.0"/><circle cx="113.39" cy="422.71" r="2.0"/><circle cx="114.41" cy="423.35" r="2.0"/><circle cx="115.42" cy="423.30" r="2.0"/><circle cx="116.43" cy="423.12" r="2.0"/><circle cx="117.45" cy="422.84" r="2.0"/><circle cx="118.46" cy="423.10" r="2.0"/><circle cx="119.47" cy="423.14" r="2.0"/><circle cx="120.49" cy="423.18" r="2.0"/><circle cx="121.50" cy="423.41" r="2.0"/><circle cx="122.51" cy="423.90" r="2.0"/><circle cx="123.53" cy="423.86" r="2.0"/><circle cx="124.54" cy="424.06" r="2.0"/><circle cx="125.55" cy="424.39" r="2.0"/><circle cx="126.57" cy="424.43" r="2.0"/><circle cx="127.58" cy="424.60" r="2.0"/><circle cx="128.59" cy="425.07" r="2.0"/><circle cx="129.61" cy="425.27" r="2.0"/><circle cx="130.62" cy="425.06" r="2.0"/><circle cx="131.63" cy="425.07" r="2.0"/><circle cx="132.65" cy="425.17" r="2.0"/><circle cx="133.66" cy="425.26" r="2.0"/><circle cx="134.67" cy="425.63" r="2.0"/><circle cx="135.69" cy="425.84" r="2.0"/><circle cx="136.70" cy="426.18" r="2.0"/><circle cx="137.71" cy="426.30" r="2.0"/><circle cx="138.73" cy="426.70" r="2.0"/><circle cx="139.74" cy="426.02" r="2.0"/><circle cx="140.75" cy="425.77" r="2.0"/><circle cx="141.77" cy="425.89" r="2.0"/><circle cx="142.78" cy="425.40" r="2.0"/><circle cx="143.79" cy="425.46" r="2.0"/><circle cx="144.81" cy="425.59" r="2.0"/><circle cx="145.82" cy="425.80" r="2.0"/><circle cx="146.83" cy="425.33" r="2.0"/><circle cx="147.85" cy="425.42" r="2.0"/><circle cx="148.86" cy="426.13" r="2.0"/><circle cx="149.87" cy="425.76" r="2.0"/><circle cx="150.89" cy="425.63" r="2.0"/><circle cx="151.90" cy="426.17" r="2.0"/><circle cx="152.91" cy="425.55" r="2.0"/><circle cx="153.93" cy="426.10" r="2.0"/><circle cx="154.94" cy="425.96" r="2.0"/><circle cx="155.95" cy="426.23" r="2.0"/><circle cx="156.97" cy="426.13" r="2.0"/><circle cx="157.98" cy="426.17" r="2.0"/><circle cx="158.99" cy="425.91" r="2.0"/><circle cx="160.01" cy="426.40" r="2.0"/><circle cx="161.02" cy="426.24" r="2.0"/><circle cx="162.03" cy="426.25" r="2.0"/><circle cx="163.05" cy="426.54" r="2.0"/><circle cx="164.06" cy="426.41" r="2.0"/><circle cx="165.07" cy="426.91" r="2.0"/><circle cx="166.09" cy="426.94" r="2.0"/><circle cx="167.10" cy="426.77" r="2.0"/><circle cx="168.11" cy="427.27" r="2.0"/><circle cx="169.13" cy="427.30" r="2.0"/><circle cx="170.14" cy="427.36" r="2.0"/><circle cx="171.15" cy="427.68" r="2.0"/><circle cx="172.17" cy="427.88" r="2.0"/><circle cx="173.18" cy="428.17" r="2.0"/><circle cx="174.19" cy="428.04" r="2.0"/><circle cx="175.21" cy="428.41" r="2.0"/><circle cx="176.22" cy="429.18" r="2.0"/><circle cx="177.23" cy="428.60" r="2.0"/><circle cx="178.25" cy="428.47" r="2.0"/><circle cx="179.26" cy="428.71" r="2.0"/><circle cx="180.27" cy="428.65" r="2.0"/><circle cx="181.29" cy="429.16" r="2.0"/><circle cx="182.30" cy="428.62" r="2.0"/><circle cx="183.31" cy="428.91" r="2.0"/><circle cx="184.33" cy="429.13" r="2.0"/><circle cx="185.34" cy="428.86" r="2.0"/><circle cx="186.35" cy="429.11" r="2.0"/><circle cx="187.37" cy="429.44" r="2.0"/><circle cx="188.38" cy="429.28" r="2.0"/><circle cx="189.39" cy="429.21" r="2.0"/><circle cx="190.41" cy="429.44" r="2.0"/><circle cx="191.42" cy="429.33" r="2.0"/><circle cx="192.43" cy="429.63" r="2.0"/><circle cx="193.45" cy="429.95" r="2.0"/><circle cx="194.46" cy="429.28" r="2.0"/><circle cx="195.47" cy="429.51" r="2.0"/><circle cx="196.49" cy="429.54" r="2.0"/><circle cx="197.50" cy="430.11" r="2.0"/></g>
<path d="M51.60,418.70L51.60,424.20L46.50,424.20" fill="none" stroke="#3a3a3a" stroke-width="0.9"/>
<path d="M46.50,424.20l4,-1.3v2.6z" fill="#3a3a3a"/>
<path d="M181.80,373.70L181.80,379.20L191.00,379.20" fill="none" stroke="#3a3a3a" stroke-width="0.9"/>
<path d="M191.00,379.20l-4,-1.3v2.6z" fill="#3a3a3a"/>
<text x="83.80" y="363.80" font-size="8.4" >Single-Layer Pouch Cell</text>
<g fill="url(#pg)" stroke="#e8848d" stroke-width="0.4"><circle cx="134.70" cy="460.10" r="2.3"/></g>
<text x="146.20" y="463.00" font-size="8.4" >PVM-GPE</text>
<text x="49.50" y="475.60" font-size="8.4" >Li||NCM811, 0.2 C=37.6 mA g<tspan dy="-3" font-size="5.8">-1</tspan><tspan dy="3"> ,25°C</tspan></text>
<clipPath id="cg"><rect x="273.5" y="355.5" width="152.0" height="123.0"/></clipPath>
<path d="M273.50,404.70C276.24,404.24 284.24,402.86 289.92,401.93C295.59,401.01 300.88,400.34 307.55,399.16C314.22,397.99 323.74,396.50 329.92,394.86C336.10,393.22 338.89,391.27 344.64,389.32C350.38,387.38 358.52,385.12 364.40,383.18C370.27,381.23 374.78,379.38 379.90,377.64C385.02,375.90 391.35,373.85 395.10,372.72C398.85,371.59 400.37,371.49 402.40,370.88C404.42,370.26 405.94,369.64 407.26,369.03C408.58,368.41 409.79,367.49 410.30,367.19" fill="none" stroke="#e8464e" stroke-width="1.3" stroke-linejoin="round" stroke-linecap="round" clip-path="url(#cg)"/>
<path d="M273.50,404.70C276.24,404.19 284.24,402.86 289.92,401.62C295.59,400.39 301.72,398.55 307.55,397.32C313.37,396.09 318.69,395.99 324.88,394.25C331.06,392.50 338.05,389.32 344.64,386.87C351.22,384.41 358.52,381.54 364.40,379.49C370.27,377.44 375.29,376.00 379.90,374.56C384.51,373.13 388.51,372.10 392.06,370.88C395.61,369.65 399.66,367.80 401.18,367.19" fill="none" stroke="#4f8ef0" stroke-width="1.3" stroke-linejoin="round" stroke-linecap="round" clip-path="url(#cg)"/>
<path d="M273.50,404.09C276.24,403.47 284.24,401.73 289.92,400.39C295.59,399.06 302.53,397.42 307.55,396.09C312.56,394.76 313.83,394.55 320.01,392.40C326.19,390.25 338.20,385.63 344.64,383.18C351.07,380.72 354.47,379.28 358.62,377.64C362.77,376.00 366.42,374.46 369.56,373.34C372.71,372.21 374.63,371.90 377.47,370.88C380.31,369.85 385.07,367.80 386.59,367.19" fill="none" stroke="#58d68d" stroke-width="1.3" stroke-linejoin="round" stroke-linecap="round" clip-path="url(#cg)"/>
<path d="M273.50,403.47C276.24,402.75 284.24,400.70 289.92,399.16C295.59,397.63 302.53,395.88 307.55,394.25C312.56,392.61 313.83,391.78 320.01,389.32C326.19,386.87 337.19,382.46 344.64,379.49C352.08,376.51 359.23,373.54 364.70,371.49C370.17,369.44 375.34,367.90 377.47,367.19" fill="none" stroke="#b27cf0" stroke-width="1.3" stroke-linejoin="round" stroke-linecap="round" clip-path="url(#cg)"/>
<path d="M273.50,402.86C276.24,402.14 284.24,400.19 289.92,398.55C295.59,396.91 302.53,394.76 307.55,393.01C312.56,391.27 313.83,390.76 320.01,388.09C326.19,385.43 338.20,379.79 344.64,377.02C351.07,374.26 354.36,373.13 358.62,371.49C362.88,369.85 368.25,367.90 370.17,367.19" fill="none" stroke="#7a70d8" stroke-width="1.3" stroke-linejoin="round" stroke-linecap="round" clip-path="url(#cg)"/>
<path d="M273.50,372.72C274.72,373.13 278.06,374.16 280.80,375.18C283.53,376.20 286.98,377.54 289.92,378.87C292.85,380.20 295.49,381.74 298.43,383.18C301.37,384.61 304.51,386.25 307.55,387.48C310.59,388.71 313.78,389.43 316.67,390.56C319.56,391.68 321.94,393.01 324.88,394.25C327.81,395.48 330.20,396.65 334.30,397.94C338.40,399.22 344.43,400.81 349.50,401.93C354.57,403.06 359.63,403.83 364.70,404.70C369.77,405.57 375.85,406.24 379.90,407.16C383.95,408.08 386.28,408.80 389.02,410.24C391.76,411.67 394.39,413.62 396.32,415.77C398.24,417.92 399.46,420.38 400.57,423.15C401.69,425.92 402.24,428.27 403.00,432.38C403.76,436.48 404.52,443.14 405.13,447.75C405.74,452.36 406.40,458.00 406.65,460.05" fill="none" stroke="#e8464e" stroke-width="1.3" stroke-linejoin="round" stroke-linecap="round" clip-path="url(#cg)"/>
<path d="M273.50,372.72C274.72,373.13 278.06,374.16 280.80,375.18C283.53,376.20 286.98,377.54 289.92,378.87C292.85,380.20 295.49,381.74 298.43,383.18C301.37,384.61 304.51,386.25 307.55,387.48C310.59,388.71 313.78,389.43 316.67,390.56C319.56,391.68 321.94,393.01 324.88,394.25C327.81,395.48 330.20,396.60 334.30,397.94C338.40,399.27 344.43,401.01 349.50,402.24C354.57,403.47 359.63,404.19 364.70,405.31C369.77,406.44 376.25,407.88 379.90,409.00C383.55,410.13 384.46,410.44 386.59,412.08C388.72,413.72 391.15,415.97 392.67,418.84C394.19,421.71 394.85,425.00 395.71,429.30C396.57,433.61 397.13,439.55 397.84,444.68C398.55,449.80 399.61,457.49 399.96,460.05" fill="none" stroke="#4f8ef0" stroke-width="1.3" stroke-linejoin="round" stroke-linecap="round" clip-path="url(#cg)"/>
<path d="M273.50,373.34C274.72,373.85 278.06,375.28 280.80,376.41C283.53,377.54 286.98,378.67 289.92,380.10C292.85,381.54 295.49,383.48 298.43,385.02C301.37,386.56 304.51,387.99 307.55,389.32C310.59,390.66 313.73,391.78 316.67,393.01C319.61,394.25 321.33,395.17 325.18,396.70C329.03,398.24 335.21,400.60 339.77,402.24C344.33,403.88 348.44,405.31 352.54,406.55C356.64,407.78 361.36,408.39 364.40,409.62C367.44,410.85 368.70,411.98 370.78,413.93C372.86,415.87 375.24,418.23 376.86,421.31C378.48,424.38 379.44,427.97 380.51,432.38C381.57,436.78 382.43,443.14 383.24,447.75C384.05,452.36 385.02,458.00 385.37,460.05" fill="none" stroke="#58d68d" stroke-width="1.3" stroke-linejoin="round" stroke-linecap="round" clip-path="url(#cg)"/>
<path d="M273.50,374.56C274.72,374.97 278.06,375.79 280.80,377.02C283.53,378.25 286.98,380.31 289.92,381.94C292.85,383.58 295.49,385.33 298.43,386.87C301.37,388.40 304.51,389.84 307.55,391.17C310.59,392.50 312.94,393.43 316.67,394.86C320.40,396.30 325.97,398.14 329.92,399.78C333.87,401.42 336.31,403.06 340.38,404.70C344.45,406.34 350.82,408.08 354.36,409.62C357.91,411.16 359.43,412.18 361.66,413.93C363.89,415.67 366.15,418.02 367.74,420.07C369.33,422.12 370.23,423.66 371.21,426.23C372.18,428.79 372.84,431.86 373.58,435.45C374.32,439.04 375.00,443.65 375.64,447.75C376.29,451.85 377.16,458.00 377.47,460.05" fill="none" stroke="#b27cf0" stroke-width="1.3" stroke-linejoin="round" stroke-linecap="round" clip-path="url(#cg)"/>
<path d="M273.50,375.80C274.72,376.10 278.06,376.51 280.80,377.64C283.53,378.77 286.98,380.92 289.92,382.56C292.85,384.20 295.49,385.94 298.43,387.48C301.37,389.02 304.51,390.45 307.55,391.78C310.59,393.12 312.94,393.84 316.67,395.48C320.40,397.12 324.96,399.27 329.92,401.62C334.89,403.98 342.89,407.88 346.46,409.62C350.03,411.36 349.80,411.16 351.32,412.08C352.84,413.00 354.16,413.93 355.58,415.16C357.00,416.39 358.52,417.72 359.84,419.46C361.15,421.20 362.42,422.94 363.48,425.61C364.55,428.28 365.41,431.76 366.22,435.45C367.03,439.14 367.69,443.65 368.35,447.75C369.01,451.85 369.87,458.00 370.17,460.05" fill="none" stroke="#7a70d8" stroke-width="1.3" stroke-linejoin="round" stroke-linecap="round" clip-path="url(#cg)"/>
<path d="M274.8,430.5H293.5" stroke="#e8464e" stroke-width="1.5"/>
<text x="295.20" y="433.40" font-size="8.4" >2nd</text>
<path d="M274.8,440.6H293.5" stroke="#4f8ef0" stroke-width="1.5"/>
<text x="295.20" y="443.50" font-size="8.4" >10th</text>
<path d="M274.8,450.4H293.5" stroke="#58d68d" stroke-width="1.5"/>
<text x="295.20" y="453.30" font-size="8.4" >50th</text>
<path d="M274.8,460.4H293.5" stroke="#b27cf0" stroke-width="1.5"/>
<text x="295.20" y="463.30" font-size="8.4" >100th</text>
<path d="M274.8,470.2H293.5" stroke="#7a70d8" stroke-width="1.5"/>
<text x="295.20" y="473.10" font-size="8.4" >150th</text>
<clipPath id="ch"><rect x="508.5" y="353.5" width="147.0" height="122.0"/></clipPath>
<path d="M508.50,421.82C508.52,420.09 508.54,415.72 508.62,411.45C508.70,407.18 508.85,399.05 508.99,396.20C509.13,393.35 509.19,394.37 509.48,394.37C509.77,394.37 509.97,395.39 510.70,396.20C511.44,397.01 509.77,398.64 513.89,399.25C518.01,399.86 528.53,400.27 535.45,399.86C542.37,399.45 550.31,397.42 555.42,396.81C560.52,396.20 561.97,397.01 566.08,396.20C570.18,395.39 575.34,393.56 580.04,391.93C584.74,390.30 589.02,388.47 594.25,386.44C599.48,384.41 606.91,381.66 611.40,379.73C615.89,377.80 618.02,376.37 621.20,374.85C624.38,373.32 627.86,371.70 630.51,370.58C633.16,369.46 634.29,368.85 637.12,368.14C639.96,367.43 645.80,366.62 647.54,366.31" fill="none" stroke="#e65a5f" stroke-width="1.35" stroke-linejoin="round" stroke-linecap="round" clip-path="url(#ch)"/>
<path d="M508.50,413.28C508.54,412.16 508.50,408.09 508.75,406.57C508.99,405.05 505.52,405.35 509.97,404.13C514.42,402.91 527.88,400.67 535.45,399.25C543.02,397.83 550.31,396.71 555.42,395.59C560.52,394.47 561.97,394.07 566.08,392.54C570.18,391.01 573.77,389.29 580.04,386.44C586.31,383.59 597.23,378.21 603.68,375.46C610.13,372.72 615.01,371.29 618.75,369.97C622.49,368.65 623.89,368.14 626.10,367.53C628.31,366.92 631.00,366.51 631.98,366.31" fill="none" stroke="#4f8ef0" stroke-width="1.35" stroke-linejoin="round" stroke-linecap="round" clip-path="url(#ch)"/>
<path d="M508.50,413.28C508.54,412.16 508.50,408.09 508.75,406.57C508.99,405.05 505.52,405.35 509.97,404.13C514.42,402.91 527.88,400.77 535.45,399.25C543.02,397.73 550.31,396.20 555.42,394.98C560.52,393.76 561.97,393.46 566.08,391.93C570.18,390.40 573.77,388.78 580.04,385.83C586.31,382.88 597.23,377.09 603.68,374.24C610.13,371.39 614.40,370.07 618.75,368.75C623.10,367.43 627.94,366.72 629.77,366.31" fill="none" stroke="#5ed98f" stroke-width="1.35" stroke-linejoin="round" stroke-linecap="round" clip-path="url(#ch)"/>
<path d="M508.50,410.84C508.54,409.82 508.50,406.26 508.75,404.74C508.99,403.22 505.52,403.01 509.97,401.69C514.42,400.37 527.88,398.23 535.45,396.81C543.02,395.39 550.31,394.47 555.42,393.15C560.52,391.83 561.97,390.71 566.08,388.88C570.18,387.05 573.77,385.02 580.04,382.17C586.31,379.32 598.25,374.04 603.68,371.80C609.11,369.56 609.50,369.66 612.62,368.75C615.75,367.84 620.79,366.72 622.42,366.31" fill="none" stroke="#b87ff0" stroke-width="1.35" stroke-linejoin="round" stroke-linecap="round" clip-path="url(#ch)"/>
<path d="M508.50,410.23C508.54,409.21 508.50,405.65 508.75,404.13C508.99,402.61 505.52,402.40 509.97,401.08C514.42,399.76 527.88,397.62 535.45,396.20C543.02,394.78 550.31,393.86 555.42,392.54C560.52,391.22 561.97,390.10 566.08,388.27C570.18,386.44 573.77,384.41 580.04,381.56C586.31,378.71 598.25,373.43 603.68,371.19C609.11,368.95 609.79,368.95 612.62,368.14C615.46,367.33 619.36,366.62 620.71,366.31" fill="none" stroke="#7b72dc" stroke-width="1.35" stroke-linejoin="round" stroke-linecap="round" clip-path="url(#ch)"/>
<path d="M508.50,366.92C508.56,367.53 508.46,369.67 508.87,370.58C509.28,371.50 509.79,371.80 510.95,372.41C512.11,373.02 513.71,373.63 515.85,374.24C517.99,374.85 521.36,375.05 523.81,376.07C526.26,377.09 527.79,378.61 530.55,380.34C533.31,382.07 537.08,384.71 540.35,386.44C543.62,388.17 546.88,389.18 550.15,390.71C553.42,392.24 557.30,394.42 559.95,395.59C562.60,396.76 562.73,396.81 566.08,397.73C569.42,398.64 575.34,400.01 580.04,401.08C584.74,402.15 589.84,403.11 594.25,404.13C598.66,405.15 602.42,405.96 606.50,407.18C610.58,408.40 615.79,409.72 618.75,411.45C621.71,413.18 623.00,415.01 624.26,417.55C625.53,420.09 625.86,422.12 626.35,426.70C626.84,431.27 627.02,439.92 627.20,445.00C627.39,450.08 627.41,455.17 627.45,457.20" fill="none" stroke="#e65a5f" stroke-width="1.35" stroke-linejoin="round" stroke-linecap="round" clip-path="url(#ch)"/>
<path d="M508.50,365.39C508.56,366.00 508.46,368.14 508.87,369.06C509.28,369.97 509.79,370.27 510.95,370.88C512.11,371.49 513.71,372.10 515.85,372.71C517.99,373.32 521.36,373.53 523.81,374.54C526.26,375.56 527.79,377.09 530.55,378.81C533.31,380.54 537.08,383.19 540.35,384.92C543.62,386.64 546.88,387.66 550.15,389.19C553.42,390.71 557.30,392.69 559.95,394.06C562.60,395.44 562.73,396.35 566.08,397.42C569.42,398.49 575.34,399.45 580.04,400.47C584.74,401.49 589.84,402.61 594.25,403.52C598.66,404.43 602.31,404.84 606.50,405.96C610.69,407.08 616.03,408.81 619.36,410.23C622.69,411.65 624.94,412.47 626.47,414.50C628.00,416.53 628.02,417.35 628.55,422.43C629.08,427.51 629.41,439.20 629.65,445.00C629.90,450.80 629.96,455.17 630.02,457.20" fill="none" stroke="#4f8ef0" stroke-width="1.35" stroke-linejoin="round" stroke-linecap="round" clip-path="url(#ch)"/>
<path d="M508.50,366.31C508.56,366.92 508.46,369.06 508.87,369.97C509.28,370.88 509.79,371.19 510.95,371.80C512.11,372.41 513.71,373.02 515.85,373.63C517.99,374.24 521.36,374.44 523.81,375.46C526.26,376.48 527.79,378.00 530.55,379.73C533.31,381.46 537.08,384.10 540.35,385.83C543.62,387.56 546.88,388.58 550.15,390.10C553.42,391.62 557.30,393.66 559.95,394.98C562.60,396.30 562.73,396.91 566.08,398.03C569.42,399.15 575.34,400.57 580.04,401.69C584.74,402.81 589.84,403.62 594.25,404.74C598.66,405.86 602.83,406.98 606.50,408.40C610.17,409.82 613.85,411.45 616.30,413.28C618.75,415.11 619.91,416.13 621.20,419.38C622.49,422.63 623.40,428.53 624.02,432.80C624.63,437.07 624.69,440.93 624.88,445.00C625.06,449.07 625.08,455.17 625.12,457.20" fill="none" stroke="#5ed98f" stroke-width="1.35" stroke-linejoin="round" stroke-linecap="round" clip-path="url(#ch)"/>
<path d="M508.50,367.41C508.56,368.02 508.46,370.15 508.87,371.07C509.28,371.98 509.79,372.29 510.95,372.90C512.11,373.51 513.71,374.12 515.85,374.73C517.99,375.34 521.36,375.54 523.81,376.56C526.26,377.57 527.79,379.10 530.55,380.83C533.31,382.56 537.08,385.20 540.35,386.93C543.62,388.66 546.88,389.67 550.15,391.20C553.42,392.72 557.30,394.84 559.95,396.08C562.60,397.32 562.73,397.40 566.08,398.64C569.42,399.88 575.34,402.10 580.04,403.52C584.74,404.94 589.23,405.55 594.25,407.18C599.27,408.81 606.40,410.43 610.17,413.28C613.95,416.13 615.18,418.97 616.91,424.26C618.65,429.55 619.73,439.51 620.59,445.00C621.44,450.49 621.81,455.17 622.06,457.20" fill="none" stroke="#b87ff0" stroke-width="1.35" stroke-linejoin="round" stroke-linecap="round" clip-path="url(#ch)"/>
<path d="M508.50,368.26C508.56,368.87 508.46,371.01 508.87,371.92C509.28,372.84 509.79,373.14 510.95,373.75C512.11,374.36 513.71,374.97 515.85,375.58C517.99,376.19 521.36,376.40 523.81,377.41C526.26,378.43 527.79,379.95 530.55,381.68C533.31,383.41 537.08,386.05 540.35,387.78C543.62,389.51 546.88,390.53 550.15,392.05C553.42,393.58 557.30,395.68 559.95,396.93C562.60,398.18 562.73,398.15 566.08,399.56C569.42,400.96 576.37,403.88 580.04,405.35C583.71,406.82 585.00,407.08 588.12,408.40C591.25,409.72 595.11,410.94 598.78,413.28C602.46,415.62 607.26,419.18 610.17,422.43C613.09,425.68 614.91,429.04 616.30,432.80C617.69,436.56 617.99,440.93 618.50,445.00C619.02,449.07 619.22,455.17 619.36,457.20" fill="none" stroke="#7b72dc" stroke-width="1.35" stroke-linejoin="round" stroke-linecap="round" clip-path="url(#ch)"/>
<path d="M618.63,457.20V421.82" stroke="#7b72dc" stroke-width="1.2"/>
<path d="M621.32,457.20V421.82" stroke="#b87ff0" stroke-width="1.2"/>
<path d="M624.26,457.20V421.82" stroke="#5ed98f" stroke-width="1.2"/>
<path d="M628.92,457.20V421.82" stroke="#e65a5f" stroke-width="1.2"/>
<path d="M630.51,457.20V421.82" stroke="#4f8ef0" stroke-width="1.2"/>
<path d="M509.5,425.8H529.4" stroke="#e65a5f" stroke-width="1.5"/>
<text x="531.40" y="428.70" font-size="8.4" >1st</text>
<path d="M509.5,436.4H529.4" stroke="#4f8ef0" stroke-width="1.5"/>
<text x="531.40" y="439.30" font-size="8.4" >2nd</text>
<path d="M509.5,446.9H529.4" stroke="#5ed98f" stroke-width="1.5"/>
<text x="531.40" y="449.80" font-size="8.4" >3rd</text>
<path d="M509.5,457.4H529.4" stroke="#b87ff0" stroke-width="1.5"/>
<text x="531.40" y="460.30" font-size="8.4" >4th</text>
<path d="M509.5,467.9H529.4" stroke="#7b72dc" stroke-width="1.5"/>
<text x="531.40" y="470.80" font-size="8.4" >5th</text>
<text x="519.50" y="362.30" font-size="8.6" >Multi-Layers Pouch Cell</text>
<text x="620.40" y="361.80" font-size="8.4" >1Ah</text>
<text x="635.20" y="452.70" font-size="8.9" >0.1C</text>
<text x="573.30" y="471.40" font-size="8.7" >20 μm Li||NCM811</text>
<rect x="44.50" y="21.50" width="187.00" height="120.00" fill="none" stroke="#4a4a4a" stroke-width="1.10"/>
<path d="M44.50,141.50v2.5M90.22,141.50v2.5M135.94,141.50v2.5M181.66,141.50v2.5M227.39,141.50v2.5M67.36,141.50v1.5M113.08,141.50v1.5M158.80,141.50v1.5M204.52,141.50v1.5" stroke="#4a4a4a" stroke-width="1" fill="none"/>
<path d="M44.50,141.50h-2.5M44.50,121.50h-2.5M44.50,101.50h-2.5M44.50,81.50h-2.5M44.50,61.50h-2.5M44.50,41.50h-2.5M44.50,21.50h-2.5M44.50,131.50h-1.5M44.50,111.50h-1.5M44.50,91.50h-1.5M44.50,71.50h-1.5M44.50,51.50h-1.5M44.50,31.50h-1.5" stroke="#4a4a4a" stroke-width="1" fill="none"/>
<path d="M231.50,141.50h-2.5M231.50,119.60h-2.5M231.50,97.70h-2.5M231.50,75.81h-2.5M231.50,53.91h-2.5M231.50,32.01h-2.5M231.50,130.55h-1.5M231.50,108.65h-1.5M231.50,86.76h-1.5M231.50,64.86h-1.5M231.50,42.96h-1.5" stroke="#4a4a4a" stroke-width="1" fill="none"/>
<rect x="327.50" y="21.50" width="327.00" height="120.00" fill="none" stroke="#4a4a4a" stroke-width="1.10"/>
<path d="M327.50,141.50v2.5M368.38,141.50v2.5M409.25,141.50v2.5M450.12,141.50v2.5M491.00,141.50v2.5M531.88,141.50v2.5M572.75,141.50v2.5M613.62,141.50v2.5M654.50,141.50v2.5M347.94,141.50v1.5M388.81,141.50v1.5M429.69,141.50v1.5M470.56,141.50v1.5M511.44,141.50v1.5M552.31,141.50v1.5M593.19,141.50v1.5M634.06,141.50v1.5" stroke="#4a4a4a" stroke-width="1" fill="none"/>
<path d="M327.50,141.50h-2.5M327.50,121.50h-2.5M327.50,101.50h-2.5M327.50,81.50h-2.5M327.50,61.50h-2.5M327.50,41.50h-2.5M327.50,21.50h-2.5M327.50,131.50h-1.5M327.50,111.50h-1.5M327.50,91.50h-1.5M327.50,71.50h-1.5M327.50,51.50h-1.5M327.50,31.50h-1.5" stroke="#4a4a4a" stroke-width="1" fill="none"/>
<path d="M654.50,141.50h-2.5M654.50,118.60h-2.5M654.50,95.70h-2.5M654.50,72.80h-2.5M654.50,49.90h-2.5M654.50,27.00h-2.5M654.50,130.05h-1.5M654.50,107.15h-1.5M654.50,84.25h-1.5M654.50,61.35h-1.5M654.50,38.45h-1.5" stroke="#4a4a4a" stroke-width="1" fill="none"/>
<rect x="45.50" y="191.50" width="150.00" height="119.00" fill="none" stroke="#4a4a4a" stroke-width="1.10"/>
<path d="M45.50,310.50v2.5M68.58,310.50v2.5M91.65,310.50v2.5M114.73,310.50v2.5M137.81,310.50v2.5M160.88,310.50v2.5M183.96,310.50v2.5M57.04,310.50v1.5M80.12,310.50v1.5M103.19,310.50v1.5M126.27,310.50v1.5M149.35,310.50v1.5M172.42,310.50v1.5M195.50,310.50v1.5" stroke="#4a4a4a" stroke-width="1" fill="none"/>
<path d="M45.50,310.50h-2.5M45.50,290.67h-2.5M45.50,270.83h-2.5M45.50,251.00h-2.5M45.50,231.17h-2.5M45.50,211.33h-2.5M45.50,191.50h-2.5M45.50,300.58h-1.5M45.50,280.75h-1.5M45.50,260.92h-1.5M45.50,241.08h-1.5M45.50,221.25h-1.5M45.50,201.42h-1.5" stroke="#4a4a4a" stroke-width="1" fill="none"/>
<path d="M195.50,310.50h-2.5M195.50,288.86h-2.5M195.50,267.23h-2.5M195.50,245.59h-2.5M195.50,223.95h-2.5M195.50,202.32h-2.5M195.50,299.68h-1.5M195.50,278.05h-1.5M195.50,256.41h-1.5M195.50,234.77h-1.5M195.50,213.14h-1.5" stroke="#4a4a4a" stroke-width="1" fill="none"/>
<rect x="274.50" y="190.50" width="152.00" height="120.00" fill="none" stroke="#4a4a4a" stroke-width="1.10"/>
<path d="M274.50,310.50v2.5M304.90,310.50v2.5M335.30,310.50v2.5M365.70,310.50v2.5M396.10,310.50v2.5M426.50,310.50v2.5M289.70,310.50v1.5M320.10,310.50v1.5M350.50,310.50v1.5M380.90,310.50v1.5M411.30,310.50v1.5" stroke="#4a4a4a" stroke-width="1" fill="none"/>
<path d="M274.50,310.50h-2.5M274.50,290.50h-2.5M274.50,270.50h-2.5M274.50,250.50h-2.5M274.50,230.50h-2.5M274.50,210.50h-2.5M274.50,190.50h-2.5M274.50,300.50h-1.5M274.50,280.50h-1.5M274.50,260.50h-1.5M274.50,240.50h-1.5M274.50,220.50h-1.5M274.50,200.50h-1.5" stroke="#4a4a4a" stroke-width="1" fill="none"/>
<path d="M426.50,310.50h-2.5M426.50,288.68h-2.5M426.50,266.86h-2.5M426.50,245.05h-2.5M426.50,223.23h-2.5M426.50,201.41h-2.5M426.50,299.59h-1.5M426.50,277.77h-1.5M426.50,255.95h-1.5M426.50,234.14h-1.5M426.50,212.32h-1.5" stroke="#4a4a4a" stroke-width="1" fill="none"/>
<rect x="506.50" y="190.50" width="149.00" height="120.00" fill="none" stroke="#4a4a4a" stroke-width="1.10"/>
<path d="M506.50,310.50v2.5M543.75,310.50v2.5M581.00,310.50v2.5M618.25,310.50v2.5M655.50,310.50v2.5M525.12,310.50v1.5M562.38,310.50v1.5M599.62,310.50v1.5M636.88,310.50v1.5" stroke="#4a4a4a" stroke-width="1" fill="none"/>
<path d="M506.50,310.50h-2.5M506.50,290.50h-2.5M506.50,270.50h-2.5M506.50,250.50h-2.5M506.50,230.50h-2.5M506.50,210.50h-2.5M506.50,190.50h-2.5M506.50,300.50h-1.5M506.50,280.50h-1.5M506.50,260.50h-1.5M506.50,240.50h-1.5M506.50,220.50h-1.5M506.50,200.50h-1.5" stroke="#4a4a4a" stroke-width="1" fill="none"/>
<path d="M655.50,310.50h-2.5M655.50,288.68h-2.5M655.50,266.86h-2.5M655.50,245.05h-2.5M655.50,223.23h-2.5M655.50,201.41h-2.5M655.50,299.59h-1.5M655.50,277.77h-1.5M655.50,255.95h-1.5M655.50,234.14h-1.5M655.50,212.32h-1.5" stroke="#4a4a4a" stroke-width="1" fill="none"/>
<rect x="45.50" y="356.50" width="152.00" height="122.00" fill="none" stroke="#4a4a4a" stroke-width="1.10"/>
<path d="M45.50,478.50v2.5M75.90,478.50v2.5M106.30,478.50v2.5M136.70,478.50v2.5M167.10,478.50v2.5M197.50,478.50v2.5M60.70,478.50v1.5M91.10,478.50v1.5M121.50,478.50v1.5M151.90,478.50v1.5M182.30,478.50v1.5" stroke="#4a4a4a" stroke-width="1" fill="none"/>
<path d="M45.50,478.50h-2.5M45.50,463.25h-2.5M45.50,448.00h-2.5M45.50,432.75h-2.5M45.50,417.50h-2.5M45.50,402.25h-2.5M45.50,387.00h-2.5M45.50,371.75h-2.5M45.50,356.50h-2.5M45.50,470.88h-1.5M45.50,455.62h-1.5M45.50,440.38h-1.5M45.50,425.12h-1.5M45.50,409.88h-1.5M45.50,394.62h-1.5M45.50,379.38h-1.5M45.50,364.12h-1.5" stroke="#4a4a4a" stroke-width="1" fill="none"/>
<path d="M197.50,478.50h-2.5M197.50,456.32h-2.5M197.50,434.14h-2.5M197.50,411.95h-2.5M197.50,389.77h-2.5M197.50,367.59h-2.5M197.50,467.41h-1.5M197.50,445.23h-1.5M197.50,423.05h-1.5M197.50,400.86h-1.5M197.50,378.68h-1.5" stroke="#4a4a4a" stroke-width="1" fill="none"/>
<rect x="273.50" y="355.50" width="152.00" height="123.00" fill="none" stroke="#606060" stroke-width="1.26"/>
<path d="M273.50,478.50v2.5M303.90,478.50v2.5M334.30,478.50v2.5M364.70,478.50v2.5M395.10,478.50v2.5M425.50,478.50v2.5M288.70,478.50v1.5M319.10,478.50v1.5M349.50,478.50v1.5M379.90,478.50v1.5M410.30,478.50v1.5" stroke="#4a4a4a" stroke-width="1" fill="none"/>
<path d="M273.50,478.50h-2.5M273.50,447.75h-2.5M273.50,417.00h-2.5M273.50,386.25h-2.5M273.50,355.50h-2.5M273.50,463.12h-1.5M273.50,432.38h-1.5M273.50,401.62h-1.5M273.50,370.88h-1.5" stroke="#4a4a4a" stroke-width="1" fill="none"/>
<rect x="508.50" y="353.50" width="147.00" height="122.00" fill="none" stroke="#606060" stroke-width="1.26"/>
<path d="M508.50,475.50v2.5M533.00,475.50v2.5M557.50,475.50v2.5M582.00,475.50v2.5M606.50,475.50v2.5M631.00,475.50v2.5M655.50,475.50v2.5M520.75,475.50v1.5M545.25,475.50v1.5M569.75,475.50v1.5M594.25,475.50v1.5M618.75,475.50v1.5M643.25,475.50v1.5" stroke="#4a4a4a" stroke-width="1" fill="none"/>
<path d="M508.50,475.50h-2.5M508.50,445.00h-2.5M508.50,414.50h-2.5M508.50,384.00h-2.5M508.50,353.50h-2.5M508.50,460.25h-1.5M508.50,429.75h-1.5M508.50,399.25h-1.5M508.50,368.75h-1.5" stroke="#4a4a4a" stroke-width="1" fill="none"/>
</svg></body></html>
